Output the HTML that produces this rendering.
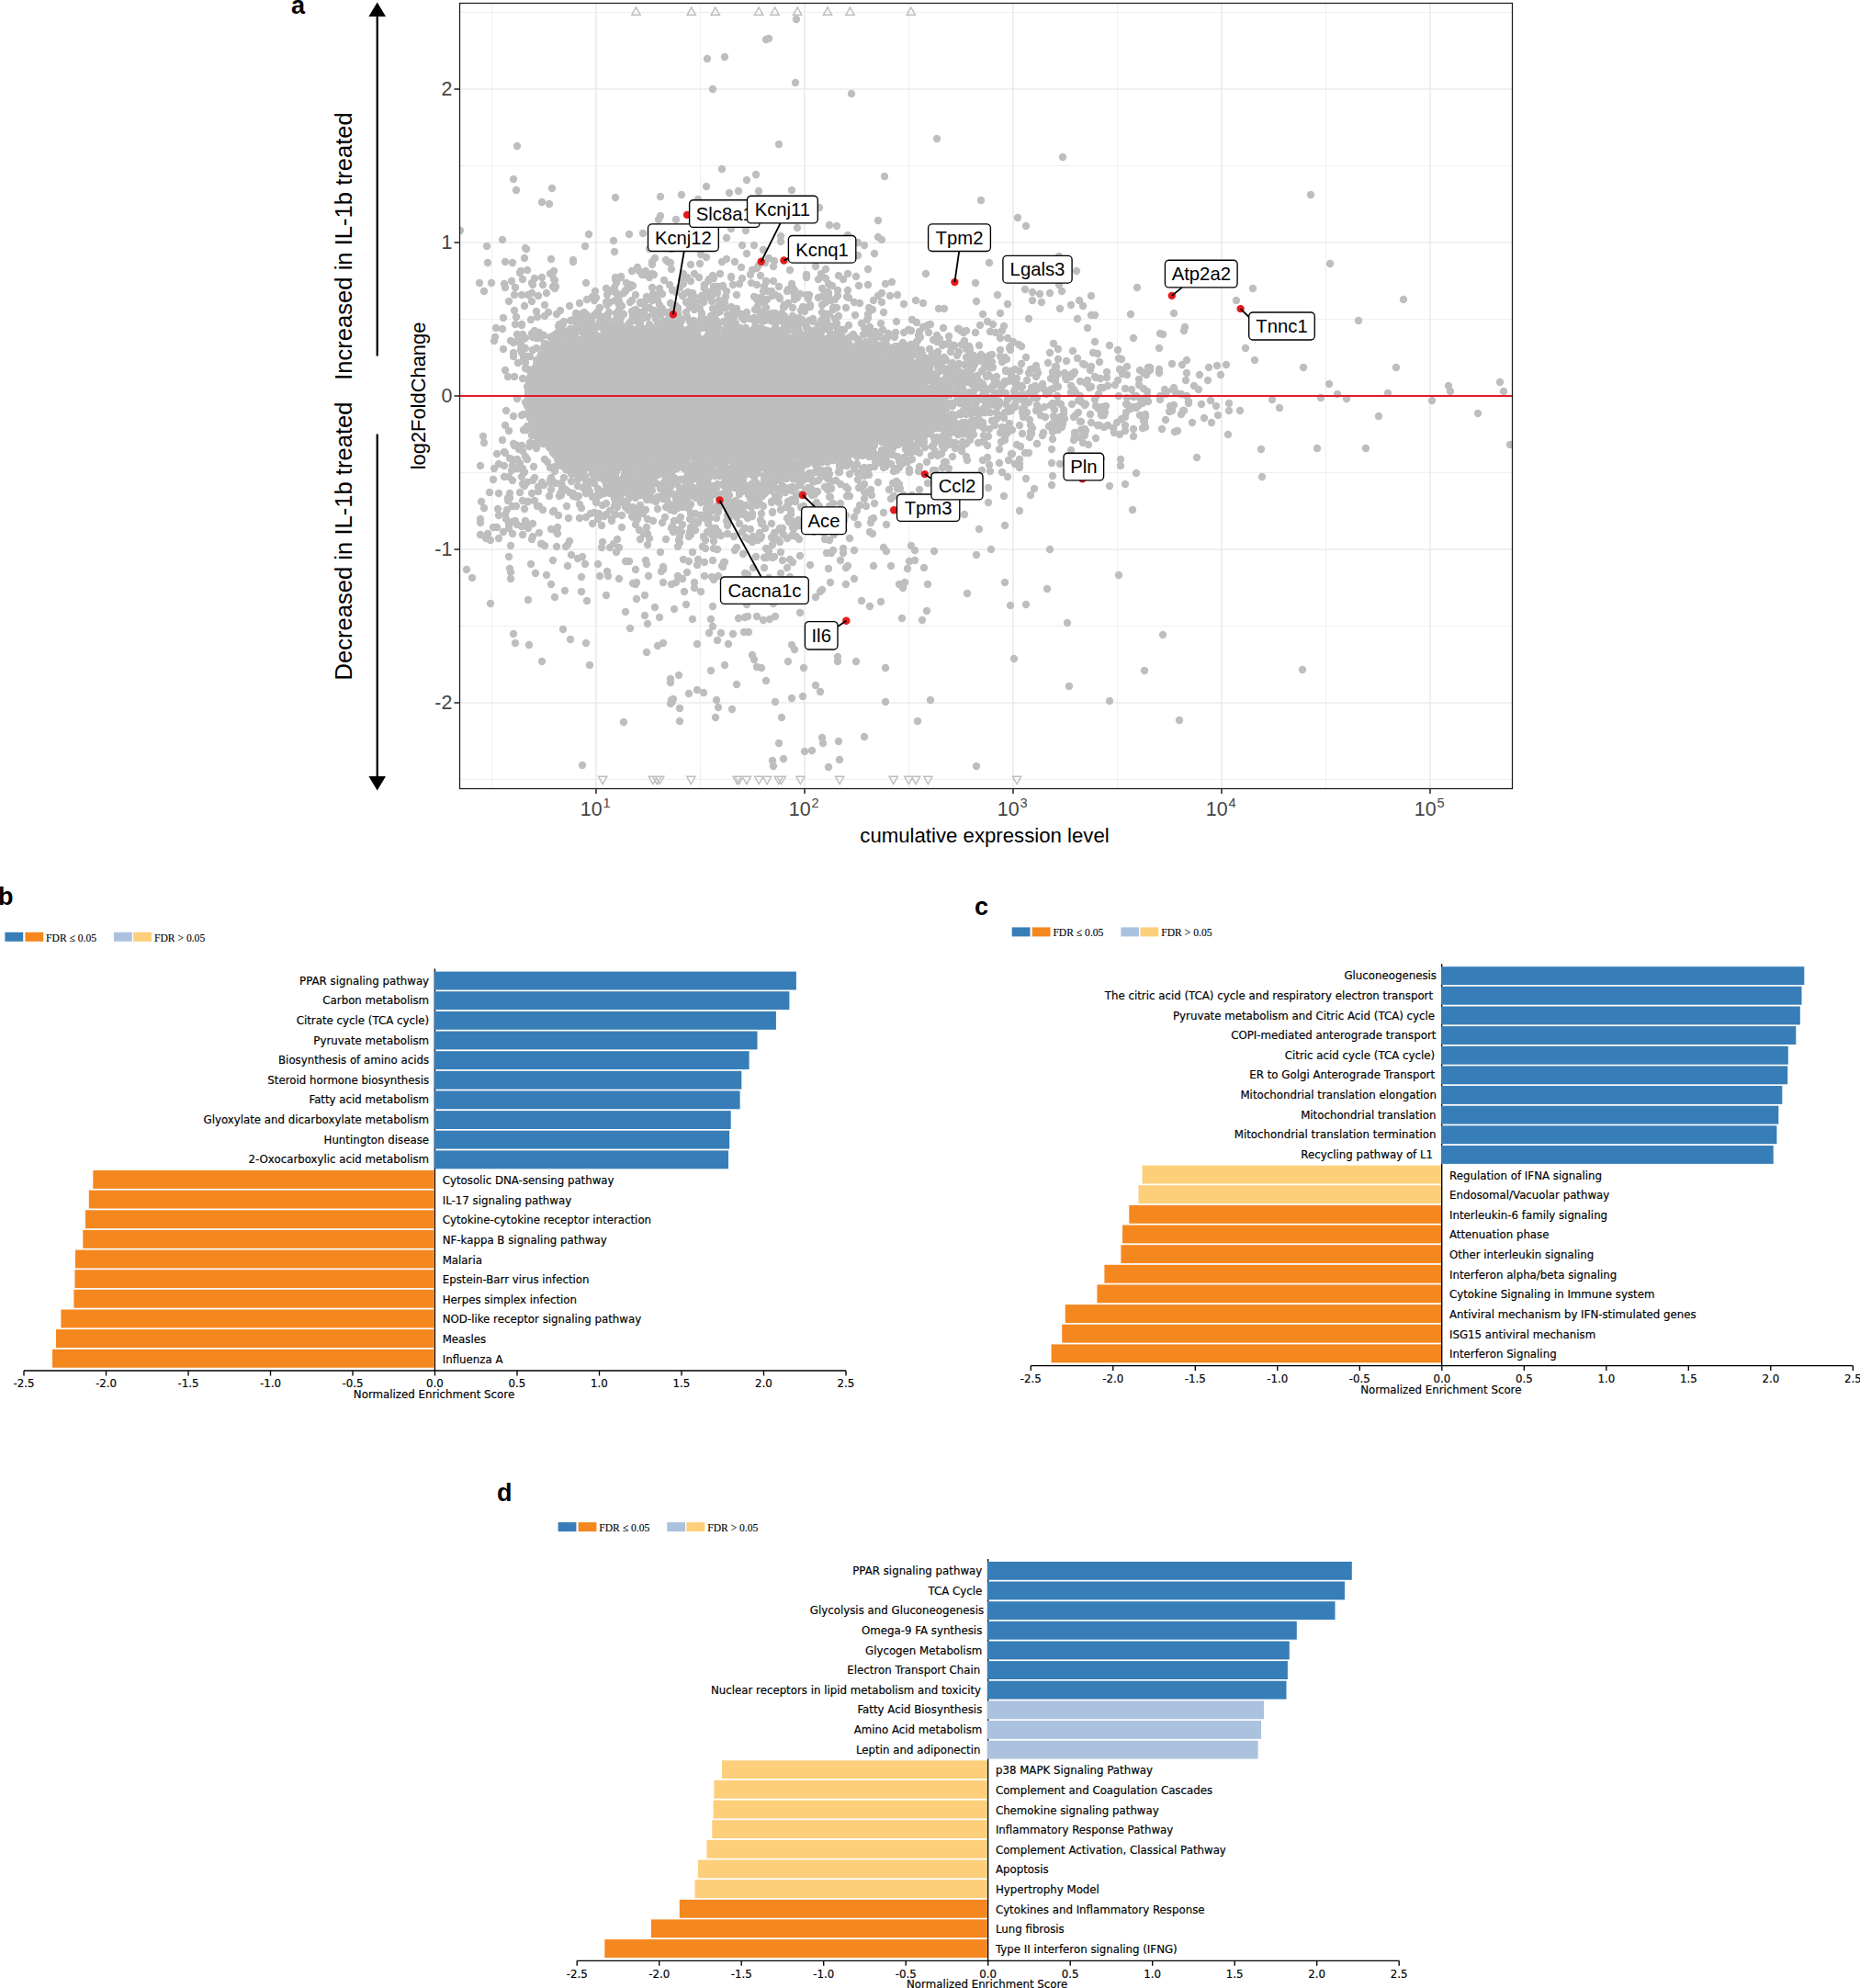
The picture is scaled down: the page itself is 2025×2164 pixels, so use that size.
<!DOCTYPE html><html><head><meta charset="utf-8"><title>Figure</title><style>
html,body{margin:0;padding:0;background:#fff;overflow:hidden}svg{display:block}
.h{font-family:"Liberation Sans",sans-serif}.d{font-family:"DejaVu Sans","Liberation Sans",sans-serif;font-size:11.8px;fill:#000;stroke:#000;stroke-width:0.18px}.s{font-family:"Liberation Serif",serif;font-size:11.6px;fill:#000;stroke:#000;stroke-width:0.12px}
.pl{font-family:"Liberation Sans",sans-serif;font-weight:bold;font-size:27px;fill:#000}
.g{font-family:"Liberation Sans",sans-serif;font-size:20.3px;fill:#000}.t{font-family:"Liberation Sans",sans-serif;font-size:21.4px;fill:#444}
</style></head><body>
<svg width="2025" height="2164" viewBox="0 0 2025 2164">
<rect width="2025" height="2164" fill="#fff"/>
<g id="panel-a">
<path d="M535.5 3.0V858.0M762.5 3.0V858.0M989.5 3.0V858.0M1216.5 3.0V858.0M1443.5 3.0V858.0M500.5 13.5H1646.5M500.5 180.5H1646.5M500.5 347.5H1646.5M500.5 514.5H1646.5M500.5 681.5H1646.5M500.5 848.5H1646.5" stroke="#ebebeb" stroke-width="0.8" fill="none"/>
<path d="M649.0 3.0V858.0M876.0 3.0V858.0M1103.0 3.0V858.0M1330.0 3.0V858.0M1557.0 3.0V858.0M500.5 97.0H1646.5M500.5 264.0H1646.5M500.5 431.0H1646.5M500.5 598.0H1646.5M500.5 765.0H1646.5" stroke="#ebebeb" stroke-width="1.6" fill="none"/>
<clipPath id="cp"><rect x="500.5" y="3.0" width="1146.0" height="855.0"/></clipPath>
<g clip-path="url(#cp)"><path d="M622 360h0M776 401h0M818 399h0M630 426h0M990 383h0M597 455h0M622 413h0M1014 424h0M827 459h0M722 385h0M781 423h0M844 399h0M683 545h0M625 421h0M899 293h0M847 514h0M781 439h0M914 434h0M796 547h0M1112 377h0M653 416h0M798 431h0M769 280h0M715 475h0M814 461h0M666 394h0M906 423h0M943 403h0M622 475h0M762 425h0M683 495h0M602 464h0M963 448h0M747 472h0M630 450h0M848 390h0M652 506h0M967 414h0M658 452h0M652 370h0M712 444h0M763 432h0M971 402h0M858 476h0M709 463h0M572 379h0M635 505h0M1242 435h0M759 427h0M855 454h0M590 442h0M580 437h0M930 478h0M812 484h0M696 369h0M700 443h0M605 432h0M640 396h0M926 463h0M762 349h0M621 461h0M876 416h0M650 431h0M817 417h0M963 440h0M577 426h0M908 450h0M647 486h0M606 402h0M690 389h0M871 434h0M773 391h0M934 436h0M658 355h0M699 428h0M675 473h0M1004 393h0M749 447h0M699 359h0M880 447h0M583 459h0M736 352h0M670 421h0M930 599h0M878 460h0M795 465h0M843 374h0M856 514h0M896 465h0M990 410h0M630 481h0M828 495h0M628 428h0M752 474h0M898 454h0M962 434h0M886 411h0M581 414h0M718 476h0M636 398h0M1278 422h0M628 446h0M670 491h0M717 407h0M593 402h0M945 428h0M833 422h0M635 456h0M775 410h0M600 398h0M822 350h0M664 486h0M582 465h0M616 470h0M799 363h0M833 491h0M703 413h0M836 458h0M715 365h0M622 492h0M699 479h0M732 376h0M976 394h0M616 479h0M604 492h0M802 453h0M1044 451h0M972 403h0M859 378h0M595 438h0M909 431h0M852 390h0M628 490h0M761 532h0M587 429h0M906 472h0M867 453h0M908 405h0M886 464h0M679 383h0M900 349h0M672 420h0M625 482h0M730 443h0M775 412h0M820 465h0M819 388h0M668 453h0M827 398h0M717 422h0M874 399h0M905 459h0M741 377h0M798 370h0M848 461h0M784 448h0M675 378h0M1104 426h0M608 447h0M703 426h0M796 406h0M633 420h0M905 327h0M897 479h0M833 429h0M967 479h0M884 448h0M692 368h0M836 402h0M710 288h0M881 417h0M728 437h0M632 441h0M949 466h0M855 396h0M879 389h0M801 420h0M897 449h0M754 435h0M803 440h0M593 425h0M799 347h0M913 408h0M862 454h0M907 402h0M774 422h0M952 485h0M613 393h0M949 433h0M722 429h0M606 389h0M826 382h0M757 511h0M746 431h0M934 413h0M625 439h0M825 431h0M740 382h0M788 350h0M776 467h0M624 426h0M781 435h0M940 478h0M639 416h0M596 394h0M759 406h0M1080 458h0M585 419h0M1182 469h0M791 444h0M618 439h0M742 423h0M654 468h0M865 417h0M793 423h0M688 468h0M674 438h0M943 454h0M889 445h0M749 460h0M737 429h0M876 436h0M1066 376h0M601 412h0M634 424h0M719 508h0M779 394h0M597 425h0M589 388h0M659 418h0M729 435h0M876 470h0M822 446h0M578 439h0M585 410h0M756 421h0M948 485h0M978 411h0M720 358h0M957 439h0M991 442h0M737 409h0M880 503h0M720 438h0M632 415h0M807 488h0M604 434h0M844 413h0M910 460h0M978 434h0M754 506h0M617 373h0M968 462h0M945 454h0M1056 477h0M815 431h0M848 410h0M723 443h0M644 436h0M689 481h0M868 454h0M703 467h0M856 416h0M777 374h0M755 513h0M1056 463h0M637 418h0M771 514h0M635 415h0M1000 427h0M771 414h0M706 409h0M638 428h0M815 422h0M734 469h0M621 412h0M731 455h0M811 372h0M784 393h0M966 405h0M975 428h0M999 403h0M905 400h0M767 540h0M786 405h0M733 378h0M734 394h0M584 427h0M905 416h0M670 450h0M578 421h0M762 411h0M867 376h0M749 416h0M720 459h0M842 461h0M636 442h0M814 428h0M789 436h0M942 480h0M741 479h0M898 466h0M577 388h0M817 299h0M662 495h0M621 482h0M724 373h0M708 422h0M802 403h0M957 418h0M720 541h0M645 434h0M808 454h0M728 446h0M700 403h0M729 433h0M588 428h0M799 424h0M828 411h0M881 412h0M1030 417h0M716 453h0M841 607h0M752 405h0M658 473h0M958 400h0M879 414h0M1007 413h0M916 466h0M980 532h0M621 349h0M651 390h0M739 588h0M854 332h0M750 441h0M782 404h0M886 435h0M597 470h0M850 392h0M587 463h0M672 383h0M869 437h0M852 533h0M737 412h0M691 390h0M920 457h0M682 468h0M579 431h0M671 416h0M911 461h0M619 465h0M1078 361h0M657 491h0M695 433h0M811 425h0M696 451h0M726 362h0M611 435h0M730 504h0M576 434h0M661 375h0M973 434h0M685 542h0M681 611h0M954 498h0M691 412h0M725 512h0M866 380h0M901 477h0M823 525h0M643 440h0M885 477h0M862 309h0M963 370h0M895 460h0M743 466h0M623 441h0M959 367h0M857 473h0M808 424h0M852 454h0M728 380h0M807 400h0M769 368h0M863 452h0M999 397h0M931 390h0M729 476h0M723 471h0M989 457h0M732 392h0M905 450h0M606 485h0M756 469h0M783 364h0M910 449h0M950 361h0M825 504h0M830 506h0M631 386h0M923 414h0M798 419h0M1040 488h0M646 395h0M786 429h0M703 295h0M835 421h0M821 397h0M781 504h0M703 465h0M778 518h0M723 467h0M959 504h0M760 407h0M766 495h0M676 395h0M1023 458h0M699 433h0M944 440h0M815 407h0M1110 505h0M636 443h0M1005 435h0M892 460h0M804 429h0M863 419h0M869 435h0M755 400h0M832 359h0M663 371h0M849 419h0M765 349h0M970 434h0M678 454h0M915 548h0M1146 518h0M964 500h0M1047 472h0M634 371h0M637 502h0M663 473h0M718 473h0M616 432h0M631 437h0M995 428h0M718 502h0M828 451h0M757 361h0M878 457h0M908 462h0M727 370h0M791 481h0M608 465h0M687 471h0M661 349h0M696 468h0M703 487h0M807 398h0M706 427h0M704 464h0M922 412h0M591 472h0M942 416h0M832 409h0M871 464h0M1031 424h0M659 443h0M982 439h0M669 390h0M784 449h0M851 460h0M904 455h0M671 514h0M766 394h0M688 454h0M1113 429h0M970 417h0M810 445h0M899 381h0M968 533h0M706 453h0M1110 463h0M755 571h0M634 433h0M788 430h0M815 463h0M856 521h0M847 369h0M584 428h0M834 404h0M984 498h0M847 374h0M1084 362h0M781 504h0M910 463h0M626 469h0M963 424h0M750 553h0M949 363h0M702 531h0M828 497h0M931 434h0M864 401h0M826 462h0M1066 417h0M604 433h0M610 456h0M797 486h0M1025 415h0M853 486h0M697 433h0M613 460h0M754 418h0M768 407h0M763 517h0M826 465h0M682 422h0M952 422h0M688 490h0M612 446h0M713 517h0M998 351h0M634 441h0M684 451h0M989 461h0M713 426h0M928 456h0M586 535h0M957 422h0M667 422h0M643 461h0M878 413h0M1170 405h0M1034 400h0M882 362h0M977 465h0M1152 391h0M798 478h0M628 464h0M932 301h0M733 478h0M698 390h0M776 513h0M678 387h0M816 470h0M881 425h0M1030 466h0M915 420h0M1005 455h0M833 426h0M874 430h0M812 452h0M601 459h0M593 475h0M886 469h0M652 467h0M900 440h0M761 302h0M802 395h0M752 326h0M598 478h0M677 393h0M696 503h0M712 419h0M862 429h0M638 524h0M752 436h0M820 373h0M1011 453h0M616 379h0M601 394h0M648 506h0M660 329h0M636 427h0M599 459h0M655 389h0M661 375h0M767 456h0M837 403h0M719 458h0M638 459h0M607 412h0M678 434h0M639 420h0M768 471h0M946 476h0M866 389h0M653 445h0M581 441h0M596 467h0M749 481h0M719 390h0M852 445h0M603 445h0M674 441h0M853 465h0M804 505h0M783 422h0M967 436h0M615 437h0M649 407h0M803 490h0M803 470h0M1108 422h0M1093 418h0M812 450h0M885 347h0M858 465h0M623 384h0M818 480h0M695 424h0M717 447h0M633 378h0M935 477h0M867 407h0M882 450h0M688 403h0M742 438h0M641 418h0M818 450h0M926 451h0M895 503h0M996 447h0M676 302h0M860 442h0M621 485h0M791 522h0M614 449h0M793 491h0M793 415h0M712 400h0M713 480h0M864 462h0M768 383h0M738 372h0M615 433h0M686 450h0M931 385h0M1071 434h0M723 443h0M945 419h0M947 471h0M682 387h0M858 381h0M695 455h0M1026 424h0M720 499h0M872 499h0M862 417h0M657 490h0M942 481h0M705 398h0M614 434h0M588 430h0M756 540h0M831 347h0M681 437h0M928 458h0M679 445h0M931 399h0M580 367h0M677 545h0M634 456h0M754 454h0M714 546h0M732 444h0M933 457h0M809 426h0M820 487h0M730 364h0M909 429h0M777 506h0M880 445h0M977 419h0M823 606h0M749 434h0M678 381h0M976 423h0M888 514h0M905 452h0M660 432h0M750 456h0M954 425h0M670 412h0M912 411h0M792 481h0M659 460h0M724 414h0M599 453h0M848 402h0M871 528h0M578 434h0M693 494h0M890 423h0M651 480h0M791 388h0M908 463h0M805 413h0M619 431h0M973 419h0M880 492h0M803 464h0M810 481h0M731 374h0M617 391h0M619 500h0M586 448h0M639 463h0M832 451h0M809 427h0M814 374h0M917 457h0M607 468h0M730 473h0M601 439h0M742 305h0M600 448h0M611 498h0M730 429h0M887 457h0M685 464h0M878 393h0M665 422h0M688 385h0M764 462h0M755 404h0M811 420h0M918 304h0M590 403h0M905 419h0M805 570h0M809 432h0M588 445h0M951 470h0M683 461h0M795 439h0M792 430h0M974 427h0M818 489h0M1186 422h0M665 426h0M843 474h0M808 535h0M782 438h0M829 327h0M708 466h0M835 385h0M602 610h0M767 409h0M756 400h0M657 372h0M804 495h0M847 441h0M620 445h0M692 418h0M816 447h0M602 426h0M664 535h0M754 400h0M756 416h0M580 446h0M1013 353h0M664 466h0M822 415h0M661 392h0M816 453h0M715 426h0M701 480h0M765 411h0M812 427h0M817 432h0M854 482h0M680 529h0M606 468h0M673 427h0M704 428h0M821 368h0M740 466h0M698 439h0M609 353h0M816 470h0M614 417h0M783 447h0M854 422h0M827 487h0M635 426h0M716 427h0M1004 385h0M605 422h0M850 438h0M750 552h0M823 369h0M732 443h0M619 364h0M802 507h0M941 394h0M905 531h0M724 527h0M791 317h0M787 540h0M1105 402h0M692 460h0M737 378h0M899 422h0M872 465h0M744 377h0M837 454h0M737 418h0M617 466h0M830 498h0M753 497h0M696 410h0M680 434h0M785 398h0M671 442h0M732 426h0M1006 416h0M767 443h0M674 403h0M785 492h0M980 423h0M942 411h0M850 442h0M965 387h0M884 469h0M851 515h0M746 471h0M630 444h0M873 451h0M832 417h0M1057 401h0M702 399h0M949 406h0M659 415h0M1011 414h0M1234 368h0M586 405h0M703 526h0M1269 457h0M1058 444h0M847 455h0M624 461h0M1009 424h0M908 474h0M746 440h0M887 468h0M968 398h0M693 405h0M948 377h0M680 443h0M705 421h0M585 424h0M635 399h0M797 436h0M795 407h0M639 492h0M881 433h0M621 433h0M654 423h0M680 367h0M810 362h0M910 452h0M883 439h0M877 497h0M851 505h0M794 407h0M711 506h0M643 366h0M941 397h0M738 394h0M838 449h0M596 425h0M718 393h0M610 420h0M874 494h0M710 460h0M852 418h0M619 406h0M728 424h0M739 441h0M780 475h0M663 522h0M859 428h0M953 411h0M912 466h0M579 441h0M771 493h0M711 451h0M806 467h0M602 448h0M872 519h0M741 420h0M1008 440h0M742 370h0M770 462h0M922 446h0M884 427h0M644 358h0M696 425h0M875 422h0M743 571h0M678 387h0M993 500h0M928 440h0M716 499h0M797 442h0M991 423h0M658 391h0M973 485h0M955 414h0M871 425h0M853 431h0M853 367h0M794 489h0M810 442h0M650 441h0M802 429h0M848 417h0M770 494h0M850 450h0M907 437h0M868 439h0M605 397h0M890 437h0M687 371h0M601 459h0M618 593h0M703 472h0M786 437h0M705 449h0M653 369h0M890 282h0M724 536h0M947 467h0M670 468h0M855 503h0M717 403h0M932 434h0M837 470h0M850 624h0M606 386h0M882 450h0M715 422h0M877 521h0M930 390h0M885 386h0M1059 401h0M966 458h0M749 388h0M923 440h0M591 421h0M810 417h0M787 499h0M918 414h0M665 433h0M760 443h0M1170 471h0M694 361h0M736 405h0M821 437h0M1225 454h0M644 524h0M855 398h0M740 478h0M735 486h0M675 462h0M762 469h0M807 451h0M731 575h0M778 341h0M832 492h0M934 515h0M801 375h0M727 444h0M1039 470h0M640 368h0M586 420h0M973 400h0M679 452h0M631 470h0M728 437h0M711 373h0M716 375h0M933 461h0M689 533h0M623 491h0M658 457h0M1016 512h0M746 440h0M718 496h0M894 438h0M998 422h0M780 551h0M913 370h0M678 421h0M714 446h0M808 374h0M666 373h0M683 487h0M646 499h0M677 433h0M926 412h0M903 477h0M615 493h0M713 389h0M869 566h0M938 419h0M801 389h0M871 498h0M667 317h0M896 439h0M916 446h0M737 456h0M666 410h0M580 443h0M830 477h0M831 488h0M784 441h0M1001 397h0M578 420h0M625 435h0M591 406h0M750 481h0M728 398h0M945 342h0M595 415h0M652 466h0M1001 472h0M676 455h0M732 435h0M559 388h0M688 417h0M819 398h0M824 456h0M821 454h0M839 443h0M824 413h0M840 525h0M811 468h0M659 413h0M743 322h0M667 441h0M944 516h0M684 416h0M636 393h0M904 388h0M887 447h0M934 457h0M850 419h0M741 391h0M766 513h0M799 401h0M816 458h0M1010 445h0M678 457h0M890 425h0M647 429h0M1009 471h0M673 546h0M781 431h0M979 475h0M840 403h0M771 521h0M860 294h0M1098 415h0M1005 390h0M644 400h0M626 449h0M688 562h0M628 435h0M888 435h0M923 478h0M627 492h0M598 433h0M703 394h0M854 515h0M891 440h0M760 501h0M834 426h0M980 447h0M952 440h0M617 431h0M865 476h0M894 417h0M972 488h0M742 495h0M633 417h0M765 441h0M722 510h0M732 410h0M907 501h0M839 420h0M851 455h0M839 424h0M627 441h0M591 408h0M732 573h0M932 450h0M838 455h0M901 413h0M827 451h0M898 484h0M1239 442h0M865 454h0M940 420h0M1074 410h0M877 504h0M912 450h0M600 435h0M581 449h0M986 425h0M667 395h0M695 423h0M624 465h0M832 523h0M578 348h0M905 355h0M692 337h0M879 465h0M974 459h0M855 494h0M745 408h0M828 429h0M936 452h0M864 443h0M673 443h0M951 464h0M827 476h0M594 456h0M797 416h0M813 448h0M690 412h0M956 422h0M668 392h0M628 411h0M697 430h0M709 415h0M954 425h0M841 465h0M619 399h0M732 448h0M611 458h0M862 492h0M935 438h0M607 437h0M776 404h0M670 503h0M687 385h0M880 461h0M1092 393h0M684 494h0M794 478h0M697 371h0M593 425h0M819 470h0M633 427h0M854 438h0M880 429h0M627 461h0M816 433h0M655 378h0M887 449h0M687 471h0M855 408h0M837 423h0M807 512h0M659 379h0M923 463h0M716 423h0M891 373h0M766 496h0M754 532h0M864 408h0M710 483h0M888 481h0M753 364h0M877 447h0M858 447h0M1010 472h0M738 341h0M713 483h0M1222 403h0M783 435h0M742 480h0M860 436h0M672 504h0M1031 414h0M883 425h0M838 456h0M689 490h0M910 406h0M982 386h0M901 438h0M976 451h0M606 342h0M877 336h0M943 382h0M766 397h0M601 381h0M794 429h0M669 274h0M998 425h0M922 452h0M832 633h0M881 428h0M847 452h0M761 434h0M618 396h0M688 380h0M779 419h0M810 380h0M693 381h0M621 473h0M710 298h0M645 424h0M993 539h0M660 455h0M732 434h0M793 433h0M673 452h0M774 464h0M798 504h0M587 472h0M1013 433h0M792 561h0M629 497h0M1121 406h0M638 432h0M871 454h0M769 498h0M675 509h0M726 457h0M768 474h0M722 543h0M671 483h0M741 399h0M749 498h0M854 477h0M650 412h0M586 407h0M923 447h0M596 436h0M831 465h0M796 397h0M1083 415h0M647 406h0M622 364h0M639 448h0M840 482h0M637 462h0M812 461h0M849 470h0M620 510h0M900 530h0M744 428h0M1055 377h0M600 455h0M826 289h0M675 410h0M736 475h0M973 471h0M711 450h0M588 424h0M628 415h0M799 379h0M893 459h0M885 466h0M764 382h0M668 395h0M621 359h0M661 433h0M651 485h0M972 421h0M738 449h0M616 424h0M833 461h0M758 425h0M578 436h0M1106 415h0M1011 460h0M677 436h0M923 403h0M757 394h0M848 480h0M840 414h0M873 444h0M751 481h0M629 450h0M907 453h0M751 432h0M752 421h0M886 579h0M853 449h0M1166 410h0M729 382h0M832 484h0M602 458h0M615 361h0M674 547h0M685 416h0M754 481h0M663 340h0M999 431h0M746 411h0M727 496h0M967 427h0M903 410h0M891 482h0M977 418h0M875 482h0M695 433h0M1039 409h0M577 433h0M964 446h0M742 579h0M709 446h0M765 491h0M734 434h0M939 438h0M908 461h0M880 444h0M665 508h0M751 379h0M599 480h0M878 436h0M584 466h0M733 408h0M631 385h0M934 446h0M981 443h0M689 416h0M946 470h0M642 455h0M864 488h0M672 456h0M753 442h0M822 394h0M714 457h0M650 367h0M812 419h0M902 449h0M1234 443h0M702 486h0M675 459h0M599 473h0M653 408h0M672 548h0M871 351h0M616 428h0M837 408h0M691 471h0M663 480h0M769 559h0M749 359h0M754 402h0M803 415h0M968 441h0M601 440h0M812 364h0M701 445h0M673 392h0M1158 450h0M696 456h0M983 448h0M825 432h0M679 384h0M599 438h0M792 469h0M973 383h0M589 430h0M577 426h0M578 423h0M682 404h0M637 463h0M1058 386h0M893 389h0M1002 367h0M809 523h0M916 439h0M863 434h0M690 427h0M839 412h0M688 434h0M761 453h0M917 414h0M660 397h0M641 396h0M933 477h0M761 408h0M640 360h0M700 439h0M685 457h0M963 471h0M765 416h0M983 466h0M764 344h0M1002 410h0M979 483h0M804 455h0M899 404h0M688 339h0M616 505h0M819 434h0M590 447h0M762 399h0M826 378h0M890 409h0M963 403h0M653 457h0M942 433h0M774 440h0M827 395h0M760 506h0M931 404h0M693 420h0M921 268h0M843 424h0M866 423h0M620 477h0M828 324h0M880 397h0M843 427h0M816 433h0M840 382h0M630 394h0M755 417h0M705 473h0M875 471h0M783 413h0M868 390h0M857 406h0M970 389h0M936 481h0M588 458h0M846 391h0M723 400h0M610 471h0M767 404h0M929 459h0M903 377h0M612 532h0M652 439h0M857 424h0M1058 458h0M600 461h0M605 449h0M857 447h0M824 469h0M911 442h0M651 471h0M774 481h0M906 405h0M727 400h0M734 481h0M580 411h0M904 424h0M754 453h0M725 465h0M841 419h0M934 394h0M943 490h0M711 478h0M821 422h0M729 402h0M926 478h0M902 434h0M843 495h0M918 471h0M780 458h0M805 518h0M636 374h0M863 389h0M688 450h0M802 596h0M733 538h0M824 292h0M830 428h0M802 426h0M673 419h0M840 383h0M843 458h0M813 398h0M725 459h0M631 488h0M800 530h0M979 452h0M715 459h0M686 416h0M755 419h0M611 463h0M954 448h0M1105 505h0M917 404h0M807 481h0M1004 436h0M706 408h0M761 422h0M639 424h0M745 490h0M990 467h0M844 382h0M795 398h0M791 467h0M832 467h0M822 402h0M756 450h0M780 472h0M610 464h0M752 448h0M849 439h0M661 415h0M683 421h0M908 378h0M625 501h0M649 420h0M915 446h0M618 417h0M693 481h0M974 439h0M740 425h0M914 474h0M888 466h0M659 381h0M975 437h0M702 488h0M736 500h0M997 475h0M614 378h0M1070 430h0M837 345h0M829 324h0M830 469h0M917 472h0M732 386h0M598 399h0M623 438h0M600 479h0M741 417h0M914 446h0M737 448h0M735 438h0M734 365h0M787 481h0M791 390h0M653 413h0M902 407h0M783 420h0M715 430h0M1046 360h0M862 456h0M636 463h0M1061 458h0M808 418h0M710 357h0M667 538h0M596 380h0M670 478h0M688 327h0M711 320h0M1158 446h0M814 481h0M648 435h0M722 479h0M748 474h0M602 401h0M763 429h0M779 456h0M974 421h0M748 465h0M854 408h0M851 405h0M641 447h0M804 513h0M755 466h0M636 462h0M575 435h0M1234 475h0M956 418h0M721 359h0M602 416h0M1048 437h0M843 468h0M736 464h0M926 464h0M863 496h0M741 436h0M867 359h0M876 405h0M640 498h0M866 451h0M979 446h0M854 437h0M905 444h0M1174 449h0M903 414h0M763 527h0M802 429h0M889 416h0M831 452h0M915 451h0M660 422h0M701 423h0M917 367h0M622 459h0M684 409h0M675 444h0M586 416h0M878 426h0M701 362h0M738 470h0M707 409h0M595 425h0M929 448h0M624 478h0M687 521h0M868 440h0M713 393h0M779 504h0M705 470h0M801 421h0M700 464h0M758 412h0M914 425h0M1274 442h0M907 405h0M786 515h0M847 479h0M872 402h0M1190 384h0M711 471h0M754 383h0M895 454h0M658 537h0M608 457h0M965 445h0M961 450h0M978 439h0M637 409h0M884 434h0M681 488h0M1129 403h0M956 470h0M888 360h0M749 318h0M1143 384h0M805 410h0M1107 484h0M868 395h0M904 468h0M926 417h0M952 441h0M827 403h0M582 420h0M943 438h0M744 425h0M650 398h0M655 488h0M652 416h0M913 427h0M981 559h0M869 458h0M664 537h0M782 400h0M642 412h0M966 408h0M633 421h0M762 518h0M821 446h0M757 559h0M658 452h0M689 559h0M997 469h0M620 377h0M973 471h0M956 322h0M853 426h0M764 402h0M1020 447h0M740 372h0M749 438h0M788 433h0M796 458h0M957 431h0M596 461h0M935 427h0M785 445h0M873 467h0M740 430h0M691 434h0M708 489h0M682 441h0M757 457h0M817 508h0M922 437h0M641 365h0M755 423h0M789 437h0M915 465h0M864 410h0M827 385h0M848 408h0M754 432h0M909 432h0M925 485h0M803 403h0M617 479h0M745 443h0M678 412h0M648 401h0M691 467h0M915 417h0M713 372h0M747 432h0M727 377h0M645 411h0M806 388h0M741 405h0M999 434h0M825 446h0M1096 391h0M938 427h0M772 450h0M657 436h0M618 422h0M876 500h0M836 433h0M702 410h0M768 421h0M884 413h0M692 442h0M640 418h0M688 455h0M1008 397h0M798 414h0M688 526h0M629 432h0M707 430h0M823 435h0M758 434h0M912 432h0M1221 391h0M805 424h0M712 481h0M903 499h0M605 445h0M886 460h0M953 444h0M894 501h0M609 415h0M810 511h0M906 440h0M739 444h0M929 455h0M637 500h0M788 420h0M800 355h0M899 410h0M739 462h0M676 443h0M864 462h0M615 405h0M721 507h0M763 466h0M899 444h0M745 437h0M802 437h0M850 418h0M849 469h0M1044 428h0M761 465h0M806 382h0M648 496h0M672 407h0M656 483h0M784 431h0M651 406h0M805 533h0M919 391h0M598 429h0M669 444h0M775 489h0M628 449h0M807 445h0M734 427h0M969 437h0M805 456h0M885 442h0M712 358h0M725 440h0M935 438h0M824 406h0M978 461h0M673 388h0M616 381h0M850 381h0M620 441h0M599 422h0M730 499h0M853 425h0M718 314h0M883 483h0M757 577h0M687 429h0M790 470h0M819 486h0M630 425h0M814 625h0M638 499h0M1058 449h0M789 457h0M654 437h0M657 459h0M700 434h0M807 388h0M844 401h0M864 475h0M752 464h0M830 423h0M798 410h0M691 434h0M659 446h0M734 467h0M855 450h0M624 285h0M832 432h0M645 417h0M847 421h0M909 397h0M889 362h0M852 462h0M674 431h0M1157 462h0M818 527h0M974 415h0M667 473h0M1063 420h0M601 387h0M833 401h0M675 421h0M607 430h0M805 416h0M657 357h0M899 400h0M760 522h0M680 432h0M856 501h0M833 464h0M908 472h0M727 469h0M978 477h0M981 415h0M888 469h0M610 537h0M1152 468h0M605 437h0M882 420h0M670 390h0M855 499h0M925 473h0M617 385h0M703 407h0M962 418h0M767 369h0M632 438h0M604 373h0M619 394h0M612 439h0M717 381h0M894 470h0M756 455h0M609 443h0M715 514h0M769 355h0M754 379h0M835 458h0M851 454h0M880 388h0M791 446h0M891 369h0M897 323h0M872 514h0M750 382h0M956 441h0M608 475h0M877 533h0M816 419h0M859 453h0M595 480h0M1058 450h0M642 363h0M783 327h0M806 408h0M642 423h0M688 453h0M978 392h0M702 430h0M753 452h0M614 459h0M805 538h0M860 368h0M877 441h0M665 451h0M840 462h0M1074 445h0M891 324h0M659 474h0M595 430h0M705 431h0M788 403h0M681 413h0M900 465h0M675 430h0M620 394h0M819 431h0M886 408h0M653 423h0M707 397h0M676 485h0M852 462h0M588 390h0M822 408h0M829 426h0M789 383h0M584 466h0M582 401h0M782 502h0M772 530h0M568 573h0M892 372h0M703 441h0M867 374h0M651 420h0M679 498h0M965 475h0M650 453h0M738 335h0M775 628h0M864 350h0M701 342h0M838 420h0M661 453h0M851 514h0M646 390h0M593 390h0M610 398h0M881 321h0M761 415h0M897 431h0M1083 441h0M646 447h0M890 392h0M1071 431h0M697 408h0M600 466h0M760 416h0M794 463h0M854 433h0M805 489h0M694 437h0M636 438h0M709 463h0M763 441h0M645 422h0M692 480h0M954 455h0M744 478h0M620 410h0M845 429h0M716 466h0M782 432h0M731 448h0M616 393h0M875 371h0M805 405h0M1166 427h0M808 303h0M745 419h0M749 466h0M869 423h0M669 453h0M734 411h0M624 485h0M750 476h0M584 403h0M664 385h0M732 464h0M789 386h0M826 408h0M914 425h0M707 390h0M629 501h0M887 505h0M789 359h0M625 360h0M638 409h0M923 391h0M851 437h0M857 473h0M626 456h0M1178 438h0M674 337h0M715 485h0M665 434h0M1006 472h0M831 442h0M798 457h0M740 347h0M867 398h0M763 430h0M760 536h0M631 343h0M918 457h0M595 426h0M972 398h0M979 441h0M786 374h0M636 439h0M659 443h0M626 435h0M860 441h0M719 373h0M1121 457h0M710 543h0M705 440h0M849 410h0M950 416h0M787 444h0M619 475h0M639 405h0M866 432h0M889 414h0M1173 476h0M806 357h0M896 431h0M849 416h0M797 377h0M909 468h0M653 399h0M632 469h0M697 329h0M728 448h0M1016 391h0M918 428h0M879 490h0M960 428h0M728 424h0M1136 423h0M972 464h0M645 511h0M725 498h0M696 405h0M648 317h0M1000 480h0M731 396h0M944 431h0M816 485h0M592 448h0M748 302h0M895 487h0M701 396h0M690 444h0M607 404h0M765 386h0M1006 427h0M956 445h0M817 445h0M685 531h0M965 436h0M990 423h0M1075 485h0M760 424h0M740 470h0M844 488h0M958 399h0M714 374h0M706 435h0M738 446h0M574 388h0M927 404h0M758 351h0M762 388h0M831 468h0M910 433h0M862 534h0M707 398h0M691 453h0M789 407h0M911 411h0M820 359h0M929 409h0M802 425h0M727 451h0M765 515h0M782 374h0M829 570h0M599 457h0M902 409h0M797 485h0M683 386h0M979 509h0M734 355h0M893 424h0M692 491h0M796 301h0M647 386h0M705 423h0M628 433h0M886 474h0M755 404h0M712 338h0M811 504h0M664 423h0M750 444h0M804 514h0M824 409h0M744 478h0M878 422h0M943 448h0M1044 383h0M801 361h0M1049 440h0M1001 493h0M840 499h0M624 283h0M835 408h0M789 460h0M860 423h0M681 420h0M1202 465h0M712 409h0M1292 392h0M683 458h0M767 519h0M851 409h0M676 489h0M737 510h0M843 488h0M883 463h0M980 445h0M798 431h0M1042 387h0M685 412h0M821 419h0M885 406h0M602 406h0M899 419h0M915 407h0M802 474h0M986 469h0M859 438h0M721 505h0M909 426h0M784 414h0M852 419h0M1160 411h0M858 427h0M894 298h0M914 506h0M651 428h0M582 424h0M599 464h0M761 427h0M1051 466h0M754 409h0M986 459h0M690 500h0M627 376h0M737 423h0M929 426h0M1056 414h0M792 532h0M726 478h0M899 454h0M745 424h0M694 410h0M884 416h0M602 426h0M894 405h0M1024 390h0M611 477h0M896 461h0M620 437h0M690 504h0M1287 397h0M589 440h0M758 459h0M752 436h0M642 454h0M1096 471h0M666 386h0M967 398h0M794 437h0M865 424h0M878 412h0M849 429h0M910 451h0M952 458h0M627 410h0M605 429h0M757 421h0M613 447h0M814 469h0M1005 432h0M782 356h0M638 403h0M617 399h0M789 387h0M878 394h0M908 447h0M884 464h0M761 388h0M948 420h0M793 380h0M852 457h0M772 465h0M604 436h0M657 441h0M693 386h0M807 410h0M599 367h0M864 486h0M732 408h0M659 491h0M1026 427h0M843 419h0M708 430h0M619 398h0M772 558h0M891 477h0M781 430h0M697 445h0M615 430h0M661 386h0M900 392h0M634 399h0M1113 445h0M872 431h0M736 427h0M647 450h0M762 438h0M1021 441h0M617 499h0M669 468h0M600 450h0M870 401h0M1018 455h0M800 471h0M692 379h0M1045 469h0M812 425h0M1036 408h0M723 476h0M629 529h0M597 420h0M748 414h0M888 455h0M763 547h0M680 478h0M966 490h0M819 387h0M916 411h0M847 438h0M669 409h0M1021 438h0M635 451h0M635 421h0M838 389h0M810 509h0M663 483h0M860 415h0M609 428h0M766 433h0M1012 423h0M963 432h0M819 456h0M902 452h0M844 411h0M665 431h0M938 455h0M822 452h0M816 415h0M1022 336h0M801 414h0M704 454h0M744 423h0M799 469h0M946 404h0M928 416h0M733 493h0M771 369h0M588 459h0M834 400h0M907 335h0M650 459h0M832 434h0M626 364h0M926 473h0M873 376h0M997 420h0M686 504h0M639 409h0M805 468h0M591 461h0M916 484h0M653 395h0M630 453h0M861 456h0M587 414h0M743 451h0M644 394h0M896 448h0M650 505h0M892 450h0M783 418h0M616 463h0M1174 436h0M722 382h0M743 412h0M878 376h0M773 467h0M921 415h0M791 435h0M670 461h0M791 393h0M926 436h0M685 494h0M809 443h0M856 425h0M718 319h0M662 438h0M844 464h0M931 402h0M764 388h0M625 427h0M907 482h0M788 488h0M852 453h0M610 428h0M898 587h0M723 414h0M958 409h0M671 469h0M701 416h0M870 445h0M868 423h0M931 415h0M656 422h0M815 477h0M598 384h0M662 437h0M586 424h0M830 477h0M962 404h0M818 446h0M819 467h0M969 448h0M705 473h0M800 555h0M910 434h0M649 459h0M861 381h0M600 533h0M722 350h0M645 513h0M748 451h0M653 498h0M753 378h0M730 555h0M874 455h0M832 398h0M585 444h0M770 470h0M975 444h0M771 430h0M766 430h0M597 443h0M899 439h0M679 413h0M764 428h0M869 376h0M901 473h0M729 422h0M592 401h0M1144 412h0M674 328h0M584 436h0M826 421h0M947 415h0M604 399h0M850 400h0M806 442h0M676 362h0M678 418h0M889 547h0M668 396h0M719 422h0M893 443h0M699 417h0M590 397h0M878 357h0M854 425h0M621 417h0M871 425h0M827 475h0M721 438h0M808 505h0M777 458h0M902 470h0M1019 395h0M710 389h0M605 427h0M720 387h0M817 404h0M675 438h0M632 430h0M656 412h0M932 456h0M865 382h0M620 466h0M693 490h0M681 416h0M615 505h0M926 478h0M803 483h0M727 285h0M597 390h0M581 430h0M857 457h0M829 382h0M773 466h0M642 480h0M710 403h0M779 497h0M658 523h0M808 554h0M926 442h0M642 426h0M993 447h0M779 412h0M1095 404h0M1057 467h0M594 423h0M852 365h0M669 412h0M826 348h0M958 430h0M759 470h0M840 436h0M846 443h0M646 443h0M745 541h0M689 421h0M769 465h0M887 395h0M628 408h0M798 416h0M778 497h0M728 442h0M928 463h0M714 366h0M905 393h0M597 340h0M751 528h0M613 396h0M931 343h0M844 370h0M656 389h0M723 305h0M621 448h0M955 427h0M961 425h0M960 492h0M820 500h0M678 440h0M758 401h0M844 341h0M745 407h0M591 403h0M786 400h0M604 438h0M666 385h0M914 503h0M823 452h0M904 473h0M850 413h0M842 476h0M671 414h0M863 344h0M621 397h0M709 426h0M633 496h0M857 414h0M687 489h0M580 449h0M893 417h0M997 376h0M864 449h0M1026 438h0M897 381h0M991 442h0M848 418h0M898 391h0M903 310h0M616 452h0M701 495h0M824 514h0M702 387h0M947 458h0M621 372h0M704 415h0M711 506h0M923 450h0M920 462h0M1073 429h0M587 456h0M1020 442h0M843 401h0M623 368h0M922 428h0M618 464h0M728 410h0M667 483h0M728 458h0M629 436h0M726 408h0M805 400h0M761 395h0M785 495h0M961 405h0M933 493h0M615 405h0M875 365h0M903 416h0M973 452h0M731 440h0M985 408h0M800 341h0M763 413h0M779 366h0M740 460h0M855 434h0M789 499h0M950 401h0M763 507h0M589 434h0M633 423h0M740 400h0M764 493h0M912 378h0M814 479h0M639 418h0M694 369h0M791 282h0M902 410h0M863 413h0M834 492h0M674 473h0M805 375h0M670 366h0M885 455h0M838 423h0M1161 393h0M880 395h0M673 407h0M747 425h0M709 427h0M782 333h0M587 435h0M596 395h0M717 452h0M813 462h0M641 371h0M643 439h0M665 423h0M878 390h0M888 448h0M771 405h0M590 457h0M1004 453h0M944 415h0M693 365h0M773 421h0M638 563h0M726 493h0M734 439h0M698 432h0M977 435h0M730 286h0M615 465h0M807 395h0M957 501h0M664 596h0M779 456h0M725 283h0M849 441h0M698 421h0M674 394h0M1037 395h0M917 499h0M861 425h0M841 466h0M996 409h0M591 439h0M751 459h0M827 427h0M622 491h0M1230 445h0M853 439h0M886 476h0M1052 360h0M808 579h0M976 405h0M723 448h0M984 397h0M779 464h0M893 456h0M681 397h0M766 469h0M799 474h0M782 408h0M986 376h0M758 480h0M949 433h0M614 396h0M656 454h0M641 450h0M644 468h0M812 473h0M610 396h0M848 374h0M946 423h0M985 498h0M590 433h0M671 368h0M751 350h0M848 405h0M757 421h0M746 495h0M633 357h0M596 411h0M954 472h0M817 428h0M712 411h0M952 484h0M617 509h0M734 430h0M598 429h0M902 319h0M953 502h0M687 540h0M915 456h0M1020 476h0M664 556h0M1051 434h0M708 455h0M863 489h0M791 395h0M713 452h0M818 308h0M777 428h0M776 445h0M832 435h0M888 290h0M952 424h0M906 398h0M946 465h0M724 452h0M612 398h0M839 376h0M585 448h0M1025 444h0M769 478h0M579 408h0M928 477h0M923 421h0M624 383h0M892 450h0M604 466h0M857 398h0M790 323h0M835 470h0M625 481h0M902 423h0M899 496h0M928 442h0M736 424h0M676 508h0M859 477h0M886 420h0M755 468h0M821 417h0M837 415h0M814 454h0M867 442h0M697 447h0M666 390h0M688 446h0M901 391h0M1059 467h0M700 470h0M840 367h0M810 348h0M952 404h0M827 476h0M945 486h0M1048 460h0M741 453h0M768 434h0M927 454h0M997 385h0M666 378h0M957 421h0M618 390h0M599 298h0M608 355h0M666 403h0M688 499h0M1062 443h0M906 445h0M611 463h0M648 421h0M856 408h0M818 458h0M753 427h0M745 402h0M879 409h0M772 455h0M868 422h0M645 392h0M814 438h0M810 413h0M944 449h0M956 420h0M909 414h0M706 527h0M592 381h0M955 454h0M993 348h0M642 393h0M718 342h0M862 544h0M758 542h0M843 480h0M912 489h0M642 406h0M697 443h0M1067 416h0M793 354h0M773 419h0M797 446h0M796 396h0M870 444h0M945 488h0M828 498h0M831 386h0M809 497h0M668 461h0M888 470h0M651 479h0M675 386h0M709 429h0M786 458h0M915 505h0M716 404h0M819 414h0M749 439h0M754 438h0M1053 441h0M837 398h0M941 465h0M776 349h0M1045 472h0M620 381h0M1035 383h0M841 439h0M826 464h0M775 445h0M1055 427h0M925 435h0M786 472h0M724 384h0M730 344h0M767 492h0M643 427h0M665 475h0M843 431h0M891 475h0M971 436h0M634 438h0M697 516h0M645 449h0M828 433h0M694 436h0M701 525h0M595 412h0M892 457h0M994 453h0M625 458h0M772 551h0M898 429h0M944 433h0M714 445h0M592 405h0M889 365h0M863 358h0M733 316h0M1124 466h0M866 396h0M805 430h0M813 359h0M601 444h0M1035 439h0M1173 390h0M637 451h0M890 388h0M809 490h0M732 482h0M814 418h0M618 491h0M714 424h0M707 449h0M851 444h0M788 429h0M688 400h0M728 439h0M719 381h0M899 436h0M920 453h0M1020 407h0M1004 390h0M771 469h0M800 391h0M819 405h0M779 407h0M582 436h0M614 417h0M903 432h0M883 556h0M697 389h0M650 475h0M804 435h0M931 377h0M590 394h0M839 463h0M662 403h0M675 351h0M752 472h0M636 460h0M879 437h0M608 355h0M774 439h0M846 421h0M921 416h0M798 413h0M622 442h0M910 426h0M1002 420h0M578 456h0M978 484h0M826 465h0M816 397h0M730 446h0M636 472h0M818 462h0M955 470h0M575 429h0M799 519h0M833 507h0M982 449h0M722 620h0M621 450h0M697 416h0M972 526h0M643 469h0M717 365h0M917 421h0M881 515h0M980 442h0M620 419h0M660 443h0M774 556h0M851 433h0M617 433h0M829 450h0M1042 422h0M799 445h0M626 430h0M923 397h0M773 409h0M891 450h0M794 455h0M955 436h0M685 459h0M1063 433h0M725 491h0M634 392h0M1155 440h0M688 295h0M730 426h0M599 482h0M981 400h0M891 386h0M792 452h0M737 454h0M649 450h0M637 447h0M737 495h0M823 395h0M669 354h0M940 364h0M843 446h0M634 447h0M579 418h0M1046 407h0M670 436h0M595 450h0M842 443h0M683 376h0M1008 402h0M844 376h0M956 416h0M839 497h0M873 431h0M760 425h0M745 485h0M896 457h0M644 412h0M595 398h0M975 435h0M728 465h0M801 399h0M732 387h0M879 429h0M894 349h0M644 486h0M892 468h0M700 461h0M805 396h0M769 426h0M930 468h0M742 505h0M919 431h0M1004 450h0M807 388h0M913 300h0M956 478h0M663 396h0M756 330h0M967 396h0M886 445h0M931 413h0M818 410h0M726 497h0M899 451h0M712 420h0M810 435h0M656 447h0M735 505h0M755 428h0M615 428h0M610 399h0M955 414h0M1144 441h0M635 465h0M720 387h0M848 449h0M628 446h0M595 409h0M971 462h0M685 444h0M1027 463h0M785 421h0M812 500h0M793 455h0M779 415h0M680 548h0M829 431h0M751 528h0M932 437h0M688 462h0M648 429h0M939 439h0M791 435h0M663 534h0M894 471h0M687 440h0M868 470h0M841 440h0M690 338h0M835 447h0M771 453h0M1097 435h0M677 393h0M728 548h0M952 435h0M855 509h0M639 383h0M835 410h0M881 407h0M819 541h0M844 521h0M804 387h0M715 403h0M841 495h0M759 402h0M881 407h0M581 455h0M678 521h0M633 416h0M781 407h0M826 423h0M660 449h0M1011 362h0M722 420h0M570 390h0M871 421h0M688 438h0M763 408h0M668 432h0M706 358h0M623 418h0M717 372h0M903 491h0M697 461h0M810 477h0M656 383h0M620 420h0M700 472h0M580 425h0M765 439h0M861 409h0M743 416h0M662 457h0M703 399h0M915 441h0M668 434h0M706 397h0M854 415h0M672 392h0M992 460h0M640 531h0M746 489h0M793 424h0M805 408h0M703 426h0M896 444h0M930 429h0M771 385h0M916 449h0M908 411h0M642 383h0M626 381h0M623 382h0M603 409h0M894 439h0M727 439h0M627 460h0M796 382h0M691 484h0M587 390h0M741 457h0M919 398h0M861 386h0M1142 464h0M765 470h0M1044 396h0M727 439h0M772 470h0M880 438h0M759 418h0M638 423h0M864 477h0M979 419h0M716 472h0M741 468h0M697 420h0M854 405h0M773 497h0M664 438h0M965 412h0M924 454h0M941 470h0M607 507h0M837 446h0M811 399h0M640 449h0M748 530h0M608 466h0M740 488h0M786 482h0M962 464h0M724 437h0M634 396h0M1019 386h0M833 575h0M624 451h0M592 422h0M727 491h0M669 380h0M721 454h0M681 461h0M976 409h0M911 457h0M847 377h0M605 443h0M901 391h0M733 491h0M944 462h0M629 399h0M622 451h0M913 437h0M1023 424h0M880 442h0M696 422h0M588 368h0M1046 429h0M639 448h0M911 422h0M764 437h0M709 544h0M739 475h0M600 467h0M616 408h0M943 478h0M756 423h0M847 345h0M706 379h0M769 426h0M903 446h0M837 484h0M734 402h0M760 409h0M1147 463h0M622 425h0M611 471h0M889 417h0M758 473h0M796 511h0M694 415h0M732 466h0M756 445h0M920 398h0M606 388h0M643 449h0M639 530h0M762 473h0M767 310h0M851 430h0M1161 413h0M980 465h0M668 444h0M738 504h0M789 373h0M901 484h0M781 408h0M634 423h0M588 441h0M709 409h0M820 446h0M643 385h0M757 520h0M728 421h0M1036 451h0M859 470h0M1085 410h0M784 505h0M772 471h0M1093 355h0M738 418h0M798 422h0M575 413h0M638 451h0M687 402h0M670 447h0M748 426h0M958 435h0M655 462h0M587 458h0M802 531h0M719 415h0M586 397h0M886 445h0M1001 469h0M879 482h0M905 445h0M885 350h0M1100 377h0M626 404h0M950 413h0M860 352h0M1016 410h0M931 412h0M798 467h0M842 402h0M670 451h0M707 396h0M630 387h0M736 421h0M919 428h0M710 390h0M953 463h0M650 419h0M837 397h0M665 412h0M833 349h0M899 406h0M950 442h0M887 479h0M627 394h0M853 507h0M690 448h0M779 488h0M627 426h0M752 386h0M842 493h0M615 424h0M813 472h0M955 392h0M787 528h0M704 544h0M654 356h0M761 461h0M732 383h0M857 586h0M858 464h0M885 472h0M900 342h0M870 459h0M672 433h0M808 364h0M731 462h0M600 390h0M830 490h0M627 417h0M853 416h0M792 411h0M597 440h0M743 374h0M795 419h0M672 420h0M993 449h0M1018 452h0M867 444h0M746 374h0M923 402h0M1000 513h0M776 556h0M832 393h0M721 445h0M845 452h0M1181 474h0M706 397h0M1068 386h0M577 482h0M854 344h0M809 361h0M736 544h0M992 415h0M667 402h0M921 409h0M677 387h0M639 372h0M743 432h0M875 434h0M1021 426h0M670 503h0M878 458h0M974 444h0M823 324h0M815 509h0M799 450h0M829 408h0M684 429h0M962 340h0M660 426h0M1010 526h0M1020 458h0M922 416h0M729 397h0M1013 410h0M657 479h0M772 435h0M778 445h0M626 379h0M1146 461h0M643 444h0M767 396h0M603 395h0M685 417h0M921 449h0M850 601h0M720 433h0M838 456h0M639 421h0M842 511h0M958 425h0M693 439h0M675 413h0M604 380h0M978 417h0M855 491h0M824 397h0M823 407h0M848 461h0M687 451h0M652 440h0M600 452h0M633 402h0M651 424h0M904 410h0M702 445h0M729 486h0M877 372h0M1059 401h0M611 432h0M812 550h0M742 386h0M644 408h0M709 476h0M897 453h0M680 379h0M801 405h0M758 433h0M938 418h0M940 447h0M924 324h0M749 435h0M747 520h0M848 425h0M1147 453h0M776 422h0M692 445h0M766 525h0M806 481h0M830 569h0M1003 381h0M809 487h0M917 392h0M764 543h0M756 447h0M686 501h0M694 403h0M795 416h0M614 475h0M637 391h0M783 447h0M834 407h0M1105 440h0M584 487h0M854 421h0M963 456h0M606 436h0M692 387h0M851 396h0M835 392h0M945 373h0M844 321h0M1014 457h0M690 457h0M879 464h0M813 412h0M732 431h0M868 409h0M930 462h0M809 345h0M866 349h0M739 499h0M939 440h0M728 377h0M827 408h0M816 401h0M782 493h0M981 464h0M861 450h0M813 430h0M865 392h0M863 404h0M706 473h0M700 450h0M822 446h0M626 434h0M911 499h0M890 446h0M835 478h0M707 335h0M1100 381h0M878 390h0M939 496h0M868 495h0M800 369h0M686 397h0M643 423h0M914 464h0M826 413h0M667 442h0M655 497h0M770 366h0M832 437h0M887 451h0M768 497h0M672 411h0M850 433h0M622 508h0M640 444h0M723 419h0M802 434h0M624 482h0M863 451h0M739 566h0M754 441h0M764 499h0M641 398h0M1048 406h0M985 472h0M832 445h0M606 389h0M854 631h0M910 412h0M707 377h0M871 467h0M832 456h0M731 496h0M691 483h0M991 382h0M604 405h0M697 400h0M767 518h0M813 511h0M675 432h0M815 414h0M615 435h0M789 450h0M730 513h0M865 377h0M651 472h0M631 460h0M1050 472h0M746 430h0M745 320h0M681 435h0M914 487h0M951 467h0M887 462h0M848 312h0M805 414h0M839 488h0M729 458h0M685 447h0M803 424h0M669 376h0M1154 454h0M817 510h0M881 333h0M613 428h0M581 430h0M640 387h0M645 492h0M797 495h0M841 411h0M963 410h0M607 445h0M775 436h0M842 469h0M741 423h0M608 408h0M702 497h0M635 420h0M1016 459h0M830 461h0M609 388h0M845 421h0M778 424h0M921 472h0M646 505h0M712 415h0M771 460h0M781 492h0M628 415h0M921 418h0M634 457h0M761 533h0M805 499h0M750 494h0M710 534h0M869 411h0M786 285h0M852 423h0M887 415h0M986 416h0M773 564h0M742 409h0M982 422h0M1050 431h0M947 444h0M653 478h0M973 429h0M837 469h0M785 491h0M623 397h0M636 413h0M942 413h0M688 387h0M765 469h0M746 490h0M728 376h0M745 450h0M685 469h0M966 423h0M782 421h0M690 387h0M656 400h0M906 462h0M900 453h0M916 487h0M816 420h0M705 452h0M656 407h0M723 408h0M683 397h0M713 497h0M616 400h0M631 409h0M618 445h0M730 420h0M989 458h0M1033 366h0M611 471h0M816 418h0M845 396h0M828 488h0M781 356h0M684 448h0M582 413h0M840 391h0M895 404h0M603 441h0M1282 469h0M642 368h0M979 423h0M1101 447h0M744 543h0M927 404h0M802 431h0M681 512h0M854 466h0M717 413h0M632 444h0M891 458h0M647 359h0M997 412h0M702 455h0M906 402h0M924 483h0M735 506h0M821 546h0M1008 432h0M689 344h0M680 472h0M611 418h0M854 423h0M855 434h0M619 409h0M868 490h0M688 433h0M781 312h0M802 403h0M811 502h0M798 440h0M734 371h0M859 407h0M656 376h0M945 433h0M729 418h0M892 414h0M821 464h0M766 501h0M786 331h0M742 504h0M802 475h0M766 420h0M929 460h0M677 437h0M883 419h0M739 412h0M933 495h0M920 475h0M599 390h0M989 359h0M912 484h0M841 488h0M648 454h0M922 485h0M814 388h0M665 429h0M834 416h0M618 442h0M859 466h0M648 456h0M695 459h0M723 526h0M820 434h0M841 420h0M741 383h0M685 479h0M607 445h0M716 415h0M896 398h0M995 459h0M983 417h0M603 447h0M621 448h0M721 454h0M800 531h0M588 466h0M605 466h0M918 440h0M1244 439h0M750 402h0M902 453h0M860 359h0M890 432h0M743 537h0M991 397h0M619 368h0M679 505h0M832 432h0M672 372h0M926 443h0M916 367h0M900 408h0M950 490h0M832 481h0M644 438h0M705 399h0M733 467h0M832 312h0M858 465h0M865 462h0M676 403h0M986 422h0M794 442h0M654 407h0M999 432h0M848 385h0M852 469h0M821 449h0M797 469h0M845 452h0M658 397h0M765 416h0M870 434h0M967 467h0M664 466h0M806 409h0M726 526h0M715 452h0M945 450h0M694 463h0M631 463h0M611 427h0M798 391h0M735 497h0M828 490h0M735 456h0M787 408h0M737 396h0M688 406h0M686 427h0M878 421h0M712 426h0M892 431h0M861 478h0M919 485h0M669 416h0M726 462h0M678 417h0M749 401h0M982 434h0M858 459h0M611 384h0M1246 459h0M851 442h0M912 424h0M927 429h0M982 472h0M894 472h0M680 485h0M880 363h0M846 438h0M742 364h0M945 454h0M778 404h0M955 423h0M789 360h0M727 402h0M613 406h0M647 452h0M678 428h0M1203 449h0M796 433h0M696 423h0M956 479h0M822 437h0M691 416h0M840 418h0M576 446h0M785 392h0M787 467h0M596 417h0M843 455h0M649 441h0M877 442h0M735 485h0M868 400h0M792 376h0M761 470h0M814 506h0M574 464h0M1001 405h0M855 400h0M645 446h0M856 428h0M988 386h0M925 540h0M835 396h0M786 383h0M827 485h0M644 461h0M754 488h0M949 539h0M719 421h0M679 470h0M785 401h0M912 491h0M953 430h0M1276 447h0M1047 413h0M613 433h0M758 418h0M798 418h0M850 437h0M614 441h0M720 466h0M725 437h0M821 443h0M722 438h0M699 385h0M646 448h0M844 421h0M697 430h0M653 627h0M975 377h0M728 419h0M687 518h0M605 423h0M784 421h0M710 397h0M811 517h0M697 395h0M763 564h0M593 387h0M995 485h0M874 417h0M743 552h0M651 407h0M844 353h0M819 445h0M826 449h0M1095 440h0M715 446h0M990 479h0M748 513h0M1083 419h0M1072 437h0M741 483h0M775 412h0M962 406h0M960 406h0M778 445h0M609 390h0M930 384h0M680 403h0M705 470h0M701 434h0M867 441h0M703 391h0M751 370h0M947 490h0M751 491h0M980 383h0M980 384h0M757 425h0M665 446h0M1001 431h0M800 448h0M716 437h0M592 471h0M761 397h0M829 439h0M732 429h0M689 455h0M659 447h0M885 501h0M965 406h0M788 386h0M581 508h0M1125 433h0M698 429h0M790 446h0M968 438h0M835 360h0M713 478h0M860 628h0M897 426h0M836 387h0M729 433h0M884 465h0M723 425h0M719 488h0M685 408h0M618 467h0M589 400h0M690 427h0M619 360h0M720 339h0M1001 452h0M1014 464h0M663 439h0M691 478h0M735 377h0M1017 441h0M678 461h0M887 436h0M834 419h0M951 424h0M683 394h0M990 414h0M1244 466h0M733 491h0M998 414h0M873 441h0M662 437h0M752 306h0M672 482h0M968 473h0M664 409h0M950 445h0M683 403h0M960 430h0M902 520h0M874 432h0M680 452h0M866 385h0M829 381h0M713 416h0M1146 439h0M1028 488h0M840 426h0M972 398h0M707 516h0M639 424h0M707 470h0M804 435h0M967 483h0M926 434h0M668 486h0M915 384h0M955 462h0M811 394h0M774 443h0M763 348h0M779 479h0M781 381h0M789 422h0M754 449h0M932 442h0M638 423h0M642 452h0M994 474h0M812 419h0M825 391h0M764 441h0M746 401h0M714 424h0M790 535h0M919 370h0M585 467h0M1006 476h0M647 421h0M772 361h0M920 390h0M623 492h0M839 349h0M820 389h0M798 467h0M921 498h0M622 399h0M660 467h0M975 419h0M1016 453h0M620 378h0M847 475h0M608 404h0M997 380h0M1008 423h0M855 462h0M768 418h0M839 385h0M801 484h0M918 463h0M923 432h0M939 409h0M926 420h0M660 389h0M654 398h0M858 404h0M797 369h0M1058 474h0M590 453h0M736 389h0M943 438h0M755 415h0M624 348h0M704 398h0M1041 461h0M891 416h0M926 430h0M676 398h0M906 441h0M659 464h0M828 476h0M842 391h0M758 368h0M1033 510h0M722 400h0M681 431h0M653 394h0M880 431h0M918 435h0M827 444h0M581 438h0M740 365h0M638 403h0M686 552h0M857 384h0M672 504h0M802 435h0M1040 482h0M687 444h0M675 413h0M595 419h0M804 396h0M798 422h0M817 442h0M1042 425h0M808 441h0M822 392h0M959 452h0M948 461h0M786 379h0M820 433h0M721 431h0M775 416h0M769 408h0M789 425h0M666 423h0M818 433h0M686 401h0M697 515h0M696 512h0M898 434h0M1225 463h0M637 430h0M825 360h0M665 401h0M853 372h0M936 411h0M749 407h0M763 438h0M1129 441h0M813 486h0M720 471h0M664 472h0M932 469h0M859 394h0M698 482h0M779 537h0M625 447h0M894 409h0M966 452h0M871 441h0M864 387h0M622 462h0M975 426h0M816 452h0M963 391h0M880 421h0M957 363h0M909 386h0M873 368h0M817 421h0M684 408h0M673 373h0M978 381h0M904 447h0M673 411h0M949 452h0M828 427h0M862 429h0M745 403h0M977 468h0M837 421h0M1197 463h0M855 362h0M800 440h0M601 422h0M952 474h0M617 507h0M683 442h0M838 526h0M852 425h0M988 404h0M1011 452h0M984 331h0M900 432h0M727 518h0M870 467h0M633 454h0M703 510h0M1241 452h0M834 453h0M991 418h0M637 457h0M817 398h0M645 508h0M862 387h0M989 407h0M750 431h0M706 535h0M604 463h0M758 424h0M906 379h0M1116 439h0M684 473h0M630 429h0M586 457h0M696 446h0M675 459h0M654 444h0M955 423h0M687 413h0M634 456h0M631 459h0M870 407h0M747 527h0M729 479h0M861 475h0M831 429h0M760 443h0M826 471h0M696 399h0M748 413h0M849 429h0M738 446h0M727 386h0M702 443h0M776 352h0M855 395h0M876 491h0M891 429h0M826 384h0M671 362h0M846 474h0M617 377h0M809 428h0M926 395h0M638 408h0M749 532h0M618 428h0M642 448h0M764 345h0M785 508h0M941 479h0M654 421h0M953 449h0M667 364h0M732 316h0M782 496h0M674 450h0M756 419h0M917 465h0M945 425h0M615 449h0M782 461h0M724 369h0M602 400h0M751 419h0M691 483h0M876 432h0M756 416h0M711 340h0M743 457h0M748 537h0M1100 446h0M853 430h0M728 478h0M708 453h0M750 387h0M996 450h0M816 481h0M1023 428h0M654 415h0M785 414h0M868 473h0M918 442h0M611 416h0M737 493h0M946 466h0M823 371h0M627 514h0M743 377h0M777 416h0M743 466h0M1042 423h0M783 367h0M599 384h0M582 453h0M759 454h0M830 433h0M659 471h0M806 448h0M607 389h0M682 497h0M785 374h0M696 479h0M753 467h0M865 506h0M841 416h0M1039 416h0M918 421h0M724 350h0M834 396h0M615 468h0M869 457h0M880 325h0M660 314h0M726 414h0M820 420h0M842 461h0M826 427h0M881 412h0M933 430h0M763 375h0M571 514h0M908 447h0M613 482h0M788 503h0M865 505h0M909 347h0M789 474h0M831 409h0M1047 425h0M891 427h0M686 384h0M997 422h0M850 456h0M694 399h0M683 469h0M752 477h0M780 375h0M930 493h0M758 408h0M864 450h0M707 415h0M763 502h0M703 444h0M731 429h0M859 428h0M664 414h0M772 364h0M878 321h0M738 438h0M892 438h0M841 322h0M913 514h0M675 455h0M824 412h0M696 385h0M603 442h0M898 464h0M692 448h0M874 448h0M891 304h0M908 437h0M689 434h0M906 438h0M670 465h0M844 424h0M898 423h0M593 483h0M867 492h0M831 339h0M593 462h0M810 372h0M862 452h0M909 466h0M1115 434h0M668 496h0M745 425h0M721 392h0M843 427h0M647 503h0M667 453h0M655 516h0M883 366h0M895 358h0M844 428h0M933 442h0M766 512h0M664 395h0M918 388h0M651 419h0M688 472h0M841 437h0M601 401h0M597 456h0M760 415h0M932 461h0M762 423h0M617 428h0M1202 452h0M612 408h0M697 389h0M803 477h0M680 494h0M859 444h0M742 401h0M903 432h0M602 442h0M917 418h0M968 458h0M674 480h0M667 520h0M953 500h0M740 472h0M734 444h0M811 420h0M796 413h0M912 412h0M847 398h0M862 452h0M747 417h0M782 429h0M936 433h0M943 409h0M822 402h0M814 435h0M694 423h0M768 425h0M650 454h0M770 579h0M687 418h0M765 505h0M852 509h0M608 384h0M834 307h0M893 425h0M637 411h0M626 414h0M610 427h0M831 377h0M733 343h0M582 432h0M616 435h0M719 382h0M589 437h0M902 512h0M649 392h0M911 435h0M581 415h0M709 493h0M992 460h0M631 446h0M581 440h0M925 426h0M904 497h0M774 344h0M620 435h0M690 372h0M753 458h0M1043 433h0M657 434h0M843 429h0M862 470h0M945 481h0M848 428h0M724 384h0M752 386h0M766 443h0M813 406h0M789 461h0M892 472h0M720 492h0M828 481h0M697 414h0M754 443h0M1234 432h0M834 446h0M647 427h0M1025 465h0M916 440h0M922 460h0M925 397h0M711 369h0M779 402h0M985 459h0M764 370h0M1003 401h0M912 431h0M771 452h0M787 333h0M784 499h0M680 477h0M714 457h0M746 480h0M790 423h0M949 449h0M770 408h0M800 494h0M862 383h0M905 486h0M1074 392h0M876 380h0M817 406h0M867 463h0M619 463h0M876 386h0M659 435h0M952 433h0M946 441h0M829 361h0M1001 533h0M588 443h0M599 446h0M774 407h0M651 443h0M575 427h0M1035 399h0M742 459h0M927 405h0M687 462h0M831 406h0M596 402h0M826 434h0M862 442h0M825 503h0M768 464h0M876 398h0M662 450h0M849 375h0M687 497h0M594 456h0M724 380h0M883 417h0M637 446h0M893 453h0M717 448h0M773 466h0M638 429h0M845 504h0M977 497h0M854 476h0M951 494h0M930 329h0M1019 466h0M613 371h0M846 463h0M689 389h0M776 443h0M1030 478h0M712 412h0M677 444h0M1182 417h0M847 443h0M633 414h0M602 411h0M956 439h0M860 473h0M748 531h0M755 520h0M941 415h0M1076 424h0M577 436h0M823 421h0M590 403h0M740 346h0M833 508h0M783 470h0M645 391h0M687 408h0M792 500h0M632 381h0M992 448h0M674 456h0M929 454h0M650 423h0M776 391h0M915 504h0M844 447h0M624 496h0M676 465h0M727 427h0M778 534h0M1051 411h0M713 456h0M718 450h0M792 414h0M663 470h0M921 412h0M882 399h0M977 413h0M706 394h0M888 433h0M871 398h0M895 440h0M845 400h0M795 428h0M686 447h0M745 320h0M616 420h0M832 421h0M782 367h0M595 448h0M614 350h0M704 479h0M650 496h0M650 416h0M893 383h0M705 375h0M594 474h0M982 424h0M1023 433h0M919 449h0M756 494h0M1047 469h0M972 433h0M837 426h0M858 430h0M869 471h0M796 471h0M952 441h0M941 414h0M882 472h0M862 583h0M762 494h0M708 439h0M1053 415h0M809 434h0M1003 417h0M661 447h0M637 424h0M876 470h0M845 473h0M741 447h0M783 441h0M991 442h0M851 375h0M797 481h0M685 514h0M639 475h0M726 463h0M695 478h0M862 405h0M1197 394h0M939 467h0M685 397h0M693 383h0M817 403h0M932 455h0M695 527h0M685 451h0M767 455h0M891 443h0M757 434h0M854 416h0M957 437h0M856 410h0M580 449h0M681 478h0M786 433h0M774 429h0M687 447h0M737 467h0M777 460h0M1128 447h0M867 397h0M788 421h0M579 458h0M893 358h0M803 373h0M849 374h0M621 476h0M1087 442h0M782 409h0M807 474h0M852 476h0M831 372h0M899 303h0M655 499h0M593 406h0M744 462h0M895 314h0M883 435h0M730 511h0M880 389h0M893 373h0M903 404h0M1038 456h0M872 489h0M978 466h0M689 311h0M1135 474h0M709 357h0M845 370h0M647 457h0M606 460h0M833 449h0M769 433h0M879 517h0M648 441h0M1042 437h0M653 446h0M812 388h0M761 459h0M971 478h0M830 438h0M769 445h0M674 372h0M925 586h0M699 397h0M911 479h0M859 485h0M798 394h0M1240 413h0M836 363h0M817 425h0M862 512h0M638 438h0M751 429h0M625 375h0M581 483h0M807 503h0M704 461h0M640 490h0M734 445h0M1017 434h0M590 472h0M614 436h0M949 376h0M659 418h0M845 504h0M604 416h0M582 406h0M825 491h0M878 440h0M652 415h0M761 470h0M635 485h0M920 390h0M624 421h0M802 401h0M1010 391h0M656 412h0M872 476h0M773 440h0M939 487h0M941 509h0M764 472h0M890 475h0M865 366h0M705 403h0M1008 440h0M777 458h0M671 601h0M733 579h0M735 500h0M776 465h0M712 502h0M759 386h0M1076 408h0M1201 422h0M675 369h0M697 441h0M725 414h0M664 408h0M660 481h0M770 495h0M741 400h0M600 381h0M785 413h0M765 427h0M1020 440h0M934 439h0M835 386h0M786 491h0M615 445h0M836 423h0M995 469h0M1052 380h0M991 391h0M876 448h0M711 453h0M644 427h0M661 483h0M732 372h0M616 458h0M695 441h0M1072 400h0M880 466h0M861 416h0M634 465h0M779 363h0M772 433h0M988 474h0M847 423h0M694 391h0M676 425h0M612 427h0M775 421h0M829 448h0M734 556h0M1002 405h0M882 403h0M797 351h0M733 399h0M841 431h0M855 407h0M875 454h0M699 472h0M736 445h0M666 429h0M625 431h0M697 370h0M676 443h0M686 420h0M767 546h0M728 489h0M873 454h0M675 426h0M866 396h0M958 446h0M776 424h0M908 390h0M604 422h0M773 487h0M726 416h0M769 433h0M664 466h0M886 463h0M1001 361h0M648 506h0M876 435h0M714 500h0M877 428h0M818 401h0M884 403h0M1176 459h0M685 369h0M951 483h0M654 346h0M903 443h0M634 469h0M652 445h0M747 369h0M654 394h0M909 420h0M582 449h0M712 408h0M806 452h0M906 406h0M1085 428h0M791 514h0M648 365h0M663 436h0M822 403h0M629 522h0M931 425h0M928 487h0M870 366h0M1068 393h0M755 472h0M1035 425h0M651 467h0M675 424h0M789 398h0M957 430h0M936 443h0M723 462h0M941 493h0M937 389h0M956 525h0M802 426h0M618 397h0M693 495h0M715 396h0M838 410h0M709 365h0M772 426h0M718 484h0M826 464h0M632 371h0M730 493h0M951 432h0M687 486h0M771 438h0M894 413h0M857 460h0M762 409h0M598 423h0M943 471h0M982 379h0M901 450h0M889 438h0M955 445h0M947 424h0M765 380h0M731 415h0M757 458h0M624 378h0M648 386h0M854 354h0M876 450h0M809 428h0M633 493h0M725 534h0M1018 463h0M1021 397h0M691 386h0M724 466h0M645 421h0M717 424h0M754 391h0M686 516h0M971 383h0M600 404h0M750 492h0M597 415h0M717 453h0M888 399h0M610 408h0M809 534h0M806 454h0M804 451h0M777 485h0M825 416h0M678 409h0M678 385h0M894 482h0M641 483h0M918 445h0M964 454h0M805 471h0M685 359h0M750 366h0M781 470h0M858 393h0M1003 401h0M746 434h0M654 443h0M697 407h0M1015 438h0M656 499h0M673 510h0M823 471h0M764 480h0M918 379h0M835 432h0M840 436h0M853 445h0M758 477h0M691 346h0M733 440h0M657 377h0M725 403h0M785 449h0M726 396h0M658 361h0M883 444h0M700 443h0M715 420h0M661 452h0M597 441h0M884 436h0M757 427h0M798 419h0M946 454h0M953 410h0M809 529h0M1011 444h0M794 472h0M952 373h0M764 428h0M679 459h0M775 413h0M635 400h0M726 404h0M664 423h0M756 494h0M749 498h0M805 409h0M1171 452h0M1250 400h0M842 430h0M757 390h0M881 437h0M985 425h0M855 459h0M648 438h0M821 267h0M775 370h0M979 433h0M845 455h0M1064 421h0M586 472h0M858 412h0M659 472h0M763 475h0M929 364h0M1226 440h0M661 423h0M939 378h0M623 378h0M695 400h0M659 441h0M1098 464h0M612 467h0M906 487h0M786 398h0M868 324h0M604 438h0M760 410h0M799 550h0M689 460h0M838 429h0M602 456h0M601 523h0M839 432h0M678 458h0M938 458h0M803 414h0M952 468h0M933 450h0M862 478h0M1113 449h0M671 394h0M802 446h0M622 432h0M864 446h0M916 439h0M963 430h0M788 437h0M988 439h0M727 459h0M715 476h0M874 476h0M982 459h0M601 431h0M780 441h0M754 453h0M580 405h0M614 441h0M916 423h0M1012 380h0M805 381h0M668 404h0M1105 443h0M744 432h0M623 444h0M899 417h0M859 408h0M855 414h0M728 356h0M685 473h0M663 371h0M819 517h0M699 400h0M871 384h0M977 461h0M930 462h0M837 482h0M588 408h0M692 395h0M692 496h0M799 386h0M585 410h0M664 410h0M997 424h0M578 425h0M711 510h0M772 474h0M613 480h0M689 487h0M828 433h0M706 413h0M800 452h0M1008 414h0M608 445h0M847 391h0M730 419h0M867 402h0M1028 444h0M761 417h0M830 426h0M771 359h0M617 421h0M605 408h0M799 511h0M948 432h0M675 357h0M880 419h0M829 454h0M708 431h0M841 371h0M674 526h0M727 477h0M835 607h0M581 455h0M584 467h0M989 407h0M788 412h0M963 397h0M1247 451h0M637 518h0M725 444h0M1149 399h0M1120 438h0M1294 439h0M884 437h0M730 485h0M850 454h0M574 442h0M715 380h0M581 443h0M746 492h0M852 433h0M963 441h0M605 407h0M667 452h0M730 454h0M614 426h0M880 486h0M851 449h0M813 423h0M747 378h0M816 409h0M724 438h0M845 480h0M962 375h0M892 381h0M721 454h0M955 436h0M698 371h0M851 445h0M877 405h0M739 434h0M939 452h0M1077 387h0M586 476h0M690 404h0M1152 407h0M680 435h0M633 413h0M812 428h0M1026 509h0M947 579h0M948 533h0M650 463h0M680 404h0M604 495h0M859 434h0M716 474h0M844 445h0M580 408h0M878 396h0M621 358h0M1156 465h0M771 428h0M916 434h0M831 503h0M601 441h0M988 474h0M875 431h0M883 468h0M781 456h0M637 447h0M841 451h0M697 376h0M923 316h0M705 565h0M847 444h0M793 463h0M632 498h0M852 575h0M1062 463h0M812 533h0M837 413h0M926 387h0M700 500h0M921 408h0M877 400h0M647 526h0M880 370h0M755 387h0M653 412h0M669 507h0M707 271h0M876 427h0M632 439h0M835 391h0M914 444h0M783 456h0M972 456h0M868 438h0M1053 395h0M797 514h0M630 394h0M657 461h0M918 420h0M936 420h0M732 422h0M718 332h0M654 471h0M931 431h0M1149 412h0M1003 483h0M752 400h0M960 412h0M652 420h0M597 426h0M801 501h0M711 429h0M768 321h0M598 407h0M641 432h0M771 450h0M779 418h0M866 399h0M876 428h0M728 503h0M756 450h0M685 503h0M633 421h0M735 461h0M810 471h0M1262 402h0M877 501h0M911 499h0M919 567h0M995 472h0M981 435h0M642 449h0M700 418h0M679 342h0M907 428h0M771 508h0M1010 467h0M806 361h0M669 410h0M736 403h0M624 412h0M802 420h0M669 422h0M618 437h0M862 392h0M777 402h0M1033 373h0M623 434h0M647 453h0M592 449h0M651 459h0M691 453h0M747 448h0M672 398h0M639 368h0M726 544h0M588 431h0M918 407h0M805 309h0M780 469h0M762 418h0M799 436h0M1206 463h0M727 423h0M804 420h0M655 412h0M732 499h0M607 427h0M942 444h0M851 421h0M890 381h0M887 446h0M624 450h0M832 431h0M629 419h0M825 390h0M624 427h0M634 431h0M791 492h0M617 484h0M720 391h0M745 391h0M1154 505h0M896 451h0M811 434h0M874 428h0M721 433h0M687 310h0M843 415h0M1009 425h0M703 487h0M947 459h0M932 430h0M762 528h0M618 465h0M729 518h0M876 439h0M766 456h0M1000 432h0M971 406h0M703 404h0M1167 407h0M788 612h0M598 470h0M581 453h0M721 393h0M741 432h0M643 446h0M966 465h0M697 428h0M892 401h0M659 373h0M749 421h0M727 491h0M889 561h0M720 419h0M661 455h0M925 424h0M838 456h0M639 439h0M667 443h0M609 382h0M923 461h0M742 416h0M921 444h0M811 422h0M902 321h0M884 488h0M762 537h0M730 408h0M789 329h0M1249 431h0M687 459h0M875 484h0M675 432h0M831 411h0M875 387h0M872 418h0M944 451h0M970 424h0M948 454h0M727 495h0M629 359h0M710 420h0M952 456h0M849 475h0M778 458h0M597 388h0M799 584h0M946 427h0M822 475h0M718 507h0M656 389h0M824 483h0M690 454h0M791 511h0M793 418h0M759 413h0M916 457h0M899 419h0M616 436h0M828 566h0M938 429h0M781 598h0M883 435h0M619 512h0M592 415h0M666 370h0M889 428h0M688 470h0M929 396h0M595 411h0M769 457h0M750 523h0M911 495h0M847 420h0M878 399h0M821 413h0M634 414h0M886 390h0M868 393h0M873 508h0M759 474h0M744 309h0M629 435h0M913 464h0M749 459h0M1024 458h0M681 552h0M769 455h0M714 481h0M821 483h0M1055 400h0M661 475h0M728 483h0M691 430h0M607 486h0M1198 412h0M705 422h0M862 376h0M897 375h0M835 469h0M678 365h0M847 438h0M983 478h0M758 442h0M960 329h0M939 453h0M891 455h0M858 470h0M1033 460h0M776 367h0M982 424h0M604 442h0M863 475h0M617 414h0M722 502h0M811 460h0M856 422h0M852 370h0M643 375h0M605 418h0M627 381h0M825 504h0M643 422h0M979 410h0M851 508h0M694 463h0M830 449h0M598 385h0M819 427h0M633 361h0M831 408h0M684 437h0M798 426h0M860 422h0M660 446h0M591 407h0M627 348h0M925 432h0M1020 372h0M808 478h0M603 438h0M817 403h0M709 407h0M640 393h0M880 423h0M942 537h0M790 405h0M807 466h0M1012 466h0M936 453h0M991 430h0M932 401h0M797 417h0M959 448h0M775 445h0M721 458h0M775 447h0M585 441h0M784 460h0M813 276h0M596 414h0M888 442h0M631 448h0M657 429h0M766 392h0M893 391h0M771 435h0M966 435h0M885 390h0M802 321h0M944 426h0M712 481h0M809 422h0M836 446h0M606 441h0M678 412h0M1118 414h0M695 425h0M973 468h0M588 406h0M672 418h0M665 395h0M870 519h0M665 476h0M811 488h0M608 484h0M807 452h0M774 430h0M764 420h0M900 409h0M714 378h0M866 496h0M909 427h0M669 500h0M692 457h0M823 405h0M644 450h0M821 489h0M861 452h0M612 479h0M805 399h0M765 492h0M780 461h0M999 434h0M585 437h0M645 467h0M602 448h0M826 451h0M940 446h0M792 375h0M777 449h0M614 470h0M604 458h0M694 439h0M933 401h0M857 427h0M1136 471h0M769 452h0M646 455h0M719 376h0M603 365h0M735 422h0M819 455h0M841 466h0M1064 450h0M725 419h0M941 357h0M641 437h0M703 555h0M628 439h0M864 473h0M953 469h0M656 499h0M809 405h0M853 408h0M628 506h0M698 439h0M798 510h0M760 437h0M893 496h0M580 432h0M656 457h0M651 422h0M729 371h0M932 391h0M1046 416h0M1042 436h0M646 392h0M688 430h0M813 389h0M924 464h0M780 461h0M851 341h0M826 451h0M725 458h0M791 427h0M668 392h0M693 463h0M812 432h0M722 419h0M710 327h0M628 413h0M949 394h0M783 481h0M941 476h0M814 475h0M598 405h0M581 424h0M641 389h0M722 441h0M714 470h0M979 502h0M599 431h0M865 316h0M873 415h0M675 412h0M599 424h0M709 543h0M857 395h0M683 377h0M779 450h0M749 389h0M961 503h0M824 382h0M712 438h0M732 442h0M620 433h0M903 326h0M647 457h0M615 474h0M703 506h0M844 439h0M787 509h0M810 442h0M877 459h0M873 404h0M653 442h0M599 464h0M723 422h0M656 376h0M1029 403h0M852 394h0M696 531h0M918 426h0M818 372h0M584 339h0M675 443h0M979 444h0M834 464h0M647 503h0M931 402h0M730 443h0M1186 421h0M798 409h0M736 335h0M847 411h0M749 460h0M842 385h0M607 422h0M607 487h0M833 530h0M660 503h0M914 451h0M901 417h0M622 409h0M591 473h0M846 471h0M859 434h0M957 460h0M714 411h0M884 539h0M817 470h0M1024 422h0M694 421h0M955 431h0M715 404h0M598 439h0M578 446h0M834 478h0M718 446h0M878 417h0M821 395h0M664 329h0M821 407h0M732 474h0M847 443h0M670 302h0M694 513h0M638 474h0M624 459h0M736 496h0M823 480h0M812 454h0M647 417h0M729 479h0M750 443h0M659 447h0M826 394h0M710 425h0M609 445h0M852 610h0M640 390h0M715 340h0M891 423h0M621 425h0M797 458h0M814 406h0M680 421h0M615 449h0M736 454h0M665 490h0M728 492h0M626 470h0M734 476h0M983 438h0M806 406h0M741 439h0M930 510h0M890 431h0M756 509h0M675 454h0M1007 406h0M916 391h0M953 361h0M603 435h0M732 494h0M763 472h0M691 392h0M661 481h0M703 427h0M639 357h0M1028 336h0M967 478h0M826 442h0M806 365h0M1177 459h0M775 582h0M887 468h0M580 412h0M745 468h0M648 425h0M603 431h0M928 441h0M873 375h0M716 451h0M619 388h0M904 541h0M715 498h0M896 471h0M820 472h0M868 386h0M817 425h0M1038 439h0M668 438h0M946 472h0M828 462h0M857 398h0M1131 446h0M580 414h0M680 403h0M870 454h0M900 408h0M672 468h0M764 379h0M938 444h0M1078 395h0M1070 501h0M655 428h0M726 414h0M747 503h0M770 465h0M938 431h0M769 441h0M690 388h0M900 458h0M820 372h0M990 511h0M1112 420h0M880 472h0M957 377h0M604 436h0M810 460h0M681 425h0M835 430h0M854 437h0M920 446h0M926 460h0M681 452h0M752 508h0M891 353h0M655 480h0M952 494h0M579 448h0M725 493h0M584 472h0M685 443h0M928 477h0M1129 483h0M745 396h0M667 474h0M703 336h0M926 455h0M649 431h0M890 446h0M697 398h0M672 504h0M963 480h0M660 484h0M1005 453h0M752 399h0M1241 403h0M873 493h0M924 410h0M794 455h0M1065 482h0M866 531h0M750 449h0M647 385h0M942 436h0M1006 402h0M739 409h0M754 432h0M635 359h0M940 489h0M921 470h0M955 436h0M692 445h0M956 401h0M1081 420h0M903 414h0M712 418h0M724 459h0M776 399h0M978 469h0M776 388h0M745 476h0M593 332h0M703 395h0M656 429h0M765 386h0M766 431h0M649 543h0M603 410h0M832 438h0M669 449h0M844 441h0M804 427h0M945 293h0M677 498h0M1070 449h0M930 448h0M774 441h0M713 442h0M655 429h0M804 436h0M645 323h0M716 469h0M594 425h0M846 410h0M818 422h0M851 517h0M929 430h0M723 435h0M673 371h0M785 438h0M750 358h0M750 455h0M680 503h0M650 485h0M903 355h0M1083 428h0M846 382h0M819 445h0M639 326h0M753 410h0M1004 448h0M1039 377h0M598 437h0M928 469h0M658 379h0M1010 438h0M662 406h0M892 551h0M1030 445h0M586 406h0M790 503h0M747 340h0M1005 422h0M690 443h0M945 428h0M818 400h0M782 462h0M830 398h0M969 391h0M677 393h0M673 394h0M1167 440h0M784 455h0M886 415h0M803 476h0M724 471h0M815 382h0M942 438h0M843 442h0M833 413h0M879 411h0M743 539h0M911 405h0M870 432h0M607 471h0M870 453h0M961 471h0M1008 452h0M752 288h0M619 425h0M804 429h0M609 408h0M806 450h0M880 470h0M815 422h0M857 354h0M881 278h0M767 447h0M675 410h0M899 465h0M780 369h0M859 412h0M730 464h0M969 322h0M732 426h0M818 496h0M832 399h0M788 479h0M903 551h0M680 382h0M593 446h0M633 467h0M746 451h0M860 485h0M632 378h0M743 369h0M830 436h0M654 413h0M836 403h0M839 397h0M664 443h0M960 459h0M1017 483h0M992 471h0M663 401h0M703 445h0M794 456h0M913 424h0M673 504h0M839 417h0M662 466h0M660 445h0M1247 454h0M821 415h0M855 424h0M692 463h0M619 442h0M671 426h0M624 476h0M615 430h0M890 450h0M683 483h0M962 417h0M568 485h0M701 413h0M694 453h0M736 413h0M809 455h0M778 462h0M713 459h0M709 373h0M863 467h0M700 361h0M857 428h0M777 533h0M667 354h0M883 419h0M792 377h0M833 496h0M599 389h0M759 458h0M781 409h0M739 506h0M723 424h0M623 471h0M775 473h0M894 482h0M811 495h0M697 429h0M648 415h0M723 517h0M699 513h0M647 519h0M739 406h0M717 416h0M789 363h0M921 475h0M717 436h0M848 461h0M639 523h0M667 404h0M939 427h0M879 447h0M865 391h0M916 392h0M961 448h0M1000 437h0M871 441h0M991 461h0M680 462h0M767 470h0M647 440h0M612 430h0M733 466h0M709 529h0M831 317h0M737 437h0M633 480h0M774 439h0M705 451h0M889 417h0M854 464h0M1027 435h0M1050 371h0M807 342h0M677 437h0M802 465h0M692 442h0M784 504h0M886 389h0M870 464h0M759 395h0M695 426h0M938 471h0M922 442h0M820 419h0M910 523h0M649 324h0M842 427h0M690 447h0M916 422h0M735 479h0M768 396h0M720 383h0M746 470h0M946 454h0M1075 392h0M680 367h0M906 452h0M1030 445h0M784 489h0M817 449h0M917 418h0M843 522h0M791 368h0M963 409h0M801 426h0M899 329h0M979 424h0M700 405h0M923 430h0M646 523h0M793 533h0M840 455h0M937 471h0M699 340h0M1062 362h0M882 427h0M985 428h0M674 432h0M796 342h0M756 410h0M1039 542h0M912 422h0M637 380h0M975 398h0M719 428h0M590 410h0M780 430h0M970 405h0M761 451h0M929 419h0M764 381h0M610 338h0M858 506h0M645 435h0M822 426h0M742 458h0M671 442h0M749 411h0M692 442h0M764 374h0M811 395h0M778 427h0M590 464h0M805 480h0M1010 354h0M934 462h0M744 415h0M892 474h0M639 406h0M864 461h0M642 482h0M601 461h0M844 482h0M716 431h0M783 517h0M588 465h0M663 463h0M990 416h0M616 450h0M983 414h0M596 419h0M652 460h0M864 472h0M831 401h0M588 426h0M706 386h0M622 400h0M708 515h0M717 383h0M792 477h0M881 359h0M579 431h0M849 459h0M992 375h0M707 423h0M843 389h0M754 434h0M691 464h0M789 420h0M592 397h0M850 345h0M792 410h0M678 382h0M579 453h0M993 461h0M840 409h0M900 494h0M613 474h0M758 397h0M618 499h0M982 401h0M835 326h0M853 440h0M712 342h0M704 534h0M594 381h0M952 457h0M623 474h0M822 454h0M655 480h0M607 433h0M586 456h0M704 424h0M616 441h0M927 471h0M822 337h0M577 415h0M763 370h0M929 484h0M671 465h0M809 498h0M669 487h0M1063 447h0M671 431h0M654 518h0M823 445h0M688 377h0M940 442h0M888 378h0M856 458h0M1024 443h0M747 393h0M584 475h0M699 440h0M673 462h0M642 423h0M734 520h0M593 455h0M787 403h0M630 469h0M918 405h0M614 468h0M607 461h0M812 422h0M908 443h0M896 448h0M940 447h0M760 420h0M672 447h0M1007 440h0M813 510h0M1005 413h0M926 428h0M843 378h0M888 428h0M639 446h0M967 461h0M935 370h0M766 381h0M750 478h0M773 441h0M805 428h0M637 472h0M1016 420h0M715 394h0M582 417h0M817 509h0M628 451h0M1292 431h0M991 450h0M884 442h0M595 399h0M929 425h0M644 405h0M831 400h0M640 477h0M866 379h0M862 458h0M713 408h0M668 411h0M929 447h0M1008 471h0M638 470h0M1231 445h0M804 382h0M703 334h0M770 439h0M594 425h0M780 381h0M818 479h0M783 399h0M579 440h0M877 385h0M772 459h0M638 449h0M924 373h0M826 503h0M749 521h0M888 481h0M838 390h0M727 460h0M904 414h0M764 441h0M635 440h0M625 429h0M964 309h0M677 439h0M813 430h0M671 413h0M701 436h0M703 415h0M604 380h0M871 417h0M683 426h0M752 374h0M826 453h0M780 424h0M961 460h0M896 436h0M952 276h0M695 469h0M1146 466h0M1020 447h0M842 468h0M907 450h0M644 465h0M1074 443h0M648 416h0M903 384h0M890 433h0M806 399h0M736 317h0M680 420h0M765 433h0M689 416h0M719 406h0M1193 442h0M721 513h0M946 418h0M754 395h0M942 412h0M863 465h0M938 434h0M869 427h0M826 370h0M957 461h0M845 387h0M922 445h0M849 575h0M759 452h0M687 370h0M703 423h0M924 473h0M676 382h0M689 471h0M1090 481h0M849 443h0M708 493h0M857 449h0M753 522h0M594 401h0M970 445h0M589 462h0M1008 298h0M741 426h0M794 426h0M771 373h0M760 401h0M929 456h0M708 432h0M809 483h0M921 443h0M638 426h0M646 427h0M698 403h0M946 413h0M738 423h0M905 418h0M851 394h0M643 380h0M775 395h0M622 452h0M778 435h0M637 432h0M847 456h0M758 406h0M814 427h0M755 463h0M805 474h0M743 532h0M692 435h0M1023 369h0M788 459h0M630 431h0M714 454h0M893 405h0M795 479h0M768 422h0M807 414h0M869 385h0M1102 494h0M627 346h0M999 371h0M760 375h0M826 528h0M745 451h0M759 422h0M732 416h0M888 438h0M770 459h0M891 490h0M611 401h0M668 486h0M665 408h0M674 438h0M752 532h0M845 440h0M969 438h0M1181 467h0M836 457h0M965 375h0M783 409h0M880 428h0M957 463h0M856 384h0M737 428h0M914 487h0M892 414h0M1091 394h0M915 430h0M811 495h0M664 431h0M567 295h0M664 441h0M862 356h0M630 355h0M862 480h0M678 441h0M637 477h0M940 475h0M621 468h0M934 467h0M820 486h0M679 489h0M666 390h0M813 461h0M676 437h0M818 416h0M824 433h0M678 448h0M873 504h0M626 441h0M881 413h0M895 451h0M915 431h0M955 455h0M719 476h0M1013 426h0M585 448h0M592 432h0M814 499h0M594 448h0M785 398h0M697 413h0M853 377h0M748 431h0M705 374h0M842 491h0M1060 426h0M666 369h0M596 409h0M635 439h0M977 420h0M873 426h0M656 432h0M890 468h0M771 467h0M647 415h0M686 445h0M754 479h0M768 411h0M940 424h0M769 416h0M1019 443h0M784 339h0M761 404h0M689 449h0M729 423h0M1076 475h0M792 410h0M645 371h0M623 438h0M833 489h0M795 410h0M778 432h0M824 451h0M598 449h0M594 481h0M685 469h0M865 457h0M945 401h0M806 362h0M900 464h0M903 388h0M734 490h0M804 424h0M907 440h0M1018 512h0M909 492h0M741 386h0M607 410h0M671 459h0M788 385h0M655 433h0M875 501h0M678 413h0M735 419h0M1127 420h0M742 416h0M849 456h0M1028 457h0M878 456h0M867 452h0M921 383h0M736 478h0M667 411h0M663 469h0M599 472h0M942 388h0M985 429h0M918 467h0M661 429h0M876 398h0M796 385h0M811 415h0M735 449h0M816 445h0M878 382h0M769 434h0M748 377h0M750 381h0M582 419h0M722 477h0M729 471h0M673 425h0M857 399h0M906 409h0M732 407h0M874 428h0M781 392h0M696 387h0M697 388h0M954 384h0M925 423h0M1008 408h0M899 444h0M834 597h0M590 592h0M598 464h0M926 458h0M625 484h0M621 395h0M977 454h0M741 447h0M605 420h0M662 519h0M667 386h0M773 546h0M600 429h0M781 417h0M701 449h0M602 486h0M751 435h0M813 513h0M696 440h0M706 475h0M708 467h0M1026 486h0M943 402h0M703 394h0M876 494h0M931 398h0M848 405h0M601 442h0M909 473h0M591 454h0M1145 489h0M653 386h0M661 514h0M762 422h0M728 417h0M619 434h0M637 487h0M1056 380h0M580 449h0M700 403h0M765 396h0M597 383h0M852 486h0M765 452h0M920 448h0M670 440h0M587 424h0M798 431h0M1262 406h0M582 450h0M879 521h0M752 559h0M863 431h0M716 436h0M923 398h0M800 431h0M702 399h0M707 392h0M839 470h0M686 444h0M699 382h0M1001 441h0M660 445h0M854 442h0M634 467h0M650 390h0M856 552h0M757 425h0M664 412h0M979 478h0M867 447h0M671 449h0M717 436h0M680 503h0M900 463h0M826 455h0M702 433h0M792 463h0M892 397h0M670 477h0M732 357h0M737 401h0M800 367h0M706 375h0M655 374h0M625 414h0M712 420h0M664 407h0M842 384h0M611 408h0M921 451h0M944 400h0M1017 413h0M614 487h0M597 395h0M1026 400h0M606 409h0M620 472h0M651 438h0M822 411h0M903 516h0M595 421h0M726 400h0M1009 431h0M824 528h0M760 471h0M725 514h0M716 415h0M674 426h0M863 480h0M634 462h0M795 428h0M894 415h0M780 564h0M751 403h0M831 441h0M594 421h0M602 493h0M607 400h0M689 448h0M737 352h0M699 421h0M712 377h0M856 433h0M904 404h0M872 429h0M861 418h0M707 470h0M735 485h0M827 458h0M748 454h0M815 451h0M900 496h0M807 405h0M665 405h0M973 443h0M934 440h0M879 505h0M596 437h0M818 447h0M815 587h0M997 415h0M868 388h0M773 459h0M1020 437h0M624 454h0M842 433h0M718 458h0M740 379h0M977 385h0M921 412h0M714 382h0M848 397h0M681 514h0M798 495h0M645 507h0M897 351h0M626 390h0M596 413h0M573 468h0M919 433h0M854 515h0M843 500h0M976 413h0M861 410h0M583 410h0M597 481h0M589 417h0M612 447h0M614 388h0M675 390h0M700 424h0M799 432h0M761 504h0M875 408h0M740 425h0M1192 410h0M868 510h0M742 405h0M692 542h0M894 418h0M947 397h0M825 449h0M948 443h0M706 418h0M983 447h0M593 463h0M868 419h0M614 440h0M969 454h0M696 345h0M824 446h0M694 465h0M836 379h0M758 400h0M674 414h0M981 419h0M764 449h0M715 456h0M890 388h0M861 490h0M917 418h0M888 431h0M955 416h0M899 484h0M833 490h0M895 441h0M975 409h0M640 383h0M732 389h0M762 421h0M852 494h0M660 447h0M799 451h0M728 430h0M636 428h0M660 469h0M1030 392h0M662 483h0M660 374h0M721 381h0M603 458h0M692 429h0M970 455h0M731 555h0M800 428h0M779 418h0M923 398h0M865 476h0M851 437h0M715 366h0M777 402h0M587 416h0M623 385h0M790 410h0M918 490h0M735 453h0M597 468h0M869 389h0M713 447h0M707 302h0M972 495h0M787 440h0M1009 447h0M1181 397h0M578 420h0M878 299h0M790 423h0M586 429h0M849 475h0M734 567h0M831 419h0M614 436h0M622 460h0M854 425h0M800 454h0M627 516h0M825 413h0M845 387h0M794 359h0M859 436h0M619 400h0M1015 486h0M629 387h0M603 304h0M809 409h0M917 507h0M931 396h0M752 467h0M726 422h0M857 475h0M613 410h0M844 464h0M810 409h0M803 451h0M728 477h0M672 409h0M923 469h0M831 534h0M680 382h0M628 469h0M856 408h0M1021 496h0M895 340h0M659 376h0M822 414h0M604 418h0M900 353h0M604 482h0M696 433h0M609 448h0M666 425h0M684 393h0M866 375h0M775 322h0M956 460h0M730 409h0M776 404h0M840 570h0M771 489h0M725 484h0M879 454h0M907 485h0M943 450h0M654 500h0M755 384h0M752 582h0M915 435h0M666 458h0M675 473h0M865 437h0M930 381h0M914 428h0M719 382h0M892 400h0M750 365h0M657 345h0M1003 444h0M949 480h0M800 519h0M838 455h0M800 383h0M717 455h0M694 493h0M779 440h0M693 454h0M801 423h0M768 546h0M751 442h0M590 402h0M889 429h0M871 538h0M919 397h0M645 406h0M761 411h0M827 421h0M867 518h0M765 471h0M755 403h0M1089 388h0M750 434h0M1076 442h0M763 402h0M675 537h0M719 450h0M876 432h0M774 468h0M891 467h0M878 489h0M785 400h0M885 450h0M678 482h0M652 471h0M896 442h0M597 470h0M595 417h0M609 458h0M726 393h0M608 426h0M644 409h0M860 409h0M624 462h0M759 508h0M810 455h0M1004 437h0M705 408h0M611 428h0M908 456h0M645 386h0M891 443h0M939 451h0M841 485h0M608 424h0M675 450h0M901 439h0M611 478h0M952 424h0M614 415h0M794 396h0M645 464h0M796 458h0M642 439h0M616 417h0M719 426h0M864 454h0M787 402h0M798 420h0M781 453h0M805 405h0M628 513h0M755 380h0M604 458h0M610 365h0M664 425h0M735 368h0M1088 504h0M952 437h0M871 449h0M676 362h0M829 429h0M643 456h0M1179 396h0M865 423h0M737 484h0M758 475h0M730 330h0M938 450h0M828 378h0M612 431h0M607 409h0M902 438h0M689 405h0M747 503h0M821 400h0M690 385h0M882 450h0M861 419h0M599 466h0M812 439h0M992 471h0M843 364h0M660 455h0M681 460h0M937 489h0M895 483h0M677 366h0M777 412h0M709 369h0M914 436h0M595 435h0M1262 402h0M663 400h0M665 457h0M927 443h0M960 499h0M815 529h0M644 413h0M669 367h0M644 419h0M576 436h0M753 426h0M809 447h0M624 477h0M646 419h0M611 441h0M602 428h0M675 492h0M677 438h0M614 466h0M616 393h0M580 420h0M766 329h0M596 409h0M835 498h0M969 404h0M654 499h0M659 489h0M875 351h0M795 366h0M589 408h0M998 472h0M581 413h0M799 525h0M652 462h0M885 447h0M789 466h0M766 433h0M741 417h0M762 382h0M753 437h0M761 358h0M627 408h0M623 499h0M805 383h0M762 485h0M810 458h0M818 400h0M682 413h0M1123 422h0M677 411h0M672 439h0M684 423h0M581 432h0M1185 484h0M932 457h0M1071 466h0M758 429h0M921 530h0M903 414h0M657 483h0M792 446h0M592 417h0M908 372h0M714 373h0M921 388h0M825 460h0M803 446h0M682 504h0M898 471h0M657 415h0M623 423h0M700 471h0M848 409h0M869 365h0M602 457h0M983 421h0M652 429h0M953 430h0M798 466h0M1122 402h0M604 425h0M812 475h0M768 464h0M647 442h0M881 470h0M764 510h0M941 415h0M925 418h0M665 426h0M705 463h0M675 365h0M879 475h0M923 451h0M904 570h0M820 489h0M580 439h0M1170 475h0M961 446h0M719 414h0M713 445h0M614 443h0M797 459h0M838 508h0M872 461h0M796 413h0M860 484h0M915 527h0M770 523h0M693 429h0M795 495h0M792 462h0M732 425h0M1034 419h0M830 477h0M700 427h0M1005 427h0M711 441h0M897 434h0M880 430h0M625 409h0M713 489h0M666 525h0M1023 466h0M748 395h0M953 402h0M823 414h0M889 458h0M664 461h0M726 473h0M917 413h0M862 447h0M987 488h0M894 383h0M847 402h0M848 323h0M682 446h0M627 423h0M814 393h0M814 418h0M943 419h0M673 465h0M671 423h0M987 440h0M768 477h0M770 477h0M838 425h0M645 451h0M976 429h0M621 405h0M989 385h0M985 431h0M593 440h0M784 476h0M693 428h0M846 442h0M696 451h0M626 411h0M997 327h0M892 454h0M721 569h0M933 435h0M786 401h0M611 365h0M725 419h0M877 505h0M699 401h0M837 439h0M641 419h0M896 347h0M653 418h0M707 441h0M892 465h0M650 429h0M757 426h0M911 476h0M834 430h0M601 466h0M610 433h0M892 431h0M589 438h0M633 453h0M593 344h0M648 374h0M826 384h0M694 460h0M576 435h0M839 435h0M811 402h0M795 415h0M818 455h0M832 503h0M649 418h0M732 453h0M741 428h0M919 378h0M613 495h0M852 411h0M821 394h0M931 480h0M787 510h0M853 492h0M888 465h0M823 409h0M654 434h0M994 409h0M766 584h0M659 423h0M931 469h0M829 505h0M724 415h0M877 410h0M763 401h0M841 401h0M948 437h0M882 420h0M982 444h0M919 422h0M1269 429h0M745 446h0M668 530h0M717 385h0M838 451h0M623 428h0M940 427h0M1208 376h0M745 397h0M881 501h0M686 475h0M1195 385h0M983 470h0M845 434h0M792 534h0M1080 386h0M986 461h0M768 493h0M1195 444h0M731 439h0M710 425h0M833 487h0M875 447h0M810 359h0M578 408h0M640 389h0M737 455h0M704 505h0M838 445h0M1039 376h0M828 433h0M809 603h0M593 437h0M692 471h0M908 468h0M917 425h0M636 401h0M858 457h0M935 379h0M990 403h0M761 421h0M597 458h0M687 435h0M605 380h0M659 503h0M953 441h0M640 477h0M590 443h0M970 434h0M821 489h0M819 468h0M839 480h0M590 421h0M597 408h0M701 401h0M750 459h0M777 454h0M872 552h0M813 340h0M770 443h0M899 443h0M797 417h0M591 449h0M777 312h0M720 488h0M719 532h0M653 539h0M659 419h0M621 489h0M841 454h0M906 401h0M974 510h0M662 393h0M791 396h0M1116 434h0M666 449h0M714 495h0M964 501h0M842 427h0M820 505h0M873 433h0M758 533h0M658 483h0M819 456h0M837 469h0M784 409h0M883 450h0M632 422h0M762 426h0M667 435h0M609 484h0M692 503h0M969 423h0M973 437h0M688 398h0M798 441h0M682 415h0M669 427h0M768 400h0M997 398h0M972 410h0M960 450h0M992 464h0M934 522h0M632 495h0M702 463h0M592 415h0M665 515h0M648 451h0M778 474h0M994 435h0M852 432h0M761 405h0M935 435h0M846 359h0M1069 387h0M590 388h0M712 324h0M837 485h0M708 410h0M726 444h0M723 516h0M915 442h0M660 435h0M874 396h0M653 443h0M829 412h0M807 464h0M647 367h0M633 402h0M803 551h0M855 410h0M678 412h0M667 417h0M675 361h0M583 413h0M801 403h0M823 410h0M981 455h0M608 467h0M703 327h0M1085 416h0M795 415h0M767 381h0M747 409h0M793 510h0M891 403h0M590 446h0M764 470h0M598 432h0M610 380h0M728 423h0M635 414h0M653 375h0M754 458h0M944 454h0M1016 370h0M772 417h0M668 426h0M796 398h0M710 414h0M923 394h0M1025 494h0M582 410h0M863 415h0M679 500h0M829 412h0M878 489h0M776 473h0M1101 494h0M1004 470h0M618 400h0M653 433h0M826 401h0M628 482h0M819 562h0M891 437h0M789 436h0M752 483h0M1138 454h0M944 463h0M876 451h0M838 490h0M637 463h0M653 431h0M836 384h0M876 444h0M704 416h0M794 424h0M696 410h0M947 435h0M765 433h0M686 442h0M918 384h0M738 448h0M881 349h0M669 313h0M813 374h0M725 481h0M648 364h0M846 382h0M882 431h0M818 432h0M761 490h0M877 407h0M614 406h0M658 436h0M875 480h0M794 447h0M696 397h0M714 463h0M712 499h0M895 436h0M1092 471h0M1169 454h0M685 357h0M817 439h0M661 420h0M645 385h0M662 386h0M874 476h0M888 497h0M751 447h0M697 485h0M694 489h0M707 429h0M912 322h0M734 436h0M663 416h0M928 404h0M634 500h0M1002 440h0M735 385h0M901 483h0M781 497h0M858 433h0M842 399h0M811 388h0M995 441h0M800 426h0M796 388h0M893 477h0M760 519h0M722 403h0M837 507h0M751 450h0M645 368h0M810 479h0M713 324h0M781 422h0M925 381h0M1061 412h0M1225 469h0M604 508h0M973 428h0M1060 444h0M743 447h0M726 409h0M760 440h0M610 357h0M852 437h0M669 498h0M654 444h0M760 390h0M922 507h0M597 466h0M798 418h0M988 442h0M944 452h0M629 429h0M682 455h0M581 454h0M896 476h0M594 431h0M821 405h0M925 389h0M852 450h0M929 419h0M821 428h0M586 437h0M957 454h0M714 448h0M741 351h0M873 407h0M1237 444h0M893 420h0M624 449h0M594 431h0M769 439h0M627 510h0M732 500h0M825 458h0M775 443h0M714 470h0M738 479h0M1294 437h0M619 429h0M766 428h0M868 393h0M1061 417h0M695 389h0M911 381h0M881 444h0M615 390h0M582 435h0M609 413h0M857 395h0M582 458h0M888 549h0M810 441h0M988 415h0M691 430h0M953 464h0M996 433h0M773 537h0M730 350h0M790 335h0M914 485h0M948 449h0M832 441h0M652 388h0M573 439h0M918 480h0M900 446h0M708 468h0M687 441h0M935 446h0M723 379h0M632 465h0M839 413h0M1184 414h0M825 461h0M596 426h0M653 485h0M702 428h0M1129 433h0M653 520h0M693 410h0M586 428h0M696 486h0M934 493h0M693 421h0M878 378h0M1205 411h0M622 423h0M676 346h0M724 466h0M982 462h0M1152 460h0M753 443h0M979 454h0M657 462h0M735 435h0M851 461h0M690 436h0M845 481h0M819 559h0M1058 411h0M914 470h0M710 285h0M808 492h0M770 471h0M783 418h0M760 395h0M580 432h0M629 406h0M670 420h0M1023 453h0M989 412h0M846 473h0M969 400h0M898 358h0M827 402h0M680 410h0M646 401h0M999 463h0M704 410h0M1114 454h0M578 443h0M787 454h0M1014 468h0M887 446h0M687 408h0M1088 437h0M905 426h0M684 488h0M985 445h0M941 535h0M928 460h0M847 482h0M787 478h0M697 479h0M637 413h0M746 496h0M628 411h0M790 434h0M814 434h0M876 422h0M727 354h0M748 382h0M875 389h0M722 516h0M609 399h0M955 423h0M632 442h0M591 410h0M668 462h0M931 465h0M884 462h0M615 412h0M836 476h0M945 386h0M999 443h0M792 474h0M944 455h0M717 375h0M633 511h0M679 493h0M584 379h0M1052 413h0M961 401h0M788 538h0M748 483h0M704 451h0M804 481h0M622 456h0M891 444h0M711 527h0M906 311h0M610 506h0M683 498h0M920 473h0M899 449h0M841 435h0M807 459h0M1138 425h0M843 413h0M700 450h0M650 493h0M747 491h0M992 410h0M639 393h0M945 428h0M885 392h0M639 466h0M595 430h0M784 446h0M673 330h0M866 416h0M798 480h0M727 514h0M800 412h0M869 480h0M864 532h0M625 452h0M674 349h0M651 452h0M820 513h0M1020 443h0M763 445h0M730 401h0M689 440h0M756 410h0M1071 421h0M1052 451h0M799 369h0M872 398h0M809 441h0M825 530h0M927 398h0M748 432h0M743 478h0M934 419h0M625 451h0M1029 503h0M860 464h0M944 473h0M950 449h0M733 423h0M988 467h0M868 422h0M828 586h0M622 397h0M776 556h0M802 341h0M630 448h0M707 398h0M767 314h0M660 449h0M671 411h0M734 456h0M623 457h0M697 330h0M734 387h0M674 452h0M660 528h0M743 405h0M845 442h0M591 483h0M705 484h0M686 489h0M812 494h0M618 417h0M1005 470h0M796 461h0M816 495h0M635 499h0M585 449h0M719 412h0M669 438h0M1036 399h0M584 397h0M560 410h0M602 450h0M771 415h0M735 390h0M695 432h0M1042 400h0M880 520h0M647 355h0M607 449h0M955 428h0M933 451h0M599 523h0M927 428h0M821 427h0M895 448h0M870 397h0M701 401h0M937 446h0M998 439h0M844 493h0M763 491h0M833 419h0M992 426h0M871 451h0M775 328h0M854 436h0M721 438h0M627 406h0M625 514h0M680 408h0M967 382h0M749 407h0M855 505h0M709 535h0M920 398h0M831 468h0M672 375h0M589 424h0M893 471h0M642 405h0M887 454h0M627 397h0M910 453h0M858 430h0M643 458h0M755 421h0M841 435h0M644 366h0M651 379h0M643 425h0M595 375h0M1025 449h0M659 423h0M796 557h0M643 480h0M681 408h0M957 419h0M647 417h0M927 449h0M780 349h0M754 319h0M1001 389h0M718 439h0M895 475h0M735 500h0M747 430h0M875 435h0M733 412h0M577 421h0M678 387h0M944 453h0M703 454h0M820 482h0M820 367h0M904 363h0M726 404h0M846 401h0M721 426h0M675 430h0M913 429h0M600 464h0M727 430h0M835 472h0M681 442h0M776 408h0M921 454h0M878 436h0M712 468h0M969 408h0M941 484h0M913 452h0M660 469h0M734 432h0M1248 408h0M814 369h0M670 484h0M754 453h0M720 365h0M804 483h0M699 439h0M1013 472h0M775 436h0M772 380h0M579 428h0M664 474h0M653 415h0M742 455h0M595 444h0M694 291h0M926 461h0M776 530h0M966 379h0M737 428h0M811 398h0M940 377h0M721 464h0M763 434h0M741 474h0M788 379h0M683 432h0M869 421h0M659 425h0M595 418h0M621 425h0M633 409h0M774 469h0M892 454h0M744 433h0M637 468h0M612 463h0M889 437h0M732 427h0M855 367h0M915 610h0M1024 417h0M943 419h0M579 319h0M852 469h0M807 493h0M727 384h0M615 496h0M628 415h0M895 443h0M702 534h0M832 414h0M809 525h0M869 505h0M863 442h0M726 478h0M630 449h0M676 416h0M879 386h0M802 439h0M811 475h0M875 475h0M866 354h0M766 380h0M915 405h0M890 396h0M900 453h0M607 478h0M898 472h0M800 415h0M763 428h0M891 441h0M951 467h0M916 392h0M588 436h0M952 415h0M640 494h0M797 431h0M982 422h0M657 400h0M850 456h0M707 522h0M636 420h0M938 352h0M902 448h0M977 394h0M594 435h0M652 471h0M600 398h0M773 318h0M917 460h0M915 413h0M702 440h0M702 383h0M1036 457h0M685 418h0M890 418h0M653 433h0M840 382h0M805 464h0M803 403h0M636 453h0M925 483h0M927 417h0M670 432h0M807 380h0M705 492h0M1008 457h0M800 425h0M607 427h0M750 459h0M675 414h0M1091 514h0M687 523h0M767 348h0M705 470h0M613 391h0M957 503h0M861 425h0M982 450h0M938 451h0M819 429h0M809 465h0M859 434h0M730 398h0M870 346h0M624 426h0M812 514h0M860 512h0M625 467h0M585 455h0M740 446h0M891 402h0M698 422h0M637 410h0M860 411h0M871 428h0M686 387h0M636 440h0M750 406h0M643 510h0M919 428h0M787 423h0M644 424h0M691 429h0M701 438h0M748 401h0M994 439h0M908 379h0M613 455h0M863 475h0M756 298h0M674 423h0M595 465h0M828 429h0M1057 394h0M976 427h0M935 439h0M704 420h0M866 396h0M862 452h0M857 317h0M828 437h0M911 437h0M941 388h0M668 382h0M780 364h0M973 378h0M609 419h0M797 413h0M904 437h0M966 368h0M842 419h0M786 397h0M774 403h0M678 481h0M710 436h0M855 434h0M954 462h0M1016 439h0M989 470h0M680 472h0M670 304h0M602 486h0M964 387h0M801 472h0M706 447h0M838 385h0M919 406h0M870 416h0M801 418h0M684 423h0M804 461h0M835 438h0M656 469h0M851 434h0M714 465h0M592 395h0M1150 404h0M802 467h0M820 417h0M636 511h0M885 450h0M597 433h0M636 435h0M923 416h0M889 437h0M753 432h0M634 380h0M769 474h0M681 419h0M722 381h0M641 473h0M976 390h0M918 421h0M1139 429h0M713 423h0M748 426h0M853 468h0M981 475h0M621 358h0M625 349h0M595 414h0M587 403h0M659 471h0M693 493h0M754 429h0M854 418h0M882 409h0M965 446h0M903 451h0M697 494h0M1169 424h0M711 425h0M626 480h0M960 468h0M977 429h0M746 386h0M647 394h0M700 458h0M1003 441h0M609 437h0M869 417h0M838 523h0M910 479h0M818 362h0M597 440h0M772 556h0M887 438h0M621 411h0M728 414h0M1029 402h0M1095 428h0M647 473h0M647 401h0M935 373h0M1064 409h0M876 444h0M638 402h0M1057 403h0M800 446h0M904 474h0M912 316h0M806 421h0M665 418h0M698 508h0M940 469h0M1057 471h0M654 390h0M852 416h0M894 383h0M644 435h0M808 464h0M847 379h0M730 432h0M726 539h0M703 480h0M876 441h0M962 442h0M817 431h0M606 440h0M875 503h0M725 477h0M984 448h0M758 386h0M820 427h0M817 458h0M962 417h0M851 453h0M797 365h0M813 456h0M821 517h0M865 457h0M987 418h0M740 421h0M773 399h0M879 444h0M946 517h0M914 514h0M863 451h0M812 420h0M624 448h0M592 394h0M618 415h0M887 453h0M590 421h0M661 332h0M835 375h0M734 445h0M576 486h0M1017 477h0M942 415h0M810 467h0M986 489h0M615 397h0M768 425h0M724 479h0M1245 423h0M597 397h0M751 386h0M764 452h0M817 543h0M685 442h0M875 431h0M749 404h0M1105 424h0M600 484h0M833 442h0M653 497h0M828 423h0M793 384h0M673 429h0M730 530h0M785 488h0M829 435h0M967 449h0M808 408h0M956 443h0M812 381h0M803 428h0M627 382h0M852 529h0M1226 449h0M658 414h0M911 431h0M821 488h0M600 396h0M666 565h0M771 398h0M618 429h0M603 368h0M725 364h0M1049 461h0M676 301h0M1077 389h0M643 490h0M734 418h0M946 412h0M736 435h0M947 488h0M804 527h0M811 426h0M912 501h0M894 471h0M622 436h0M796 552h0M998 441h0M692 500h0M631 428h0M988 418h0M841 348h0M897 424h0M833 404h0M614 385h0M971 431h0M660 428h0M928 435h0M775 473h0M721 410h0M662 350h0M970 437h0M925 394h0M629 425h0M1082 435h0M649 355h0M1053 501h0M826 382h0M782 435h0M876 391h0M927 414h0M740 386h0M937 404h0M952 548h0M744 430h0M876 438h0M830 449h0M809 463h0M811 385h0M935 437h0M842 436h0M609 450h0M790 458h0M660 437h0M758 490h0M889 471h0M585 462h0M878 457h0M737 470h0M608 376h0M611 507h0M1070 464h0M742 385h0M681 451h0M888 446h0M1028 435h0M797 500h0M597 416h0M805 376h0M933 465h0M791 441h0M583 456h0M721 466h0M631 503h0M861 560h0M860 348h0M609 399h0M736 522h0M866 453h0M649 412h0M793 481h0M625 417h0M600 439h0M870 436h0M701 339h0M829 385h0M930 393h0M612 370h0M769 430h0M590 396h0M902 342h0M763 518h0M856 383h0M952 368h0M843 380h0M636 452h0M705 451h0M908 419h0M710 520h0M822 510h0M762 418h0M848 455h0M901 451h0M840 415h0M940 417h0M648 431h0M911 442h0M650 429h0M823 439h0M933 403h0M854 425h0M587 407h0M923 454h0M706 490h0M621 460h0M1056 479h0M625 447h0M930 410h0M838 413h0M612 425h0M984 404h0M1032 418h0M975 415h0M916 359h0M590 398h0M981 465h0M699 500h0M728 372h0M684 353h0M578 441h0M1014 411h0M1206 420h0M669 466h0M603 422h0M1016 414h0M871 437h0M892 405h0M867 492h0M647 366h0M916 395h0M689 416h0M948 483h0M591 430h0M592 448h0M609 461h0M647 379h0M983 373h0M682 510h0M801 485h0M785 380h0M663 417h0M867 421h0M742 375h0M717 471h0M727 380h0M681 408h0M637 354h0M764 485h0M955 476h0M649 484h0M963 415h0M602 370h0M825 366h0M616 427h0M830 490h0M689 437h0M859 399h0M925 401h0M683 383h0M918 466h0M666 438h0M757 378h0M601 449h0M749 469h0M1006 458h0M636 432h0M770 506h0M593 424h0M871 484h0M665 404h0M886 482h0M831 416h0M1043 358h0M656 536h0M863 475h0M823 537h0M600 408h0M785 443h0M1045 414h0M925 407h0M710 444h0M824 390h0M707 438h0M895 454h0M872 451h0M640 366h0M896 422h0M1021 447h0M831 435h0M915 460h0M719 501h0M609 443h0M867 415h0M881 441h0M828 429h0M955 465h0M634 606h0M789 550h0M612 413h0M910 464h0M660 501h0M616 444h0M911 484h0M779 423h0M845 346h0M913 449h0M887 524h0M1099 379h0M918 452h0M964 452h0M635 383h0M597 456h0M951 481h0M746 511h0M928 427h0M943 380h0M865 322h0M749 399h0M850 466h0M796 390h0M863 388h0M598 487h0M698 358h0M790 475h0M825 515h0M700 458h0M702 431h0M960 427h0M976 524h0M674 405h0M683 442h0M855 430h0M835 510h0M727 392h0M902 415h0M911 489h0M590 525h0M845 465h0M702 464h0M952 372h0M642 437h0M701 470h0M935 457h0M953 441h0M832 454h0M1122 463h0M859 391h0M657 412h0M717 424h0M938 403h0M700 404h0M697 391h0M866 400h0M929 459h0M989 465h0M847 441h0M616 393h0M648 410h0M913 442h0M702 469h0M886 443h0M607 449h0M733 505h0M880 440h0M851 404h0M894 512h0M883 469h0M833 510h0M1066 463h0M831 485h0M689 475h0M845 505h0M741 458h0M713 389h0M875 451h0M850 425h0M591 379h0M997 432h0M603 443h0M869 412h0M680 414h0M815 455h0M812 414h0M738 390h0M872 428h0M965 481h0M796 490h0M624 391h0M801 475h0M1002 425h0M730 383h0M745 428h0M677 574h0M798 361h0M632 460h0M1060 419h0M936 465h0M585 454h0M1006 426h0M597 451h0M919 450h0M849 393h0M754 482h0M677 418h0M717 428h0M641 428h0M624 467h0M733 407h0M757 358h0M638 502h0M626 415h0M870 441h0M980 406h0M1122 470h0M647 451h0M761 458h0M1035 409h0M629 389h0M966 435h0M598 443h0M708 417h0M878 356h0M1091 426h0M775 539h0M973 540h0M964 434h0M895 388h0M718 500h0M581 418h0M886 461h0M634 392h0M768 373h0M840 547h0M586 427h0M810 423h0M995 469h0M839 434h0M1015 467h0M900 516h0M709 436h0M752 404h0M820 474h0M749 510h0M966 468h0M989 431h0M670 406h0M585 406h0M851 416h0M853 438h0M929 490h0M728 416h0M945 512h0M721 401h0M892 361h0M875 386h0M893 435h0M818 487h0M809 389h0M930 456h0M752 451h0M731 502h0M639 431h0M887 405h0M844 466h0M637 388h0M692 470h0M837 463h0M707 476h0M755 419h0M758 392h0M745 537h0M655 423h0M713 435h0M891 382h0M886 398h0M971 307h0M861 408h0M967 363h0M978 441h0M777 484h0M919 426h0M842 399h0M740 419h0M700 330h0M757 440h0M850 465h0M890 535h0M648 475h0M737 505h0M725 458h0M726 386h0M949 444h0M942 413h0M582 460h0M716 458h0M682 452h0M985 448h0M1237 431h0M805 479h0M618 389h0M593 385h0M770 460h0M816 502h0M603 480h0M842 461h0M904 425h0M586 394h0M878 302h0M888 371h0M663 385h0M658 420h0M779 361h0M747 453h0M871 482h0M946 433h0M738 553h0M623 349h0M658 417h0M667 460h0M1080 421h0M1144 424h0M773 477h0M961 412h0M1005 459h0M650 460h0M913 427h0M675 472h0M694 514h0M752 420h0M706 492h0M678 427h0M585 345h0M823 494h0M828 436h0M753 471h0M764 422h0M718 393h0M967 484h0M639 400h0M623 438h0M1011 414h0M682 457h0M702 390h0M729 431h0M875 477h0M876 470h0M958 411h0M911 422h0M1017 434h0M908 485h0M955 409h0M724 403h0M676 380h0M686 447h0M687 437h0M880 414h0M768 494h0M958 408h0M699 447h0M584 392h0M924 465h0M809 507h0M946 412h0M649 436h0M719 402h0M880 492h0M780 444h0M854 497h0M923 420h0M650 481h0M609 438h0M930 433h0M748 377h0M889 458h0M1190 514h0M616 426h0M681 434h0M1166 420h0M716 517h0M968 439h0M825 333h0M827 427h0M592 416h0M597 420h0M871 605h0M876 398h0M693 384h0M857 466h0M958 376h0M617 426h0M759 421h0M952 425h0M612 439h0M701 391h0M871 409h0M961 410h0M897 516h0M741 452h0M637 473h0M731 400h0M704 507h0M883 567h0M789 500h0M688 446h0M789 485h0M710 461h0M698 389h0M869 407h0M631 424h0M570 451h0M705 537h0M766 447h0M1034 430h0M634 348h0M855 408h0M849 458h0M1199 499h0M819 294h0M855 400h0M833 386h0M686 441h0M751 463h0M785 538h0M795 372h0M847 459h0M753 422h0M685 404h0M858 474h0M590 434h0M595 444h0M768 457h0M726 433h0M692 503h0M917 476h0M827 494h0M670 497h0M749 471h0M668 429h0M742 401h0M770 466h0M615 379h0M721 471h0M779 467h0M758 330h0M828 467h0M717 460h0M716 507h0M754 446h0M916 370h0M989 431h0M797 468h0M886 439h0M768 393h0M863 489h0M759 399h0M778 443h0M864 431h0M965 390h0M700 409h0M1071 448h0M815 465h0M749 425h0M1071 474h0M663 482h0M866 401h0M918 449h0M830 459h0M799 441h0M997 491h0M598 461h0M711 426h0M1288 447h0M1033 424h0M581 418h0M758 449h0M777 401h0M613 437h0M617 442h0M604 432h0M633 476h0M675 445h0M917 448h0M633 628h0M856 446h0M901 390h0M1025 395h0M655 440h0M826 460h0M597 452h0M904 436h0M935 469h0M1054 411h0M1050 397h0M702 455h0M787 446h0M1184 357h0M861 417h0M662 399h0M651 375h0M769 556h0M729 310h0M941 471h0M817 467h0M795 495h0M679 420h0M809 436h0M783 458h0M754 444h0M722 478h0M802 465h0M768 410h0M638 459h0M595 393h0M752 495h0M1025 466h0M992 423h0M737 506h0M1066 463h0M662 389h0M728 423h0M965 388h0M779 453h0M673 386h0M825 425h0M643 472h0M805 441h0M717 343h0M676 390h0M631 385h0M797 451h0M875 384h0M884 558h0M656 390h0M704 497h0M664 455h0M860 452h0M1195 463h0M843 410h0M865 355h0M647 414h0M747 393h0M734 487h0M882 485h0M808 388h0M773 434h0M860 413h0M868 413h0M743 545h0M906 460h0M730 454h0M1012 397h0M652 422h0M795 386h0M612 451h0M910 388h0M684 461h0M793 487h0M660 449h0M757 456h0M1033 472h0M619 402h0M754 431h0M659 442h0M947 414h0M604 434h0M961 402h0M585 444h0M665 473h0M721 466h0M717 426h0M627 434h0M653 479h0M724 413h0M582 440h0M988 424h0M905 524h0M583 418h0M698 416h0M677 382h0M850 505h0M882 349h0M593 406h0M843 410h0M609 444h0M769 382h0M619 469h0M931 387h0M873 434h0M889 382h0M606 422h0M786 396h0M936 433h0M805 559h0M758 403h0M697 351h0M825 467h0M603 430h0M888 383h0M994 405h0M895 498h0M911 426h0M986 485h0M1075 498h0M577 417h0M639 379h0M747 329h0M699 461h0M651 429h0M852 458h0M673 441h0M756 323h0M863 420h0M897 406h0M1033 405h0M599 447h0M693 474h0M940 450h0M640 472h0M903 374h0M702 438h0M960 474h0M759 385h0M963 386h0M861 508h0M594 424h0M706 436h0M689 463h0M777 485h0M788 463h0M680 464h0M809 391h0M622 441h0M963 426h0M868 380h0M633 519h0M849 504h0M765 502h0M900 422h0M991 384h0M612 403h0M663 444h0M767 438h0M711 373h0M1187 451h0M736 407h0M980 444h0M855 458h0M717 492h0M664 451h0M892 442h0M953 497h0M706 420h0M705 393h0M644 381h0M709 402h0M769 484h0M763 405h0M632 425h0M816 419h0M630 473h0M952 426h0M927 494h0M792 419h0M645 425h0M845 380h0M783 518h0M748 431h0M869 523h0M681 469h0M814 499h0M948 411h0M679 415h0M570 468h0M815 465h0M671 436h0M599 475h0M704 395h0M752 391h0M692 415h0M761 394h0M970 391h0M720 447h0M669 525h0M609 457h0M579 461h0M936 484h0M876 381h0M724 450h0M1028 454h0M710 379h0M628 355h0M829 463h0M1109 375h0M738 392h0M917 422h0M873 450h0M828 540h0M659 461h0M616 456h0M861 378h0M845 375h0M981 428h0M643 355h0M663 413h0M998 414h0M721 389h0M858 396h0M962 441h0M792 464h0M916 475h0M1035 401h0M856 470h0M690 384h0M751 439h0M711 466h0M646 405h0M787 467h0M936 476h0M805 456h0M906 486h0M770 476h0M606 456h0M624 374h0M598 464h0M880 448h0M738 406h0M705 371h0M987 485h0M800 437h0M775 387h0M911 335h0M616 413h0M841 360h0M707 353h0M736 423h0M875 417h0M910 428h0M608 497h0M845 387h0M796 391h0M797 478h0M677 382h0M873 469h0M974 444h0M799 397h0M1005 356h0M875 457h0M638 528h0M736 440h0M876 444h0M828 500h0M708 465h0M763 416h0M974 424h0M853 456h0M845 467h0M747 432h0M579 437h0M664 475h0M783 582h0M642 432h0M820 427h0M1052 483h0M826 442h0M807 291h0M824 416h0M749 473h0M704 388h0M854 510h0M751 579h0M613 440h0M638 308h0M736 498h0M892 417h0M843 466h0M933 403h0M615 466h0M903 342h0M844 487h0M883 521h0M583 468h0M716 374h0M872 440h0M655 459h0M788 422h0M829 411h0M754 375h0M785 398h0M612 425h0M739 467h0M695 437h0M773 409h0M837 382h0M894 418h0M675 476h0M900 421h0M1056 436h0M627 435h0M910 438h0M650 539h0M760 404h0M1051 468h0M950 382h0M741 401h0M634 392h0M732 338h0M883 439h0M607 473h0M760 442h0M633 462h0M845 486h0M809 432h0M900 413h0M674 362h0M770 449h0M576 419h0M854 410h0M737 527h0M647 343h0M704 443h0M978 465h0M640 458h0M793 346h0M651 532h0M1022 428h0M614 479h0M618 438h0M1055 382h0M916 376h0M614 434h0M678 412h0M922 323h0M749 404h0M882 465h0M904 428h0M869 455h0M691 470h0M945 310h0M594 458h0M874 372h0M832 422h0M765 421h0M758 406h0M840 469h0M917 419h0M844 504h0M1034 465h0M942 363h0M913 429h0M1015 445h0M608 437h0M884 438h0M796 406h0M1013 396h0M689 490h0M857 511h0M815 539h0M721 401h0M896 440h0M921 394h0M876 506h0M845 507h0M605 411h0M763 445h0M856 400h0M884 408h0M970 437h0M731 453h0M938 398h0M767 539h0M839 456h0M633 440h0M753 441h0M745 407h0M726 450h0M745 450h0M817 439h0M877 422h0M948 467h0M778 440h0M1006 481h0M582 455h0M610 369h0M674 466h0M781 319h0M1066 457h0M691 372h0M612 489h0M648 436h0M646 408h0M662 493h0M660 410h0M758 409h0M583 428h0M656 412h0M857 394h0M882 404h0M1200 443h0M926 428h0M920 440h0M675 382h0M936 473h0M696 439h0M849 430h0M747 389h0M794 444h0M927 449h0M972 482h0M818 408h0M616 441h0M771 472h0M1026 451h0M618 402h0M588 454h0M902 455h0M678 461h0M740 432h0M781 412h0M707 380h0M651 428h0M779 466h0M832 521h0M685 449h0M915 436h0M790 457h0M619 428h0M844 388h0M720 470h0M827 443h0M898 488h0M580 439h0M741 489h0M742 473h0M659 438h0M656 507h0M695 470h0M630 448h0M595 412h0M681 463h0M687 425h0M842 401h0M830 452h0M722 421h0M829 445h0M675 469h0M759 398h0M707 403h0M600 467h0M709 469h0M929 433h0M859 459h0M645 431h0M964 409h0M862 476h0M1044 358h0M651 491h0M808 491h0M851 431h0M572 401h0M740 463h0M904 451h0M932 436h0M605 451h0M689 443h0M646 494h0M814 401h0M920 463h0M831 416h0M644 467h0M889 466h0M621 440h0M916 466h0M659 390h0M777 400h0M696 395h0M671 464h0M1047 491h0M865 406h0M923 395h0M888 401h0M603 452h0M802 522h0M704 457h0M722 415h0M618 399h0M877 365h0M694 396h0M646 456h0M575 424h0M878 439h0M947 418h0M613 395h0M676 454h0M786 416h0M863 346h0M775 408h0M878 455h0M906 402h0M748 421h0M861 511h0M885 478h0M617 464h0M787 384h0M694 428h0M672 414h0M968 402h0M977 428h0M623 452h0M925 490h0M882 466h0M728 449h0M723 424h0M718 374h0M957 453h0M744 298h0M830 459h0M626 440h0M874 409h0M732 462h0M903 368h0M927 458h0M604 492h0M674 525h0M710 411h0M963 421h0M678 425h0M754 402h0M830 397h0M1020 439h0M715 384h0M1077 506h0M896 434h0M914 391h0M760 379h0M873 454h0M590 443h0M836 445h0M723 436h0M658 462h0M961 456h0M581 451h0M733 502h0M781 390h0M1085 456h0M834 441h0M630 434h0M809 399h0M901 462h0M859 436h0M797 426h0M686 491h0M736 318h0M951 402h0M589 460h0M787 311h0M676 390h0M652 446h0M651 482h0M948 436h0M1228 441h0M909 401h0M1045 450h0M632 403h0M1055 408h0M665 417h0M659 447h0M704 323h0M746 409h0M945 417h0M921 494h0M624 444h0M903 467h0M832 383h0M1084 433h0M844 540h0M737 428h0M764 357h0M989 438h0M1019 390h0M766 516h0M611 400h0M966 425h0M922 384h0M691 405h0M758 568h0M697 509h0M707 441h0M855 467h0M925 406h0M644 434h0M645 408h0M645 372h0M921 441h0M620 441h0M754 429h0M629 382h0M706 374h0M610 365h0M657 429h0M911 473h0M842 486h0M834 340h0M718 413h0M701 375h0M588 427h0M730 375h0M921 484h0M681 419h0M661 419h0M875 475h0M638 384h0M596 503h0M819 446h0M629 452h0M844 428h0M818 412h0M996 465h0M711 492h0M785 312h0M988 447h0M821 476h0M869 503h0M977 532h0M748 403h0M843 365h0M894 454h0M707 459h0M1146 440h0M760 481h0M899 515h0M760 539h0M787 425h0M802 413h0M724 446h0M738 486h0M883 416h0M938 449h0M1003 433h0M847 408h0M847 385h0M996 425h0M780 538h0M616 464h0M815 427h0M935 451h0M815 448h0M818 419h0M774 444h0M658 451h0M757 413h0M847 472h0M620 414h0M922 452h0M675 449h0M726 386h0M617 459h0M627 410h0M803 458h0M790 542h0M740 466h0M819 430h0M625 433h0M800 405h0M612 427h0M662 370h0M717 456h0M675 363h0M709 471h0M765 541h0M840 408h0M618 418h0M824 465h0M709 435h0M667 453h0M619 444h0M764 519h0M572 395h0M647 454h0M707 482h0M1120 493h0M754 498h0M763 467h0M950 455h0M799 384h0M836 463h0M617 448h0M655 596h0M599 438h0M794 408h0M753 435h0M676 466h0M853 429h0M577 432h0M797 388h0M744 443h0M936 395h0M732 414h0M627 482h0M736 460h0M761 505h0M601 462h0M662 453h0M645 428h0M657 358h0M906 476h0M695 399h0M853 396h0M1252 403h0M939 402h0M748 345h0M598 433h0M764 405h0M847 464h0M692 419h0M695 429h0M823 449h0M604 453h0M781 463h0M902 460h0M837 398h0M895 487h0M885 459h0M945 441h0M739 415h0M848 471h0M1045 437h0M854 503h0M1286 429h0M1017 449h0M716 446h0M624 465h0M685 434h0M616 470h0M609 436h0M747 398h0M1004 433h0M997 426h0M837 446h0M1089 368h0M689 464h0M633 446h0M975 402h0M954 388h0M690 368h0M876 460h0M628 403h0M1001 401h0M686 456h0M648 429h0M1107 412h0M587 466h0M667 362h0M757 427h0M729 477h0M819 590h0M729 417h0M970 398h0M961 359h0M923 441h0M937 529h0M885 460h0M835 467h0M642 494h0M593 374h0M865 508h0M751 365h0M965 411h0M1090 424h0M771 500h0M706 447h0M759 436h0M671 347h0M735 442h0M847 370h0M878 459h0M859 411h0M626 403h0M1037 468h0M756 410h0M914 454h0M692 434h0M1218 390h0M631 388h0M955 463h0M880 449h0M599 425h0M858 402h0M602 388h0M616 411h0M698 363h0M864 437h0M759 401h0M598 429h0M964 377h0M711 452h0M610 430h0M732 466h0M939 434h0M792 498h0M936 406h0M932 434h0M860 466h0M615 441h0M675 475h0M642 402h0M793 412h0M656 442h0M652 458h0M794 437h0M761 403h0M789 453h0M849 456h0M915 452h0M771 458h0M668 501h0M1015 447h0M971 435h0M708 393h0M1148 407h0M962 445h0M911 427h0M608 441h0M675 385h0M832 482h0M688 481h0M675 475h0M612 419h0M990 457h0M683 470h0M650 507h0M765 444h0M841 423h0M859 450h0M895 389h0M727 424h0M1121 476h0M863 335h0M641 357h0M869 420h0M863 485h0M847 438h0M707 325h0M731 472h0M784 549h0M733 524h0M931 444h0M620 470h0M949 466h0M1010 470h0M692 365h0M865 386h0M830 372h0M639 395h0M854 444h0M813 417h0M636 351h0M878 430h0M959 352h0M953 449h0M870 397h0M812 357h0M1217 381h0M646 451h0M819 413h0M753 426h0M644 447h0M626 426h0M824 502h0M923 437h0M684 411h0M897 445h0M836 507h0M708 427h0M668 402h0M958 458h0M629 405h0M843 407h0M627 445h0M835 486h0M783 470h0M759 384h0M1227 408h0M622 410h0M976 453h0M589 437h0M950 463h0M723 386h0M771 306h0M609 424h0M848 388h0M595 476h0M750 467h0M657 432h0M1039 426h0M1010 393h0M802 434h0M747 444h0M1225 423h0M971 438h0M797 419h0M672 421h0M856 389h0M908 426h0M918 461h0M1023 479h0M656 383h0M963 444h0M738 595h0M779 430h0M589 461h0M766 377h0M799 422h0M839 441h0M765 461h0M630 452h0M962 444h0M638 343h0M1069 512h0M692 392h0M891 457h0M679 424h0M887 433h0M745 544h0M614 484h0M795 514h0M601 458h0M889 359h0M647 407h0M958 406h0M674 387h0M609 446h0M850 436h0M683 441h0M811 426h0M982 412h0M749 532h0M1085 449h0M836 458h0M840 441h0M953 394h0M953 468h0M588 459h0M843 410h0M608 485h0M971 422h0M884 442h0M911 419h0M807 342h0M832 400h0M632 387h0M1055 442h0M802 408h0M888 381h0M764 326h0M802 472h0M744 469h0M706 448h0M1187 403h0M837 629h0M1106 434h0M867 323h0M847 407h0M635 447h0M959 425h0M641 390h0M1089 381h0M850 555h0M680 516h0M848 513h0M940 444h0M789 450h0M869 369h0M664 451h0M919 359h0M598 472h0M775 406h0M644 481h0M643 482h0M609 423h0M681 411h0M637 494h0M613 432h0M924 439h0M768 410h0M948 440h0M891 384h0M650 405h0M887 458h0M919 454h0M610 436h0M1026 444h0M609 473h0M886 455h0M906 554h0M822 456h0M833 416h0M844 411h0M948 443h0M762 426h0M687 428h0M707 417h0M609 407h0M597 428h0M671 308h0M773 395h0M1005 330h0M833 447h0M897 431h0M876 471h0M785 401h0M717 457h0M629 496h0M641 397h0M744 443h0M842 372h0M1213 471h0M814 497h0M602 431h0M965 385h0M713 509h0M664 439h0M940 462h0M753 363h0M666 374h0M692 468h0M908 429h0M918 427h0M981 441h0M725 416h0M748 480h0M614 490h0M688 488h0M967 455h0M939 427h0M907 398h0M937 441h0M780 440h0M703 383h0M883 485h0M851 428h0M907 434h0M826 440h0M1003 412h0M961 456h0M658 428h0M1012 403h0M853 477h0M778 349h0M952 378h0M901 434h0M828 412h0M811 424h0M836 444h0M813 457h0M593 414h0M758 434h0M896 493h0M648 445h0M929 407h0M661 428h0M590 461h0M714 494h0M611 465h0M993 456h0M827 411h0M923 426h0M600 437h0M841 557h0M591 389h0M580 412h0M586 456h0M671 384h0M904 445h0M687 373h0M856 394h0M672 552h0M658 453h0M667 396h0M699 441h0M885 403h0M916 469h0M660 413h0M911 419h0M648 407h0M997 403h0M638 451h0M941 449h0M988 477h0M650 340h0M773 413h0M842 290h0M753 481h0M1099 461h0M746 362h0M985 398h0M724 475h0M869 407h0M775 490h0M606 433h0M754 401h0M623 411h0M769 413h0M637 356h0M878 390h0M779 342h0M848 403h0M863 430h0M737 458h0M878 444h0M711 430h0M767 412h0M810 342h0M1072 423h0M899 395h0M935 426h0M780 438h0M812 486h0M704 464h0M747 381h0M885 419h0M767 518h0M930 563h0M811 374h0M895 471h0M826 459h0M830 440h0M754 443h0M888 431h0M649 368h0M942 491h0M646 477h0M745 468h0M806 386h0M673 464h0M995 386h0M690 413h0M813 464h0M741 453h0M784 505h0M1094 479h0M682 454h0M676 492h0M691 441h0M666 399h0M742 362h0M744 298h0M870 384h0M860 417h0M692 384h0M1149 455h0M676 413h0M914 457h0M770 387h0M965 483h0M670 519h0M719 469h0M689 463h0M905 399h0M948 449h0M648 422h0M813 426h0M580 433h0M890 460h0M673 465h0M606 413h0M1193 411h0M867 454h0M664 442h0M916 438h0M583 422h0M720 398h0M641 381h0M794 401h0M804 438h0M888 563h0M988 503h0M713 437h0M588 423h0M744 423h0M852 461h0M763 408h0M678 390h0M828 479h0M797 428h0M811 575h0M1016 447h0M937 486h0M611 433h0M877 438h0M719 528h0M829 390h0M741 424h0M1054 403h0M906 404h0M852 464h0M673 428h0M618 439h0M620 494h0M805 422h0M728 428h0M1113 472h0M740 407h0M652 439h0M1030 421h0M782 452h0M901 467h0M673 384h0M796 516h0M883 404h0M1111 486h0M589 433h0M802 476h0M900 369h0M688 461h0M723 396h0M667 369h0M640 428h0M700 370h0M863 461h0M658 406h0M925 445h0M649 404h0M746 489h0M996 427h0M898 438h0M973 420h0M699 368h0M663 390h0M915 405h0M587 444h0M683 500h0M922 410h0M722 428h0M691 391h0M702 411h0M723 533h0M847 437h0M714 363h0M721 447h0M905 384h0M768 433h0M944 477h0M697 440h0M640 432h0M909 451h0M712 520h0M703 299h0M625 435h0M947 494h0M1005 402h0M798 433h0M584 439h0M629 393h0M1041 411h0M747 473h0M782 366h0M784 438h0M843 435h0M771 515h0M1046 465h0M859 461h0M685 449h0M892 427h0M707 435h0M581 422h0M791 386h0M800 520h0M1193 477h0M574 421h0M710 527h0M877 434h0M670 446h0M634 434h0M718 398h0M1011 439h0M1123 472h0M1237 515h0M797 408h0M894 362h0M776 336h0M805 444h0M1002 407h0M942 483h0M886 365h0M651 489h0M630 387h0M863 414h0M619 423h0M669 452h0M739 443h0M691 471h0M741 429h0M879 422h0M902 466h0M828 439h0M620 444h0M593 443h0M703 474h0M793 495h0M685 380h0M879 467h0M715 497h0M831 431h0M913 344h0M821 346h0M634 484h0M915 413h0M700 385h0M1027 429h0M830 403h0M1052 497h0M875 457h0M756 495h0M679 490h0M882 415h0M732 373h0M702 472h0M831 441h0M777 437h0M821 419h0M907 412h0M713 468h0M860 417h0M713 281h0M817 464h0M721 413h0M783 455h0M696 577h0M874 438h0M666 446h0M872 441h0M794 515h0M917 408h0M670 446h0M654 478h0M629 449h0M947 356h0M1080 435h0M618 427h0M682 442h0M764 341h0M790 442h0M885 448h0M769 393h0M576 417h0M811 456h0M620 473h0M701 412h0M702 380h0M863 377h0M801 426h0M870 463h0M782 340h0M679 443h0M793 423h0M1051 460h0M912 469h0M593 400h0M947 404h0M716 541h0M962 443h0M866 470h0M614 452h0M832 407h0M831 272h0M686 410h0M839 514h0M771 417h0M841 482h0M617 497h0M912 408h0M905 384h0M966 403h0M1098 448h0M689 427h0M598 467h0M608 412h0M603 428h0M679 526h0M744 434h0M714 402h0M986 437h0M895 387h0M613 413h0M794 423h0M901 380h0M613 445h0M891 358h0M718 390h0M877 473h0M670 327h0M881 428h0M613 423h0M1067 449h0M604 419h0M606 413h0M747 468h0M966 421h0M715 366h0M624 445h0M613 477h0M810 459h0M603 467h0M925 387h0M910 477h0M913 477h0M702 364h0M728 501h0M886 407h0M878 369h0M732 513h0M881 456h0M1014 433h0M914 435h0M917 507h0M832 330h0M727 387h0M853 405h0M637 428h0M978 377h0M846 475h0M662 342h0M604 394h0M636 457h0M1018 393h0M903 373h0M960 319h0M719 485h0M679 390h0M651 467h0M569 364h0M808 432h0M736 427h0M914 467h0M739 475h0M779 575h0M870 483h0M706 540h0M757 411h0M915 445h0M886 477h0M901 533h0M808 406h0M622 491h0M604 479h0M941 518h0M1097 448h0M832 429h0M678 375h0M668 455h0M972 443h0M720 433h0M863 370h0M994 416h0M973 513h0M959 423h0M710 456h0M689 444h0M867 424h0M601 486h0M702 382h0M699 453h0M918 405h0M1216 460h0M861 417h0M838 426h0M665 372h0M737 472h0M792 490h0M650 391h0M892 407h0M784 447h0M949 434h0M1065 418h0M646 423h0M820 494h0M864 373h0M649 413h0M753 467h0M854 411h0M608 452h0M759 398h0M749 370h0M910 573h0M618 435h0M774 429h0M901 377h0M775 487h0M844 344h0M682 439h0M778 459h0M729 406h0M981 428h0M818 412h0M789 398h0M1012 430h0M629 427h0M720 495h0M1007 428h0M1053 399h0M711 405h0M919 481h0M1041 407h0M713 466h0M604 407h0M667 381h0M1240 419h0M913 425h0M608 398h0M942 446h0M678 424h0M687 486h0M848 419h0M676 463h0M751 334h0M622 516h0M708 527h0M958 457h0M651 397h0M575 450h0M1017 436h0M663 396h0M727 365h0M730 438h0M828 462h0M978 416h0M788 447h0M932 482h0M683 402h0M797 398h0M807 500h0M653 404h0M1045 418h0M603 409h0M757 414h0M784 515h0M1120 428h0M897 465h0M708 408h0M673 411h0M791 381h0M773 545h0M973 440h0M620 428h0M967 445h0M782 445h0M697 389h0M631 438h0M656 490h0M703 499h0M958 422h0M851 464h0M795 376h0M743 438h0M651 393h0M609 413h0M770 323h0M779 473h0M632 421h0M614 408h0M670 528h0M799 378h0M871 466h0M798 489h0M712 410h0M727 365h0M903 588h0M785 409h0M857 489h0M645 394h0M692 401h0M683 491h0M656 550h0M1129 424h0M704 426h0M929 462h0M611 496h0M603 377h0M948 461h0M973 389h0M872 454h0M830 540h0M645 516h0M829 483h0M660 418h0M813 466h0M885 434h0M629 416h0M831 451h0M874 415h0M704 408h0M696 485h0M799 521h0M850 459h0M1188 421h0M847 541h0M672 528h0M890 400h0M630 401h0M934 571h0M612 461h0M704 448h0M656 417h0M680 409h0M918 466h0M869 428h0M790 440h0M854 399h0M893 420h0M843 430h0M692 437h0M632 377h0M1068 434h0M630 430h0M1137 443h0M698 455h0M575 434h0M720 475h0M645 419h0M868 388h0M938 399h0M782 554h0M699 449h0M900 455h0M684 507h0M741 476h0M968 459h0M956 476h0M1227 433h0M871 320h0M685 446h0M1110 509h0M741 447h0M860 497h0M869 462h0M676 433h0M714 413h0M727 479h0M869 476h0M1043 431h0M767 398h0M784 392h0M584 454h0M841 396h0M965 418h0M806 530h0M808 472h0M925 367h0M808 461h0M642 412h0M989 465h0M656 535h0M885 433h0M619 459h0M809 420h0M645 416h0M876 391h0M648 488h0M908 497h0M707 408h0M921 480h0M890 387h0M590 401h0M1008 445h0M919 460h0M728 428h0M740 495h0M934 426h0M641 424h0M585 414h0M889 443h0M1047 487h0M663 395h0M616 424h0M911 352h0M602 430h0M610 383h0M684 452h0M908 418h0M823 385h0M935 374h0M807 380h0M666 391h0M825 382h0M766 423h0M619 440h0M954 415h0M934 481h0M837 447h0M801 424h0M727 437h0M762 415h0M627 438h0M957 415h0M903 410h0M680 452h0M855 383h0M592 435h0M753 422h0M873 348h0M941 464h0M733 509h0M946 442h0M721 479h0M734 520h0M587 461h0M640 507h0M787 418h0M792 478h0M930 464h0M889 470h0M645 374h0M1128 398h0M594 473h0M758 434h0M797 424h0M792 343h0M616 393h0M649 432h0M594 382h0M598 421h0M825 457h0M713 391h0M677 503h0M1092 452h0M920 403h0M664 468h0M591 469h0M577 411h0M652 440h0M742 480h0M896 322h0M804 411h0M886 399h0M605 427h0M724 399h0M791 476h0M1149 415h0M906 377h0M1022 451h0M841 437h0M797 361h0M862 446h0M849 448h0M633 425h0M750 423h0M632 404h0M790 465h0M1022 414h0M657 429h0M807 405h0M860 477h0M769 438h0M861 432h0M843 433h0M849 403h0M685 447h0M909 476h0M706 467h0M958 446h0M865 433h0M927 451h0M1098 446h0M718 462h0M933 406h0M874 392h0M881 437h0M993 401h0M825 381h0M814 440h0M927 429h0M882 458h0M591 441h0M1205 405h0M1009 441h0M631 378h0M987 475h0M752 465h0M690 369h0M1056 450h0M867 466h0M831 455h0M747 415h0M962 399h0M840 461h0M766 525h0M816 460h0M601 455h0M721 437h0M891 523h0M588 404h0M842 455h0M644 455h0M850 491h0M1062 443h0M742 407h0M948 427h0M982 443h0M632 471h0M636 365h0M595 399h0M950 427h0M787 498h0M681 392h0M1028 375h0M930 450h0M765 395h0M891 416h0M783 480h0M680 519h0M907 449h0M666 444h0M687 504h0M721 336h0M592 408h0M730 450h0M1027 357h0M696 340h0M762 287h0M905 426h0M935 385h0M590 424h0M721 393h0M958 413h0M895 400h0M979 426h0M581 404h0M613 456h0M945 431h0M910 364h0M710 392h0M572 368h0M705 357h0M820 439h0M651 506h0M680 413h0M785 380h0M592 365h0M836 480h0M942 450h0M902 449h0M908 473h0M722 417h0M1014 439h0M1188 460h0M707 426h0M748 487h0M778 532h0M833 491h0M722 537h0M950 460h0M1070 460h0M694 450h0M1102 468h0M1063 438h0M766 422h0M790 393h0M946 497h0M796 445h0M933 497h0M958 419h0M581 438h0M1014 496h0M670 379h0M609 463h0M830 398h0M612 413h0M720 342h0M860 316h0M747 502h0M698 493h0M658 399h0M898 488h0M746 402h0M792 433h0M614 443h0M647 505h0M614 441h0M943 480h0M886 446h0M921 448h0M1188 399h0M877 414h0M913 421h0M931 425h0M896 447h0M1006 420h0M950 386h0M739 426h0M1177 468h0M978 381h0M775 529h0M877 485h0M940 398h0M961 405h0M733 487h0M626 468h0M848 484h0M818 464h0M801 420h0M851 401h0M815 481h0M819 542h0M841 451h0M944 404h0M593 475h0M682 441h0M705 455h0M632 470h0M700 415h0M728 452h0M832 317h0M757 484h0M858 505h0M683 430h0M679 319h0M621 508h0M706 509h0M1116 493h0M699 344h0M870 446h0M762 336h0M892 406h0M683 518h0M743 504h0M828 359h0M621 417h0M761 453h0M614 442h0M871 369h0M895 492h0M958 455h0M908 417h0M889 507h0M687 441h0M677 396h0M649 445h0M710 446h0M603 490h0M844 513h0M844 447h0M888 417h0M728 455h0M725 421h0M926 444h0M993 492h0M617 467h0M884 396h0M930 390h0M788 421h0M881 378h0M891 478h0M1019 432h0M947 431h0M936 470h0M860 453h0M712 451h0M612 386h0M754 522h0M663 349h0M689 485h0M689 563h0M710 433h0M893 408h0M750 416h0M867 405h0M860 421h0M874 472h0M584 403h0M774 429h0M907 337h0M859 441h0M870 376h0M1124 427h0M601 423h0M769 396h0M736 362h0M650 504h0M657 364h0M635 473h0M695 444h0M580 409h0M860 479h0M1003 456h0M762 419h0M655 400h0M730 479h0M709 413h0M685 507h0M958 380h0M968 392h0M1021 383h0M672 536h0M915 421h0M850 512h0M1081 400h0M657 375h0M662 316h0M711 517h0M929 413h0M834 524h0M675 377h0M783 440h0M708 469h0M833 460h0M679 398h0M797 477h0M751 425h0M787 461h0M654 423h0M668 464h0M892 406h0M894 429h0M699 437h0M675 414h0M617 415h0M867 395h0M900 448h0M768 417h0M721 473h0M615 474h0M704 433h0M796 419h0M963 456h0M1049 416h0M794 367h0M776 369h0M761 405h0M586 449h0M718 501h0M763 563h0M651 433h0M730 507h0M702 368h0M1161 393h0M789 497h0M809 451h0M779 384h0M972 483h0M823 429h0M731 271h0M684 514h0M652 397h0M827 450h0M968 450h0M922 475h0M599 381h0M1045 439h0M844 363h0M686 425h0M727 502h0M837 281h0M863 433h0M648 415h0M659 465h0M859 377h0M664 459h0M723 525h0M733 423h0M914 436h0M782 489h0M787 454h0M699 410h0M815 406h0M853 448h0M752 399h0M782 412h0M746 400h0M658 473h0M1054 433h0M878 430h0M925 504h0M815 373h0M688 437h0M1028 389h0M1072 477h0M663 497h0M818 552h0M644 495h0M748 444h0M773 408h0M795 434h0M702 487h0M611 381h0M923 403h0M1061 410h0M855 346h0M774 430h0M667 508h0M885 375h0M784 442h0M822 516h0M767 391h0M861 496h0M864 492h0M623 427h0M662 524h0M787 388h0M874 439h0M813 449h0M1217 414h0M784 434h0M1128 410h0M661 521h0M859 443h0M639 459h0M652 476h0M985 402h0M947 475h0M589 386h0M644 450h0M605 443h0M996 599h0M823 482h0M700 559h0M818 540h0M1065 447h0M886 364h0M892 477h0M587 470h0M832 518h0M720 427h0M613 423h0M869 422h0M681 317h0M688 348h0M734 373h0M623 453h0M993 488h0M576 412h0M859 426h0M862 416h0M857 453h0M846 449h0M778 458h0M706 463h0M951 370h0M781 429h0M659 429h0M760 569h0M760 396h0M618 388h0M998 395h0M864 421h0M851 465h0M616 398h0M871 407h0M933 411h0M840 417h0M781 527h0M846 412h0M660 408h0M624 502h0M611 475h0M598 423h0M936 415h0M941 424h0M751 459h0M712 475h0M697 521h0M644 394h0M836 488h0M717 454h0M597 474h0M697 450h0M877 434h0M682 468h0M887 482h0M687 428h0M791 426h0M768 455h0M703 398h0M937 409h0M950 365h0M804 441h0M625 425h0M746 392h0M796 412h0M712 421h0M988 475h0M707 535h0M579 587h0M895 462h0M968 404h0M783 399h0M854 407h0M992 418h0M817 426h0M666 419h0M824 310h0M950 443h0M598 378h0M799 444h0M859 410h0M601 490h0M808 375h0M617 551h0M599 429h0M929 459h0M923 440h0M587 406h0M764 458h0M757 493h0M659 464h0M710 368h0M754 442h0M934 450h0M728 468h0M937 424h0M721 404h0M695 437h0M826 403h0M623 384h0M607 500h0M829 453h0M825 399h0M651 340h0M726 507h0M742 417h0M665 481h0M745 451h0M892 466h0M664 357h0M809 415h0M1023 430h0M921 335h0M704 492h0M772 409h0M618 425h0M924 408h0M754 398h0M1181 397h0M984 455h0M678 421h0M910 423h0M826 510h0M708 455h0M670 364h0M843 496h0M751 489h0M722 408h0M658 508h0M929 432h0M666 408h0M654 458h0M708 442h0M888 419h0M946 494h0M656 374h0M645 472h0M845 435h0M925 422h0M619 439h0M859 548h0M586 429h0M627 467h0M1068 422h0M595 414h0M741 396h0M699 299h0M815 497h0M792 435h0M831 551h0M808 378h0M662 434h0M745 456h0M628 401h0M617 446h0M602 405h0M1088 489h0M882 334h0M641 414h0M770 375h0M559 373h0M845 448h0M690 509h0M945 435h0M842 432h0M977 431h0M959 398h0M796 372h0M616 595h0M755 439h0M619 453h0M871 424h0M1094 415h0M1142 428h0M933 556h0M844 506h0M948 365h0M914 421h0M915 424h0M866 442h0M806 469h0M734 439h0M647 461h0M830 419h0M761 482h0M1105 417h0M1098 501h0M633 473h0M903 412h0M595 444h0M635 473h0M855 508h0M861 634h0M752 477h0M685 460h0M625 454h0M604 423h0M729 447h0M636 448h0M661 401h0M655 427h0M889 424h0M585 452h0M614 409h0M648 424h0M772 471h0M655 408h0M923 476h0M725 420h0M873 394h0M694 487h0M622 431h0M675 464h0M627 382h0M874 464h0M1148 446h0M601 452h0M704 464h0M684 396h0M616 431h0M669 397h0M939 454h0M956 437h0M763 460h0M783 479h0M1078 513h0M833 455h0M731 380h0M861 498h0M747 469h0M797 399h0M1073 449h0M685 475h0M811 486h0M982 505h0M849 590h0M1070 418h0M741 447h0M632 466h0M662 399h0M843 443h0M765 490h0M1011 471h0M695 477h0M785 444h0M745 416h0M605 444h0M855 399h0M885 430h0M860 482h0M826 400h0M887 503h0M782 374h0M796 398h0M628 472h0M847 471h0M696 489h0M601 436h0M713 512h0M839 424h0M963 434h0M883 391h0M910 460h0M690 345h0M656 448h0M1034 429h0M1110 500h0M716 554h0M712 413h0M850 417h0M937 469h0M799 473h0M937 433h0M754 422h0M949 453h0M793 391h0M742 445h0M822 509h0M937 439h0M783 427h0M737 429h0M649 427h0M856 419h0M736 333h0M663 374h0M661 360h0M713 412h0M876 451h0M905 446h0M636 456h0M898 447h0M849 441h0M696 503h0M695 505h0M1020 441h0M793 451h0M947 462h0M769 413h0M739 418h0M749 439h0M761 368h0M942 417h0M765 378h0M645 419h0M951 564h0M634 419h0M621 380h0M698 467h0M604 493h0M747 427h0M695 467h0M964 508h0M836 419h0M758 426h0M941 448h0M773 389h0M953 410h0M819 412h0M780 405h0M875 551h0M778 422h0M617 473h0M700 368h0M642 462h0M692 397h0M1033 453h0M683 466h0M647 453h0M788 403h0M710 426h0M1064 422h0M897 580h0M969 458h0M677 333h0M663 490h0M727 485h0M854 415h0M871 363h0M780 463h0M787 417h0M890 436h0M681 491h0M885 412h0M608 430h0M994 452h0M954 447h0M912 386h0M678 405h0M788 526h0M1016 515h0M846 489h0M1094 449h0M617 499h0M620 400h0M829 460h0M921 505h0M673 475h0M923 414h0M739 478h0M798 465h0M649 431h0M790 411h0M696 467h0M1152 421h0M908 451h0M1114 432h0M671 500h0M895 471h0M1100 404h0M656 392h0M712 412h0M819 475h0M921 459h0M588 421h0M743 440h0M638 462h0M741 454h0M973 431h0M650 396h0M1037 439h0M880 423h0M1031 420h0M654 515h0M661 426h0M773 423h0M673 477h0M864 395h0M628 438h0M990 413h0M670 362h0M946 429h0M916 434h0M887 384h0M1003 461h0M801 365h0M694 437h0M731 418h0M693 396h0M772 458h0M939 452h0M771 420h0M958 399h0M575 402h0M756 435h0M782 465h0M666 397h0M699 426h0M978 450h0M966 410h0M631 407h0M1044 468h0M806 510h0M805 388h0M605 407h0M615 499h0M606 425h0M692 321h0M744 488h0M755 459h0M1214 419h0M928 434h0M602 486h0M747 429h0M888 359h0M846 432h0M658 402h0M770 465h0M686 361h0M786 401h0M980 450h0M692 413h0M686 409h0M751 495h0M974 463h0M863 442h0M603 450h0M1064 390h0M849 396h0M795 516h0M795 547h0M642 373h0M819 398h0M1029 441h0M607 430h0M762 382h0M660 436h0M892 379h0M907 457h0M801 545h0M670 490h0M969 400h0M930 428h0M601 428h0M824 474h0M921 442h0M841 390h0M675 507h0M755 453h0M882 451h0M601 386h0M672 450h0M964 415h0M668 417h0M802 400h0M652 431h0M658 413h0M637 459h0M809 367h0M976 512h0M1019 423h0M708 484h0M992 448h0M704 390h0M851 465h0M673 411h0M664 524h0M611 450h0M716 426h0M689 436h0M1060 387h0M1004 430h0M716 444h0M741 448h0M914 445h0M656 476h0M679 465h0M638 356h0M1067 422h0M638 434h0M619 457h0M594 420h0M976 350h0M1014 440h0M1118 449h0M783 335h0M974 440h0M631 431h0M771 356h0M596 442h0M649 437h0M589 410h0M673 432h0M637 471h0M1052 416h0M898 498h0M643 431h0M746 373h0M684 421h0M615 396h0M680 413h0M736 384h0M908 443h0M874 371h0M746 363h0M579 537h0M864 407h0M911 420h0M879 384h0M785 367h0M871 422h0M895 332h0M862 422h0M927 464h0M900 471h0M822 356h0M703 514h0M947 432h0M847 427h0M653 495h0M837 452h0M776 477h0M812 376h0M701 427h0M638 384h0M618 467h0M602 428h0M1176 415h0M723 451h0M727 434h0M837 439h0M647 400h0M820 449h0M689 505h0M717 463h0M895 425h0M825 423h0M640 435h0M583 437h0M1067 354h0M688 418h0M925 447h0M583 455h0M847 427h0M832 477h0M738 380h0M963 429h0M780 453h0M961 451h0M683 442h0M636 340h0M1221 456h0M876 460h0M581 362h0M1115 443h0M621 448h0M717 373h0M855 384h0M921 456h0M905 464h0M871 404h0M973 442h0M643 358h0M666 477h0M599 433h0M700 395h0M652 402h0M888 447h0M719 503h0M1045 431h0M885 373h0M646 393h0M906 416h0M579 424h0M983 453h0M870 353h0M775 396h0M598 389h0M769 506h0M688 488h0M782 455h0M821 494h0M841 462h0M826 395h0M817 418h0M921 431h0M935 415h0M691 405h0M1048 428h0M842 528h0M752 381h0M820 490h0M900 394h0M688 401h0M730 474h0M627 489h0M662 524h0M910 421h0M706 491h0M889 419h0M1000 365h0M1280 427h0M1029 472h0M876 456h0M992 375h0M899 500h0M859 453h0M738 465h0M737 474h0M684 405h0M877 392h0M575 434h0M585 421h0M775 419h0M679 532h0M726 340h0M834 414h0M682 442h0M770 448h0M779 411h0M601 462h0M1077 433h0M914 450h0M612 458h0M720 468h0M879 416h0M836 317h0M593 418h0M608 416h0M789 440h0M830 459h0M919 423h0M959 453h0M891 446h0M587 472h0M659 436h0M729 536h0M1009 439h0M894 408h0M783 458h0M642 410h0M810 367h0M703 373h0M719 364h0M1048 423h0M704 414h0M760 423h0M722 475h0M653 351h0M578 450h0M679 404h0M656 414h0M658 395h0M644 345h0M850 457h0M734 483h0M725 384h0M577 412h0M1104 432h0M958 452h0M948 362h0M765 427h0M924 456h0M838 501h0M629 441h0M806 534h0M805 396h0M681 512h0M821 393h0M815 401h0M616 511h0M835 402h0M887 500h0M843 499h0M807 413h0M836 431h0M784 510h0M730 443h0M617 462h0M786 434h0M1222 407h0M867 400h0M623 408h0M834 452h0M648 439h0M825 441h0M1039 408h0M1000 398h0M762 484h0M595 463h0M704 378h0M722 397h0M759 360h0M705 425h0M942 384h0M828 531h0M1091 465h0M767 413h0M681 477h0M865 424h0M789 430h0M903 385h0M634 413h0M769 458h0M1077 409h0M611 431h0M649 434h0M669 372h0M817 399h0M876 339h0M795 401h0M698 414h0M996 439h0M609 410h0M697 354h0M689 524h0M678 462h0M630 468h0M1048 460h0M1036 456h0M821 525h0M962 558h0M688 429h0M948 442h0M879 428h0M902 459h0M859 419h0M568 371h0M875 466h0M731 349h0M825 401h0M668 472h0M962 404h0M998 453h0M870 474h0M981 423h0M830 498h0M738 543h0M971 438h0M949 423h0M644 381h0M803 457h0M619 511h0M936 550h0M644 442h0M976 463h0M607 446h0M771 432h0M743 441h0M785 381h0M613 396h0M766 437h0M617 396h0M724 443h0M864 472h0M629 373h0M838 516h0M937 429h0M597 400h0M642 492h0M611 430h0M785 437h0M1212 466h0M800 359h0M661 401h0M899 449h0M787 394h0M776 300h0M896 439h0M728 450h0M635 391h0M625 414h0M780 484h0M1198 422h0M835 421h0M897 430h0M860 429h0M858 404h0M588 435h0M741 405h0M867 383h0M812 493h0M642 456h0M802 434h0M582 422h0M815 480h0M824 452h0M797 418h0M963 430h0M681 316h0M690 359h0M919 476h0M804 486h0M706 427h0M716 436h0M693 497h0M780 483h0M701 362h0M725 521h0M834 427h0M803 486h0M779 442h0M800 423h0M734 434h0M858 507h0M980 463h0M603 428h0M727 408h0M882 463h0M641 492h0M652 446h0M698 443h0M582 461h0M853 458h0M900 470h0M633 395h0M614 445h0M838 425h0M979 383h0M1059 428h0M804 502h0M797 367h0M1252 400h0M594 470h0M730 371h0M857 406h0M946 459h0M860 513h0M773 415h0M767 449h0M974 367h0M881 404h0M653 335h0M989 433h0M913 464h0M828 442h0M908 414h0M872 435h0M711 415h0M861 475h0M727 455h0M579 433h0M729 413h0M794 360h0M889 466h0M788 428h0M617 411h0M726 530h0M898 474h0M713 402h0M853 419h0M700 404h0M646 437h0M970 505h0M610 475h0M892 430h0M837 405h0M590 403h0M672 504h0M854 386h0M893 432h0M721 472h0M951 469h0M614 399h0M895 414h0M862 459h0M710 313h0M1147 374h0M715 423h0M674 482h0M835 453h0M795 426h0M639 426h0M714 443h0M913 441h0M709 416h0M890 478h0M811 408h0M890 444h0M664 417h0M949 434h0M616 461h0M811 388h0M1049 447h0M624 428h0M614 441h0M652 430h0M579 422h0M852 447h0M786 394h0M678 385h0M864 421h0M780 468h0M688 430h0M655 472h0M695 446h0M934 419h0M1263 435h0M721 374h0M822 499h0M883 389h0M851 432h0M754 402h0M980 442h0M634 457h0M605 440h0M585 482h0M747 386h0M747 401h0M647 380h0M908 405h0M884 453h0M853 373h0M857 476h0M895 482h0M763 396h0M627 341h0M703 476h0M793 393h0M1065 415h0M936 495h0M790 481h0M597 398h0M628 382h0M663 446h0M622 486h0M728 500h0M854 404h0M576 443h0M659 476h0M974 469h0M772 391h0M786 501h0M809 407h0M844 352h0M663 513h0M850 431h0M607 483h0M902 417h0M897 406h0M702 478h0M887 447h0M625 490h0M941 431h0M769 554h0M764 467h0M646 461h0M902 439h0M770 442h0M684 386h0M655 491h0M810 532h0M588 463h0M723 455h0M949 427h0M729 406h0M597 432h0M781 440h0M664 450h0M817 378h0M910 469h0M806 453h0M926 482h0M818 475h0M905 421h0M733 457h0M855 511h0M703 365h0M872 441h0M946 441h0M690 506h0M770 484h0M748 412h0M626 423h0M710 375h0M716 471h0M934 483h0M859 410h0M624 348h0M630 438h0M683 487h0M818 411h0M665 506h0M630 480h0M841 453h0M717 459h0M767 394h0M908 396h0M1005 446h0M857 432h0M863 393h0M822 432h0M793 426h0M616 485h0M794 486h0M655 414h0M650 459h0M696 467h0M777 452h0M964 436h0M626 400h0M727 433h0M648 446h0M905 602h0M667 443h0M761 446h0M731 438h0M816 484h0M609 409h0M837 427h0M862 410h0M681 470h0M1081 353h0M855 468h0M639 426h0M704 438h0M617 468h0M730 400h0M860 439h0M1080 394h0M989 458h0M644 401h0M767 418h0M819 417h0M778 451h0M797 455h0M599 422h0M775 420h0M810 457h0M791 357h0M1090 471h0M806 424h0M790 406h0M825 369h0M596 465h0M811 442h0M813 427h0M899 445h0M737 406h0M881 381h0M739 484h0M619 424h0M716 375h0M1050 375h0M787 436h0M837 401h0M580 431h0M938 405h0M804 392h0M704 362h0M934 481h0M859 503h0M719 462h0M817 347h0M652 409h0M864 453h0M615 462h0M869 358h0M913 481h0M752 389h0M623 438h0M804 381h0M845 438h0M765 462h0M891 472h0M1150 399h0M780 531h0M900 433h0M1104 431h0M1018 424h0M607 465h0M849 325h0M807 517h0M660 448h0M864 457h0M689 440h0M893 405h0M848 401h0M687 358h0M692 474h0M731 461h0M644 406h0M1112 435h0M874 462h0M914 457h0M1001 449h0M750 473h0M729 472h0M839 427h0M628 395h0M948 471h0M750 451h0M873 466h0M1142 464h0M705 345h0M831 405h0M1245 406h0M875 441h0M603 437h0M834 423h0M789 397h0M810 413h0M584 368h0M743 364h0M793 444h0M681 418h0M763 451h0M774 488h0M742 396h0M646 453h0M999 462h0M979 527h0M747 414h0M714 367h0M867 447h0M859 440h0M923 418h0M631 420h0M712 450h0M924 474h0M756 519h0M709 439h0M845 383h0M861 448h0M654 472h0M640 475h0M615 397h0M607 462h0M632 433h0M777 390h0M630 425h0M602 456h0M1004 468h0M690 397h0M701 518h0M587 432h0M764 433h0M820 584h0M878 451h0M940 445h0M906 438h0M622 387h0M741 429h0M846 443h0M1071 481h0M1014 451h0M994 437h0M900 419h0M797 451h0M613 426h0M933 475h0M593 459h0M835 490h0M884 412h0M789 412h0M795 524h0M893 449h0M665 451h0M950 379h0M872 425h0M841 453h0M1023 404h0M873 481h0M918 443h0M712 482h0M656 495h0M586 437h0M935 466h0M950 337h0M775 422h0M985 444h0M702 423h0M1047 464h0M754 360h0M770 269h0M604 478h0M609 417h0M923 439h0M657 420h0M591 478h0M630 414h0M1010 390h0M864 355h0M685 394h0M741 419h0M726 420h0M906 487h0M1017 389h0M640 471h0M616 436h0M685 463h0M961 438h0M680 508h0M719 426h0M850 349h0M965 444h0M650 410h0M853 398h0M990 428h0M824 419h0M718 414h0M928 412h0M897 273h0M648 464h0M747 544h0M609 399h0M795 380h0M783 385h0M817 487h0M1013 405h0M712 468h0M904 439h0M630 392h0M607 444h0M995 426h0M830 472h0M1146 405h0M740 392h0M645 452h0M649 511h0M710 471h0M828 406h0M767 392h0M671 341h0M913 463h0M891 425h0M767 429h0M643 402h0M655 354h0M792 371h0M737 466h0M606 425h0M823 434h0M863 473h0M799 421h0M869 423h0M671 380h0M816 502h0M945 346h0M611 381h0M916 408h0M586 417h0M786 506h0M798 419h0M731 458h0M889 470h0M719 432h0M690 425h0M675 429h0M588 398h0M802 336h0M863 389h0M803 412h0M743 432h0M875 429h0M714 424h0M1103 372h0M735 430h0M629 608h0M965 427h0M876 476h0M807 490h0M625 432h0M933 422h0M705 412h0M678 361h0M884 380h0M984 539h0M967 401h0M695 460h0M1097 471h0M936 376h0M663 452h0M1049 417h0M664 441h0M911 458h0M770 529h0M687 408h0M739 443h0M984 465h0M644 406h0M673 426h0M851 513h0M837 500h0M960 398h0M826 360h0M907 375h0M780 425h0M627 503h0M911 373h0M661 442h0M885 524h0M743 366h0M613 397h0M812 419h0M723 487h0M700 491h0M747 479h0M881 432h0M841 419h0M876 412h0M763 498h0M772 430h0M856 436h0M937 444h0M753 566h0M1045 405h0M624 415h0M854 409h0M864 489h0M711 544h0M793 387h0M724 432h0M902 412h0M829 431h0M813 449h0M633 444h0M849 412h0M647 327h0M845 386h0M789 437h0M597 421h0M1002 446h0M898 378h0M774 529h0M740 393h0M728 450h0M606 482h0M669 447h0M681 482h0M1091 360h0M726 529h0M701 452h0M860 531h0M797 435h0M839 426h0M874 426h0M676 493h0M706 413h0M839 531h0M833 489h0M848 440h0M816 442h0M601 461h0M780 468h0M596 408h0M642 390h0M955 451h0M729 385h0M707 586h0M1100 444h0M844 417h0M674 475h0M715 483h0M841 421h0M624 383h0M1077 467h0M928 381h0M680 500h0M609 415h0M1245 458h0M858 330h0M917 448h0M635 426h0M945 459h0M647 429h0M854 419h0M946 464h0M1021 458h0M736 544h0M688 535h0M895 472h0M812 454h0M767 451h0M992 441h0M883 377h0M777 490h0M730 489h0M810 364h0M665 441h0M738 434h0M811 461h0M994 427h0M799 387h0M686 447h0M1046 451h0M613 361h0M748 372h0M772 467h0M883 452h0M646 466h0M765 407h0M901 484h0M673 471h0M901 521h0M1032 457h0M951 439h0M815 420h0M930 456h0M718 431h0M1010 423h0M1027 474h0M590 463h0M687 520h0M701 379h0M829 447h0M1019 415h0M1135 418h0M879 440h0M641 453h0M861 457h0M857 551h0M654 450h0M776 369h0M866 435h0M910 432h0M999 476h0M747 436h0M1182 440h0M1112 396h0M762 425h0M756 390h0M618 436h0M742 361h0M712 456h0M598 437h0M771 395h0M970 453h0M825 449h0M794 345h0M616 389h0M1001 508h0M610 433h0M997 437h0M902 309h0M857 479h0M687 526h0M1007 408h0M788 365h0M854 533h0M687 450h0M780 439h0M659 423h0M659 420h0M794 478h0M752 491h0M688 438h0M572 438h0M709 428h0M858 399h0M609 449h0M747 464h0M816 413h0M757 541h0M578 445h0M894 434h0M802 449h0M965 376h0M955 421h0M1043 473h0M584 421h0M825 588h0M1058 470h0M694 427h0M990 492h0M689 409h0M762 473h0M855 443h0M920 455h0M882 464h0M585 410h0M835 454h0M899 496h0M684 382h0M679 423h0M1095 472h0M995 463h0M852 452h0M892 467h0M1026 376h0M563 434h0M984 431h0M894 362h0M718 448h0M591 443h0M815 421h0M787 465h0M877 425h0M892 367h0M1034 480h0M669 467h0M623 406h0M626 416h0M860 462h0M993 440h0M828 300h0M781 413h0M839 442h0M698 539h0M743 630h0M909 446h0M660 383h0M668 463h0M580 467h0M772 471h0M686 491h0M906 434h0M1159 406h0M871 397h0M577 436h0M931 479h0M933 433h0M704 447h0M833 433h0M799 460h0M655 413h0M685 400h0M692 387h0M1033 484h0M760 458h0M963 447h0M1204 442h0M630 442h0M798 419h0M894 457h0M822 433h0M657 478h0M880 461h0M869 430h0M740 416h0M604 397h0M600 473h0M633 439h0M662 447h0M916 422h0M904 460h0M663 409h0M915 455h0M820 527h0M858 416h0M798 373h0M842 512h0M742 349h0M752 453h0M978 431h0M934 380h0M764 426h0M1001 453h0M803 389h0M918 452h0M662 398h0M704 459h0M787 502h0M900 417h0M605 471h0M740 313h0M617 458h0M819 471h0M789 366h0M701 393h0M717 399h0M859 416h0M750 431h0M649 466h0M696 415h0M698 395h0M882 447h0M665 399h0M1078 449h0M813 447h0M951 327h0M754 402h0M835 401h0M983 471h0M925 472h0M699 471h0M608 365h0M673 447h0M949 408h0M1168 382h0M949 436h0M1086 417h0M775 499h0M828 434h0M1049 362h0M772 400h0M1101 406h0M734 476h0M745 468h0M596 409h0M704 492h0M615 439h0M982 388h0M660 497h0M795 435h0M739 397h0M850 522h0M823 324h0M705 411h0M583 408h0M622 420h0M587 429h0M624 472h0M661 433h0M673 436h0M905 372h0M872 338h0M701 429h0M806 397h0M867 469h0M945 438h0M645 371h0M834 474h0M712 422h0M864 445h0M630 370h0M920 454h0M864 465h0M1021 456h0M761 416h0M738 454h0M679 463h0M763 446h0M647 419h0M882 398h0M1007 487h0M891 483h0M752 491h0M796 427h0M831 443h0M715 385h0M772 413h0M923 432h0M724 406h0M597 393h0M822 398h0M644 349h0M768 382h0M802 488h0M588 472h0M921 416h0M686 391h0M1070 392h0M661 321h0M793 405h0M808 528h0M804 412h0M865 326h0M808 267h0M696 355h0M698 375h0M598 427h0M916 450h0M682 523h0M899 465h0M742 459h0M772 470h0M778 577h0M670 402h0M764 431h0M692 369h0M1117 389h0M637 396h0M789 417h0M835 404h0M833 461h0M901 318h0M642 430h0M748 374h0M672 433h0M572 497h0M943 372h0M985 394h0M1037 497h0M750 473h0M674 497h0M882 332h0M698 357h0M940 456h0M998 372h0M605 446h0M717 462h0M896 416h0M823 504h0M715 470h0M925 516h0M582 460h0M1095 403h0M830 417h0M619 405h0M827 372h0M606 391h0M904 445h0M836 397h0M892 393h0M839 392h0M1166 490h0M743 388h0M952 453h0M714 347h0M725 371h0M743 495h0M691 387h0M732 350h0M803 408h0M779 435h0M1069 404h0M800 285h0M921 423h0M683 457h0M680 452h0M642 425h0M905 489h0M774 411h0M858 315h0M587 409h0M693 428h0M1047 491h0M917 459h0M704 466h0M929 443h0M890 437h0M984 455h0M768 369h0M821 384h0M659 400h0M878 447h0M877 462h0M603 478h0M577 448h0M789 446h0M759 445h0M846 475h0M586 392h0M670 414h0M646 458h0M767 422h0M855 476h0M954 447h0M614 398h0M992 360h0M871 474h0M587 426h0M880 393h0M882 415h0M827 458h0M755 492h0M814 390h0M776 378h0M1048 408h0M772 435h0M712 434h0M788 429h0M646 437h0M801 372h0M842 427h0M711 567h0M837 431h0M845 586h0M778 486h0M680 390h0M658 345h0M626 411h0M622 460h0M677 461h0M960 490h0M830 350h0M797 451h0M775 453h0M596 461h0M705 464h0M770 478h0M765 406h0M910 487h0M1171 427h0M750 407h0M685 533h0M898 419h0M744 467h0M660 413h0M606 579h0M595 456h0M898 380h0M905 459h0M932 412h0M792 555h0M901 450h0M728 492h0M847 404h0M726 413h0M1012 400h0M629 459h0M625 449h0M939 457h0M899 403h0M729 379h0M829 457h0M668 388h0M623 391h0M739 455h0M865 437h0M912 370h0M635 469h0M1110 404h0M634 440h0M922 482h0M813 449h0M850 482h0M783 443h0M634 406h0M977 468h0M608 429h0M772 420h0M692 360h0M731 448h0M941 527h0M1009 447h0M985 428h0M684 507h0M865 461h0M1053 411h0M746 439h0M830 529h0M738 390h0M777 597h0M713 401h0M1001 483h0M735 431h0M843 457h0M814 388h0M624 396h0M689 518h0M734 433h0M659 453h0M889 408h0M770 348h0M840 398h0M979 432h0M953 463h0M605 472h0M1219 473h0M758 458h0M732 411h0M905 461h0M897 490h0M793 430h0M865 454h0M580 403h0M924 403h0M728 430h0M702 460h0M596 467h0M685 381h0M662 470h0M922 383h0M890 365h0M975 438h0M822 426h0M1169 407h0M899 473h0M637 374h0M662 419h0M916 367h0M589 453h0M834 422h0M744 404h0M908 406h0M931 405h0M630 422h0M1061 397h0M831 434h0M656 447h0M677 462h0M600 421h0M778 487h0M1232 424h0M1048 462h0M901 416h0M983 435h0M682 397h0M850 475h0M744 435h0M1003 443h0M798 410h0M605 429h0M637 452h0M825 457h0M646 390h0M607 462h0M771 484h0M954 414h0M736 365h0M668 408h0M787 424h0M838 389h0M838 436h0M760 535h0M857 458h0M808 414h0M906 438h0M866 509h0M1101 409h0M962 447h0M656 516h0M857 348h0M684 464h0M685 441h0M842 462h0M1000 412h0M975 362h0M686 415h0M856 462h0M883 370h0M902 467h0M793 425h0M925 428h0M683 431h0M921 424h0M995 470h0M712 393h0M593 457h0M862 448h0M603 449h0M777 455h0M965 460h0M884 434h0M1192 435h0M611 441h0M794 399h0M871 453h0M620 433h0M647 418h0M875 440h0M700 418h0M632 444h0M873 413h0M606 410h0M630 384h0M575 427h0M995 430h0M692 410h0M629 424h0M905 463h0M885 390h0M580 458h0M589 412h0M960 436h0M982 417h0M952 415h0M738 404h0M614 449h0M762 401h0M822 430h0M884 471h0M662 441h0M960 445h0M1130 406h0M870 420h0M798 474h0M752 334h0M918 483h0M959 461h0M630 480h0M607 452h0M724 398h0M727 504h0M819 413h0M732 418h0M829 390h0M686 516h0M1003 388h0M808 499h0M822 405h0M923 298h0M853 422h0M716 419h0M657 432h0M592 434h0M701 392h0M599 414h0M802 563h0M613 478h0M963 477h0M984 362h0M679 493h0M877 499h0M701 448h0M853 441h0M812 435h0M852 413h0M833 421h0M871 458h0M961 423h0M898 411h0M661 358h0M826 446h0M738 453h0M594 387h0M678 393h0M603 454h0M861 406h0M641 429h0M824 396h0M654 421h0M750 383h0M966 395h0M1047 375h0M905 414h0M926 477h0M749 428h0M776 471h0M906 365h0M871 393h0M766 435h0M724 479h0M730 394h0M1094 476h0M877 434h0M624 467h0M660 409h0M603 460h0M960 481h0M1126 431h0M800 339h0M675 424h0M683 390h0M755 349h0M727 474h0M937 477h0M678 428h0M611 424h0M639 372h0M586 457h0M672 453h0M752 419h0M872 435h0M745 420h0M607 362h0M916 507h0M950 424h0M841 593h0M852 495h0M739 412h0M927 440h0M743 380h0M713 455h0M626 426h0M689 349h0M800 469h0M864 404h0M891 408h0M608 452h0M672 382h0M939 403h0M975 441h0M938 460h0M719 601h0M734 413h0M706 453h0M717 442h0M731 459h0M596 398h0M724 386h0M774 420h0M910 483h0M867 471h0M702 455h0M803 475h0M832 404h0M1054 448h0M748 472h0M828 455h0M857 446h0M826 417h0M657 438h0M833 469h0M875 425h0M757 396h0M671 377h0M979 435h0M774 395h0M677 482h0M876 467h0M757 518h0M1262 379h0M617 394h0M753 515h0M869 364h0M1220 500h0M803 471h0M789 489h0M859 416h0M590 444h0M708 438h0M706 488h0M619 415h0M925 472h0M944 348h0M735 361h0M722 422h0M772 405h0M907 449h0M708 452h0M805 418h0M901 470h0M866 473h0M601 403h0M782 400h0M962 411h0M942 383h0M592 445h0M804 469h0M913 454h0M731 451h0M836 458h0M836 477h0M588 409h0M887 552h0M802 413h0M747 460h0M659 479h0M810 434h0M963 459h0M834 335h0M767 405h0M649 438h0M673 433h0M583 438h0M846 486h0M889 363h0M913 437h0M704 467h0M793 438h0M817 425h0M678 427h0M853 508h0M794 416h0M946 447h0M976 460h0M590 426h0M825 509h0M936 410h0M607 456h0M680 367h0M790 486h0M608 404h0M798 435h0M644 386h0M716 481h0M785 464h0M777 359h0M763 446h0M667 419h0M912 491h0M767 402h0M703 428h0M725 552h0M1181 441h0M894 394h0M934 426h0M915 359h0M652 446h0M822 369h0M620 447h0M672 428h0M795 445h0M659 407h0M609 407h0M842 306h0M811 427h0M827 371h0M757 451h0M832 457h0M676 457h0M640 418h0M585 420h0M796 443h0M806 448h0M757 421h0M1078 396h0M628 422h0M808 388h0M694 377h0M846 497h0M624 382h0M757 416h0M1010 432h0M762 413h0M847 407h0M952 401h0M710 444h0M954 423h0M887 375h0M858 448h0M657 419h0M791 441h0M894 513h0M607 437h0M684 392h0M859 419h0M862 459h0M696 558h0M653 445h0M840 411h0M613 442h0M950 451h0M895 475h0M908 369h0M913 419h0M849 467h0M704 360h0M593 424h0M839 429h0M970 483h0M594 439h0M1278 441h0M828 406h0M622 440h0M761 515h0M847 478h0M809 420h0M643 430h0M696 363h0M976 414h0M651 458h0M789 483h0M631 432h0M729 425h0M593 461h0M1152 438h0M611 490h0M911 432h0M595 460h0M833 286h0M849 443h0M586 467h0M922 540h0M837 480h0M669 480h0M1025 482h0M766 471h0M778 440h0M612 429h0M800 351h0M805 489h0M870 361h0M792 413h0M880 413h0M735 508h0M698 436h0M761 420h0M711 452h0M875 502h0M930 432h0M784 298h0M761 425h0M913 417h0M622 421h0M767 443h0M887 431h0M736 335h0M845 442h0M748 371h0M1017 419h0M815 470h0M631 414h0M915 376h0M636 410h0M759 363h0M860 446h0M724 448h0M942 474h0M659 410h0M789 418h0M976 440h0M960 429h0M614 442h0M847 502h0M801 352h0M828 452h0M827 434h0M899 431h0M781 551h0M604 484h0M681 526h0M1014 438h0M597 477h0M586 530h0M725 447h0M821 519h0M875 463h0M895 470h0M877 575h0M1058 418h0M936 478h0M727 397h0M631 420h0M707 523h0M597 456h0M835 402h0M869 420h0M858 405h0M823 393h0M719 447h0M896 459h0M912 473h0M742 386h0M757 423h0M807 452h0M1050 446h0M866 545h0M622 424h0M738 413h0M663 409h0M612 442h0M957 451h0M867 472h0M874 334h0M604 414h0M818 441h0M758 508h0M729 485h0M813 516h0M609 453h0M793 395h0M893 440h0M775 391h0M749 442h0M1090 428h0M803 406h0M890 425h0M615 438h0M757 462h0M737 478h0M647 452h0M715 457h0M848 429h0M882 494h0M688 384h0M620 423h0M729 432h0M959 497h0M786 464h0M964 460h0M637 397h0M922 460h0M634 432h0M894 395h0M594 432h0M851 448h0M783 390h0M604 421h0M839 435h0M632 461h0M901 475h0M775 436h0M860 494h0M965 457h0M728 413h0M675 453h0M949 434h0M730 415h0M881 468h0M614 373h0M778 479h0M753 462h0M698 401h0M880 430h0M614 520h0M799 373h0M943 417h0M874 432h0M859 564h0M637 454h0M582 520h0M969 466h0M608 439h0M689 491h0M1250 437h0M641 499h0M681 549h0M697 468h0M721 480h0M948 437h0M817 432h0M643 393h0M737 440h0M931 433h0M730 434h0M770 527h0M816 398h0M910 467h0M797 415h0M844 400h0M754 372h0M734 475h0M819 418h0M725 455h0M624 428h0M794 456h0M716 342h0M906 428h0M796 334h0M822 489h0M636 484h0M816 399h0M899 400h0M743 410h0M714 431h0M682 375h0M777 303h0M708 370h0M578 441h0M721 423h0M949 442h0M856 397h0M731 410h0M628 458h0M934 428h0M875 394h0M887 463h0M953 427h0M728 493h0M1265 467h0M778 448h0M756 407h0M832 412h0M655 429h0M870 489h0M868 453h0M822 505h0M874 407h0M799 463h0M645 435h0M1018 491h0M815 439h0M787 366h0M1150 421h0M812 433h0M592 440h0M920 451h0M601 454h0M675 428h0M656 490h0M863 382h0M991 459h0M836 382h0M840 405h0M786 411h0M675 393h0M793 554h0M611 387h0M743 446h0M747 539h0M887 538h0M842 383h0M585 431h0M686 450h0M803 367h0M772 304h0M617 436h0M845 437h0M755 417h0M703 430h0M806 406h0M763 561h0M886 364h0M804 434h0M649 508h0M816 397h0M672 447h0M875 494h0M618 392h0M930 435h0M912 359h0M917 380h0M929 385h0M929 416h0M678 390h0M876 388h0M987 488h0M803 443h0M1177 476h0M598 455h0M769 442h0M861 476h0M836 417h0M671 418h0M665 464h0M841 455h0M787 424h0M628 419h0M724 405h0M834 401h0M703 378h0M631 433h0M746 433h0M754 601h0M692 499h0M769 565h0M697 403h0M953 433h0M746 420h0M600 434h0M748 432h0M755 418h0M742 428h0M755 511h0M795 406h0M769 434h0M1028 503h0M614 454h0M999 448h0M737 378h0M833 455h0M601 417h0M713 496h0M582 427h0M613 353h0M606 434h0M931 446h0M1234 467h0M664 469h0M826 430h0M885 534h0M849 426h0M761 409h0M766 446h0M819 378h0M921 472h0M696 452h0M974 460h0M821 323h0M1179 482h0M993 460h0M988 451h0M836 451h0M645 452h0M951 440h0M733 483h0M998 442h0M912 443h0M979 440h0M613 460h0M869 428h0M766 483h0M675 405h0M813 433h0M924 354h0M660 508h0M732 387h0M739 428h0M823 496h0M1195 443h0M686 444h0M617 503h0M625 458h0M1001 416h0M904 457h0M959 380h0M710 403h0M611 422h0M785 406h0M784 430h0M781 430h0M655 482h0M989 447h0M738 446h0M851 494h0M822 533h0M961 386h0M923 469h0M618 422h0M659 440h0M842 416h0M783 440h0M963 455h0M654 366h0M728 456h0M875 429h0M641 438h0M800 399h0M607 410h0M768 450h0M808 437h0M751 470h0M652 478h0M965 437h0M1008 466h0M626 454h0M684 523h0M749 409h0M862 512h0M752 549h0M846 444h0M640 370h0M982 477h0M724 517h0M947 467h0M902 619h0M738 395h0M907 463h0M864 449h0M754 421h0M601 469h0M670 411h0M620 364h0M809 419h0M764 443h0M879 462h0M968 444h0M681 414h0M623 463h0M879 442h0M641 440h0M634 419h0M943 465h0M740 457h0M775 473h0M821 403h0M939 379h0M729 426h0M995 432h0M778 412h0M797 461h0M773 394h0M733 427h0M824 469h0M663 476h0M604 493h0M913 397h0M851 495h0M693 536h0M625 409h0M690 372h0M689 480h0M753 519h0M767 499h0M628 462h0M748 397h0M788 423h0M743 447h0M715 437h0M880 381h0M780 312h0M923 405h0M1218 431h0M773 383h0M833 498h0M921 475h0M878 474h0M621 414h0M716 377h0M780 501h0M680 429h0M758 484h0M1029 404h0M874 478h0M731 293h0M743 494h0M935 531h0M665 537h0M860 408h0M861 427h0M659 474h0M716 486h0M776 467h0M704 433h0M981 502h0M815 425h0M614 373h0M735 393h0M620 404h0M756 471h0M876 429h0M744 455h0M844 506h0M685 427h0M632 398h0M696 474h0M906 421h0M759 436h0M857 564h0M795 480h0M642 453h0M776 470h0M987 424h0M735 550h0M628 469h0M793 490h0M923 532h0M862 451h0M881 476h0M800 599h0M740 591h0M852 501h0M970 543h0M636 458h0M1093 455h0M874 383h0M963 407h0M770 422h0M627 444h0M661 485h0M814 458h0M641 351h0M975 415h0M675 538h0M848 547h0M821 402h0M683 410h0M650 504h0M580 464h0M731 449h0M966 503h0M795 357h0M722 409h0M846 441h0M849 409h0M877 406h0M823 406h0M948 405h0M704 388h0M655 466h0M755 437h0M1291 414h0M846 396h0M833 434h0M620 481h0M739 385h0M830 423h0M699 479h0M672 501h0M934 278h0M756 355h0M711 449h0M800 412h0M731 437h0M996 424h0M672 492h0M872 389h0M715 456h0M672 531h0M793 493h0M881 497h0M715 544h0M865 483h0M1113 421h0M839 413h0M891 493h0M930 420h0M764 423h0M673 453h0M1065 458h0M645 394h0M946 400h0M715 463h0M643 390h0M891 434h0M1009 503h0M639 391h0M642 392h0M699 405h0M658 401h0M838 411h0M586 444h0M728 493h0M773 399h0M892 488h0M800 376h0M770 461h0M976 421h0M936 416h0M827 451h0M819 363h0M965 497h0M811 479h0M661 398h0M724 454h0M973 450h0M908 483h0M863 313h0M878 465h0M948 426h0M848 577h0M829 559h0M885 452h0M724 463h0M661 424h0M817 424h0M968 466h0M1009 458h0M716 515h0M939 465h0M619 475h0M893 463h0M1003 419h0M880 416h0M940 450h0M585 419h0M911 439h0M747 481h0M827 340h0M735 498h0M587 420h0M619 462h0M695 521h0M582 416h0M608 428h0M624 398h0M680 428h0M989 436h0M1152 380h0M771 387h0M654 418h0M817 460h0M990 466h0M577 455h0M841 341h0M798 411h0M840 480h0M691 406h0M769 465h0M795 407h0M665 370h0M974 444h0M623 440h0M713 383h0M983 391h0M751 446h0M739 375h0M839 457h0M814 421h0M992 398h0M839 452h0M875 468h0M646 427h0M830 371h0M749 456h0M943 439h0M815 418h0M694 431h0M670 385h0M859 446h0M660 483h0M821 425h0M973 435h0M980 450h0M627 461h0M832 476h0M842 402h0M740 531h0M811 407h0M799 420h0M971 464h0M642 469h0M873 435h0M825 357h0M704 459h0M660 484h0M760 383h0M887 514h0M853 430h0M724 429h0M1292 406h0M1065 417h0M999 491h0M654 438h0M802 512h0M743 448h0M654 396h0M891 461h0M1001 411h0M649 446h0M796 401h0M878 442h0M1094 389h0M902 455h0M892 452h0M619 434h0M866 434h0M1073 430h0M667 433h0M696 457h0M660 560h0M609 460h0M771 425h0M889 495h0M882 479h0M739 430h0M810 393h0M686 329h0M687 383h0M715 465h0M857 456h0M933 432h0M714 456h0M916 467h0M908 429h0M938 456h0M844 449h0M727 382h0M967 441h0M752 480h0M831 436h0M588 402h0M669 476h0M723 488h0M928 414h0M1146 470h0M604 478h0M642 440h0M910 438h0M851 420h0M659 446h0M689 460h0M602 426h0M1187 403h0M873 425h0M595 463h0M1070 465h0M693 634h0M718 405h0M831 484h0M933 409h0M670 388h0M846 491h0M578 413h0M908 446h0M893 468h0M567 381h0M843 478h0M767 407h0M1176 431h0M951 472h0M698 412h0M762 533h0M695 524h0M903 358h0M824 441h0M828 497h0M618 405h0M738 365h0M696 363h0M838 436h0M625 506h0M757 387h0M628 420h0M723 380h0M931 492h0M1249 426h0M815 459h0M1219 402h0M740 460h0M660 452h0M610 420h0M796 397h0M592 427h0M624 464h0M1030 503h0M876 441h0M703 436h0M814 564h0M810 499h0M621 394h0M936 425h0M1020 365h0M717 444h0M937 417h0M1145 504h0M814 458h0M954 419h0M763 277h0M885 410h0M779 446h0M678 422h0M770 404h0M660 476h0M917 410h0M1005 415h0M661 454h0M673 485h0M759 411h0M920 371h0M682 393h0M811 374h0M619 426h0M608 446h0M698 413h0M619 487h0M875 422h0M1002 388h0M710 406h0M946 422h0M811 439h0M626 475h0M814 490h0M939 514h0M671 386h0M760 447h0M684 365h0M840 466h0M692 528h0M751 403h0M773 471h0M852 405h0M1040 414h0M991 447h0M721 434h0M771 413h0M581 439h0M719 379h0M740 404h0M874 402h0M884 485h0M963 434h0M918 414h0M622 439h0M769 483h0M827 456h0M651 481h0M880 368h0M918 438h0M893 451h0M701 346h0M666 451h0M620 463h0M601 435h0M599 431h0M988 493h0M851 503h0M856 398h0M942 393h0M622 448h0M984 406h0M963 433h0M643 383h0M630 453h0M865 401h0M784 403h0M655 485h0M854 417h0M616 401h0M1017 416h0M659 381h0M646 483h0M817 510h0M824 421h0M822 490h0M826 504h0M748 418h0M783 392h0M930 415h0M676 366h0M711 360h0M747 460h0M637 484h0M717 388h0M821 462h0M823 492h0M1199 452h0M741 435h0M805 426h0M866 369h0M912 394h0M1016 464h0M663 428h0M583 463h0M1133 452h0M737 427h0M635 379h0M852 465h0M895 426h0M711 462h0M915 495h0M694 507h0M674 380h0M915 466h0M876 434h0M824 326h0M661 441h0M710 375h0M874 395h0M859 353h0M864 475h0M820 473h0M637 414h0M689 433h0M600 456h0M963 439h0M865 482h0M726 437h0M609 540h0M1120 406h0M600 375h0M781 462h0M958 501h0M730 421h0M638 375h0M642 416h0M594 445h0M745 452h0M827 435h0M693 527h0M756 401h0M810 406h0M817 489h0M747 396h0M882 406h0M679 437h0M952 426h0M825 455h0M625 448h0M748 417h0M676 390h0M738 408h0M632 403h0M684 555h0M612 362h0M804 413h0M866 437h0M647 440h0M1192 372h0M688 416h0M929 424h0M675 378h0M596 428h0M980 398h0M785 377h0M921 475h0M803 422h0M838 462h0M897 437h0M760 428h0M876 440h0M658 399h0M1008 430h0M1070 445h0M1013 443h0M726 499h0M933 487h0M828 438h0M699 384h0M694 450h0M603 389h0M985 455h0M655 416h0M1276 396h0M712 299h0M693 380h0M935 311h0M877 472h0M786 403h0M725 519h0M638 473h0M778 443h0M1107 431h0M870 452h0M901 430h0M782 415h0M604 457h0M586 424h0M588 452h0M965 460h0M916 433h0M751 565h0M651 423h0M924 430h0M787 433h0M795 449h0M1286 451h0M710 480h0M575 428h0M1180 473h0M868 437h0M632 429h0M769 457h0M641 410h0M837 423h0M938 406h0M879 431h0M715 451h0M576 430h0M745 498h0M841 409h0M844 412h0M1059 389h0M757 477h0M901 503h0M829 509h0M876 407h0M746 444h0M1039 452h0M605 312h0M768 383h0M809 441h0M942 458h0M860 428h0M733 450h0M682 495h0M802 506h0M1000 444h0M831 508h0M656 400h0M914 509h0M664 402h0M649 343h0M760 508h0M834 381h0M929 444h0M630 417h0M691 457h0M605 461h0M640 478h0M1083 463h0M821 442h0M633 473h0M923 532h0M585 414h0M931 395h0M831 428h0M851 464h0M756 337h0M656 395h0M916 462h0M713 495h0M871 440h0M597 398h0M673 432h0M817 407h0M968 400h0M736 470h0M851 411h0M788 455h0M856 419h0M782 438h0M849 447h0M665 378h0M1270 426h0M758 425h0M626 444h0M828 385h0M632 434h0M854 334h0M588 413h0M610 462h0M605 447h0M816 533h0M714 368h0M577 428h0M768 415h0M802 412h0M787 423h0M849 430h0M878 438h0M889 463h0M904 436h0M898 440h0M707 498h0M834 406h0M724 416h0M851 431h0M940 460h0M1147 423h0M621 444h0M927 480h0M965 469h0M745 381h0M655 415h0M1159 456h0M616 480h0M932 368h0M687 457h0M990 381h0M915 466h0M894 408h0M856 432h0M878 422h0M712 384h0M970 433h0M748 391h0M656 436h0M726 425h0M577 444h0M724 563h0M637 453h0M797 484h0M867 431h0M628 474h0M974 431h0M718 408h0M599 460h0M947 387h0M1004 446h0M673 426h0M700 415h0M768 415h0M725 481h0M638 342h0M870 392h0M639 459h0M781 407h0M729 457h0M606 418h0M768 444h0M599 479h0M830 431h0M692 429h0M610 372h0M582 442h0M1089 471h0M732 340h0M946 464h0M774 396h0M855 439h0M788 519h0M669 438h0M809 428h0M797 491h0M618 505h0M693 473h0M824 504h0M778 416h0M839 407h0M693 467h0M922 474h0M930 489h0M759 420h0M832 442h0M831 432h0M846 449h0M829 429h0M703 507h0M741 522h0M616 430h0M906 404h0M635 414h0M826 457h0M650 454h0M744 411h0M1044 425h0M647 379h0M875 425h0M622 473h0M626 417h0M912 389h0M894 353h0M946 335h0M619 490h0M645 439h0M887 438h0M876 459h0M857 461h0M762 465h0M843 512h0M640 525h0M1021 400h0M894 423h0M729 502h0M681 454h0M699 491h0M962 444h0M743 509h0M974 395h0M830 426h0M664 361h0M685 476h0M921 561h0M800 427h0M683 406h0M739 356h0M808 461h0M812 408h0M1227 399h0M601 435h0M1037 440h0M967 463h0M828 449h0M686 423h0M839 431h0M879 458h0M622 403h0M1034 472h0M792 572h0M675 418h0M917 451h0M716 353h0M919 446h0M718 420h0M576 444h0M797 417h0M764 457h0M599 457h0M893 436h0M719 415h0M816 412h0M850 430h0M732 420h0M606 410h0M907 449h0M883 418h0M698 448h0M765 427h0M810 468h0M732 382h0M1076 442h0M822 479h0M619 442h0M584 423h0M784 382h0M890 465h0M696 374h0M783 385h0M942 470h0M662 428h0M862 453h0M908 420h0M689 486h0M755 402h0M882 416h0M1048 481h0M755 416h0M772 465h0M628 434h0M977 321h0M722 419h0M755 361h0M891 495h0M787 459h0M1071 480h0M923 456h0M887 434h0M621 432h0M782 459h0M967 463h0M667 407h0M861 428h0M776 391h0M940 434h0M1263 431h0M747 459h0M641 438h0M701 431h0M700 498h0M639 413h0M905 484h0M896 415h0M779 515h0M866 488h0M741 449h0M710 451h0M734 396h0M966 486h0M641 375h0M847 494h0M826 547h0M678 397h0M1052 389h0M1002 416h0M940 475h0M962 393h0M675 321h0M986 419h0M754 454h0M639 430h0M632 420h0M714 347h0M689 414h0M707 426h0M955 423h0M667 436h0M692 495h0M811 457h0M1050 413h0M881 380h0M781 402h0M671 319h0M919 458h0M763 407h0M580 432h0M599 413h0M650 475h0M780 414h0M721 320h0M637 434h0M793 441h0M776 405h0M707 423h0M706 496h0M848 523h0M626 475h0M705 488h0M798 393h0M800 431h0M901 482h0M760 385h0M734 402h0M664 472h0M697 423h0M918 597h0M671 427h0M913 478h0M861 483h0M903 437h0M867 401h0M702 453h0M950 581h0M577 437h0M763 446h0M912 445h0M659 476h0M823 417h0M758 509h0M780 468h0M840 585h0M647 457h0M985 409h0M769 448h0M611 526h0M698 407h0M915 414h0M692 463h0M590 462h0M633 432h0M800 438h0M907 466h0M912 432h0M1082 412h0M863 379h0M716 327h0M886 491h0M644 416h0M677 373h0M674 449h0M834 466h0M757 497h0M698 377h0M1197 446h0M640 483h0M802 493h0M931 443h0M647 492h0M952 480h0M950 417h0M855 417h0M686 313h0M836 453h0M584 471h0M706 368h0M759 426h0M896 369h0M670 451h0M1036 441h0M749 430h0M649 389h0M941 431h0M622 469h0M582 430h0M692 368h0M809 410h0M604 429h0M857 460h0M746 534h0M663 449h0M798 427h0M737 417h0M915 446h0M935 421h0M990 427h0M935 444h0M958 473h0M940 417h0M843 445h0M955 437h0M853 334h0M827 432h0M635 483h0M877 436h0M821 390h0M614 422h0M1079 394h0M893 465h0M825 394h0M653 433h0M645 401h0M1015 385h0M841 390h0M948 418h0M880 429h0M764 409h0M622 408h0M1169 479h0M696 295h0M871 457h0M691 411h0M886 443h0M838 430h0M696 448h0M955 443h0M720 396h0M1184 498h0M1002 472h0M614 455h0M743 452h0M870 414h0M581 444h0M945 472h0M990 514h0M619 395h0M625 362h0M843 426h0M647 508h0M901 449h0M737 451h0M765 425h0M945 433h0M753 469h0M738 337h0M684 381h0M724 448h0M719 479h0M657 519h0M883 389h0M787 441h0M937 477h0M999 371h0M579 423h0M845 472h0M804 384h0M649 455h0M967 419h0M788 390h0M661 509h0M709 464h0M624 491h0M731 427h0M743 402h0M585 424h0M933 505h0M629 405h0M767 453h0M627 495h0M862 447h0M683 457h0M644 446h0M969 379h0M918 470h0M984 412h0M739 404h0M662 535h0M934 433h0M634 393h0M936 330h0M881 399h0M799 467h0M631 330h0M935 472h0M954 451h0M838 415h0M652 476h0M818 491h0M1078 400h0M646 425h0M579 432h0M709 472h0M742 495h0M714 392h0M769 485h0M701 427h0M665 433h0M605 406h0M1035 377h0M840 383h0M843 284h0M620 449h0M700 412h0M836 480h0M686 427h0M782 351h0M962 509h0M832 487h0M681 395h0M784 491h0M983 561h0M621 485h0M615 439h0M858 415h0M833 436h0M761 394h0M844 395h0M638 452h0M682 432h0M876 462h0M965 571h0M820 374h0M830 461h0M968 417h0M649 372h0M889 418h0M862 417h0M822 442h0M642 361h0M720 459h0M711 474h0M834 498h0M1032 472h0M753 386h0M767 473h0M1006 442h0M809 444h0M660 454h0M939 424h0M682 459h0M703 411h0M718 481h0M891 410h0M691 349h0M820 374h0M710 415h0M771 438h0M628 420h0M650 372h0M750 584h0M942 484h0M665 429h0M618 428h0M613 446h0M902 421h0M708 442h0M728 347h0M624 372h0M768 433h0M613 449h0M831 367h0M754 428h0M718 438h0M637 468h0M759 429h0M703 361h0M705 393h0M586 461h0M794 425h0M883 435h0M589 445h0M882 436h0M689 412h0M1101 413h0M861 441h0M581 445h0M810 457h0M613 480h0M769 355h0M579 474h0M881 461h0M867 436h0M755 531h0M640 433h0M764 404h0M809 368h0M588 399h0M784 451h0M629 501h0M851 450h0M662 457h0M1029 416h0M929 420h0M793 477h0M902 398h0M581 413h0M737 407h0M639 425h0M698 390h0M738 482h0M660 449h0M825 370h0M985 461h0M608 441h0M810 479h0M637 399h0M960 465h0M621 367h0M938 464h0M758 407h0M775 362h0M657 380h0M639 383h0M737 470h0M810 458h0M692 554h0M1105 442h0M868 430h0M692 504h0M710 389h0M766 454h0M989 461h0M779 340h0M684 436h0M840 317h0M652 559h0M881 398h0M1247 465h0M585 442h0M631 357h0M970 460h0M623 428h0M962 471h0M932 383h0M856 519h0M939 428h0M897 436h0M639 397h0M871 447h0M866 466h0M707 379h0M981 468h0M758 431h0M679 357h0M748 366h0M632 342h0M699 446h0M678 486h0M667 499h0M834 306h0M955 415h0M643 496h0M914 432h0M946 424h0M764 322h0M653 370h0M827 463h0M874 459h0M923 499h0M604 314h0M1060 473h0M881 475h0M730 453h0M680 481h0M681 446h0M660 414h0M730 431h0M740 584h0M651 412h0M825 375h0M775 391h0M992 432h0M603 408h0M795 446h0M739 468h0M954 433h0M721 481h0M699 437h0M904 410h0M625 469h0M687 468h0M995 465h0M683 383h0M975 429h0M821 418h0M665 518h0M744 441h0M854 423h0M636 495h0M763 385h0M767 426h0M814 500h0M737 444h0M682 308h0M862 420h0M849 405h0M632 416h0M795 453h0M722 379h0M688 476h0M747 459h0M580 443h0M753 393h0M695 393h0M798 405h0M853 425h0M1006 461h0M744 445h0M742 358h0M918 382h0M627 456h0M630 450h0M816 402h0M643 482h0M902 426h0M883 462h0M717 409h0M823 406h0M784 539h0M1151 431h0M605 477h0M861 462h0M828 497h0M845 397h0M690 432h0M684 512h0M1146 478h0M851 360h0M709 493h0M958 414h0M735 429h0M709 415h0M990 434h0M810 462h0M602 397h0M887 425h0M961 450h0M928 457h0M1097 368h0M632 429h0M658 375h0M888 451h0M821 375h0M1037 442h0M857 372h0M715 434h0M846 384h0M719 508h0M771 401h0M740 535h0M641 457h0M881 452h0M757 359h0M825 419h0M788 379h0M753 519h0M626 447h0M766 328h0M661 367h0M985 379h0M651 538h0M832 466h0M593 435h0M678 431h0M933 421h0M615 393h0M965 461h0M950 481h0M809 434h0M724 493h0M760 505h0M584 437h0M619 484h0M582 455h0M1034 460h0M577 440h0M933 478h0M740 460h0M1000 416h0M829 358h0M917 451h0M686 351h0M774 460h0M796 523h0M796 302h0M699 461h0M907 433h0M763 486h0M653 506h0M749 553h0M761 462h0M628 379h0M837 509h0M612 429h0M884 417h0M844 509h0M888 413h0M798 310h0M830 392h0M680 425h0M835 369h0M877 467h0M631 473h0M674 456h0M828 406h0M966 385h0M611 427h0M864 511h0M759 400h0M966 449h0M654 411h0M651 449h0M611 490h0M864 568h0M915 491h0M774 414h0M726 461h0M680 363h0M808 346h0M1141 395h0M872 401h0M814 440h0M634 415h0M874 451h0M1030 411h0M914 503h0M887 428h0M753 399h0M744 442h0M929 415h0M800 404h0M750 399h0M809 482h0M643 438h0M644 482h0M611 425h0M676 411h0M763 414h0M798 469h0M765 530h0M657 476h0M605 402h0M765 419h0M754 383h0M881 481h0M930 454h0M620 333h0M755 420h0M979 387h0M691 441h0M909 326h0M754 428h0M841 479h0M905 427h0M943 551h0M941 430h0M888 430h0M820 499h0M1058 449h0M661 475h0M629 481h0M848 393h0M671 390h0M671 384h0M1196 429h0M693 435h0M828 435h0M992 477h0M890 445h0M934 433h0M716 396h0M853 483h0M900 418h0M571 529h0M554 575h0M568 353h0M549 309h0M608 561h0M543 561h0M580 310h0M563 571h0M602 312h0M554 519h0M574 546h0M574 525h0M529 586h0M600 520h0M554 543h0M542 554h0M527 553h0M575 546h0M563 485h0M571 554h0M560 485h0M598 540h0M582 303h0M570 514h0M603 295h0M580 584h0M526 475h0M550 560h0M593 500h0M527 482h0M557 512h0M563 371h0M587 580h0M523 582h0M552 555h0M586 367h0M548 579h0M603 556h0M599 525h0M543 505h0M607 574h0M561 567h0M558 551h0M599 509h0M555 499h0M553 542h0M607 581h0M604 305h0M566 504h0M523 507h0M587 362h0M541 574h0M572 567h0M565 489h0M604 513h0M587 551h0M575 575h0M568 354h0M602 297h0M549 492h0M574 294h0M554 571h0M555 542h0M557 500h0M569 545h0M591 555h0M534 588h0M568 519h0M563 510h0M554 328h0M666 567h0M775 575h0M843 606h0M679 534h0M907 548h0M668 592h0M611 539h0M738 577h0M612 529h0M752 535h0M635 531h0M692 571h0M768 597h0M620 589h0M692 541h0M631 564h0M670 547h0M839 534h0M674 596h0M628 541h0M854 531h0M855 536h0M670 560h0M747 550h0M700 535h0M798 560h0M766 534h0M759 615h0M811 559h0M658 562h0M864 521h0M949 565h0M898 530h0M903 541h0M600 576h0M947 509h0M863 521h0M941 543h0M605 526h0M687 539h0M643 559h0M900 512h0M783 539h0M616 533h0M751 540h0M794 531h0M669 543h0M655 572h0M870 587h0M748 534h0M662 536h0M861 556h0M870 572h0M697 550h0M676 538h0M867 584h0M825 545h0M672 548h0M859 568h0M894 519h0M780 551h0M689 552h0M793 638h0M791 543h0M624 540h0M638 537h0M672 587h0M751 536h0M729 552h0M606 595h0M701 581h0M706 529h0M660 548h0M704 574h0M622 524h0M619 564h0M858 546h0M865 574h0M770 536h0M684 538h0M908 582h0M714 526h0M820 549h0M805 536h0M611 527h0M686 529h0M867 540h0M809 560h0M880 531h0M864 576h0M761 531h0M905 532h0M847 533h0M741 545h0M696 560h0M755 533h0M754 540h0M877 560h0M694 530h0M697 587h0M863 530h0M602 557h0M829 584h0M771 570h0M792 581h0M656 590h0M694 526h0M806 548h0M812 585h0M705 531h0M866 546h0M822 537h0M694 557h0M846 532h0M817 576h0M844 545h0M672 532h0M846 587h0M843 580h0M633 553h0M682 533h0M765 531h0M777 631h0M833 537h0M777 589h0M771 546h0M873 524h0M796 558h0M705 581h0M898 514h0M827 548h0M863 574h0M865 520h0M772 542h0M677 561h0M877 535h0M748 540h0M948 569h0M669 551h0M783 543h0M741 563h0M794 563h0M742 541h0M923 616h0M939 510h0M735 539h0M785 583h0M779 582h0M921 618h0M782 579h0M647 558h0M637 614h0M881 560h0M883 516h0M618 593h0M649 547h0M840 546h0M785 543h0M651 565h0M725 587h0M773 531h0M782 557h0M793 569h0M952 508h0M845 522h0M791 567h0M861 569h0M794 539h0M848 540h0M830 532h0M883 532h0M705 593h0M768 588h0M697 552h0M853 582h0M766 545h0M827 580h0M645 541h0M630 540h0M837 600h0M824 550h0M829 569h0M918 563h0M683 554h0M841 558h0M624 537h0M607 574h0M645 570h0M631 549h0M765 595h0M786 616h0M752 574h0M694 565h0M857 532h0M642 535h0M779 579h0M825 549h0M620 536h0M634 833h0M679 786h0M740 785h0M740 771h0M732 764h0M779 781h0M782 770h0M797 772h0M780 762h0M844 764h0M851 781h0M848 809h0M841 828h0M842 834h0M853 826h0M876 818h0M884 817h0M895 803h0M896 809h0M913 807h0M914 827h0M902 835h0M941 802h0M964 764h0M999 785h0M1013 762h0M1063 834h0M867 21h0M834 43h0M837 42h0M770 64h0M789 62h0M776 97h0M866 90h0M848 157h0M563 159h0M786 184h0M823 190h0M813 196h0M559 195h0M562 207h0M601 205h0M769 203h0M794 210h0M804 208h0M826 208h0M862 207h0M590 220h0M598 222h0M670 215h0M719 214h0M742 212h0M760 217h0M719 235h0M717 239h0M736 239h0M892 226h0M501 251h0M547 261h0M641 255h0M668 262h0M685 255h0M700 254h0M796 249h0M812 251h0M791 259h0M868 248h0M850 257h0M850 263h0M530 268h0M572 270h0M637 268h0M927 102h0M1020 151h0M1157 171h0M963 192h0M1068 218h0M1108 237h0M1117 246h0M956 240h0M903 245h0M911 246h0M956 258h0M960 261h0M923 256h0M934 264h0M941 267h0M1427 212h0M1448 287h0M1238 313h0M1231 342h0M1278 341h0M1290 356h0M1289 360h0M1263 363h0M1266 364h0M1364 314h0M1346 327h0M1356 379h0M1366 392h0M1419 400h0M1479 349h0M1528 326h0M1520 400h0M1447 418h0M1456 429h0M1466 434h0M1438 433h0M1511 428h0M1577 420h0M1579 426h0M1633 416h0M1637 426h0M1559 436h0M1501 453h0M1609 450h0M1644 484h0M1487 488h0M1434 488h0M1373 489h0M1374 519h0M1385 435h0M1393 444h0M1337 473h0M1303 498h0M1279 470h0M1316 400h0M1325 398h0M1335 397h0M1306 408h0M1315 414h0M1329 408h0M1300 420h0M1305 424h0M1318 436h0M1308 440h0M1324 442h0M1338 439h0M1350 447h0M1311 455h0M1319 460h0M1326 452h0M1298 460h0M1338 447h0M1289 447h0M1273 448h0M1277 424h0M1268 424h0M1063 604h0M1094 634h0M1053 646h0M1140 641h0M1218 626h0M1100 659h0M1117 658h0M1162 678h0M1266 691h0M1104 717h0M1246 730h0M1418 729h0M1164 747h0M1208 763h0M1284 784h0M1079 598h0M1143 598h0M1233 555h0M1225 527h0M1208 529h0M1220 507h0M1145 528h0M1126 532h0M1122 539h0M1117 521h0M1097 519h0M1093 540h0M1076 531h0M1076 547h0M1110 556h0M1094 572h0M1066 576h0M1050 560h0M1077 286h0M1172 295h0M1153 279h0M1062 308h0M1116 315h0M1124 318h0M1132 320h0M1143 319h0M1153 310h0M1156 317h0M1124 327h0M1134 329h0M1086 321h0M1063 328h0M1097 331h0M1089 341h0M1070 342h0M1154 336h0M1166 332h0M1175 327h0M1179 333h0M1188 322h0M1173 347h0M1188 343h0M1192 343h0M1120 347h0M1075 350h0M534 657h0M575 653h0M604 650h0M615 643h0M633 644h0M639 654h0M660 648h0M693 652h0M702 648h0M745 644h0M763 644h0M747 658h0M734 663h0M713 661h0M681 666h0M702 670h0M718 672h0M705 679h0M686 684h0M754 674h0M776 660h0M774 674h0M776 682h0M772 689h0M785 689h0M798 690h0M810 688h0M815 688h0M804 673h0M811 672h0M814 671h0M824 671h0M831 675h0M838 674h0M844 671h0M871 667h0M813 658h0M842 657h0M888 650h0M895 642h0M613 685h0M621 696h0M638 700h0M559 690h0M561 700h0M576 702h0M590 720h0M642 724h0M704 710h0M716 703h0M722 700h0M759 701h0M781 697h0M793 701h0M789 724h0M774 730h0M819 713h0M821 718h0M824 726h0M829 727h0M858 720h0M862 702h0M865 707h0M875 727h0M834 741h0M802 745h0M739 735h0M730 739h0M730 743h0M750 755h0M759 751h0M766 754h0M731 762h0M733 761h0M730 766h0M862 760h0M874 758h0M888 746h0M893 753h0M508 620h0M514 629h0M556 594h0M554 606h0M555 619h0M556 623h0M556 630h0M578 614h0M583 624h0M595 626h0M600 636h0M618 616h0M622 604h0M651 614h0M661 622h0M662 627h0M674 630h0M689 635h0M692 636h0M685 611h0M692 620h0M706 627h0M703 610h0M704 614h0M722 634h0M720 622h0M722 617h0M731 636h0M736 634h0M738 627h0M748 623h0M744 609h0M750 611h0M756 634h0M756 640h0M760 609h0M767 612h0M767 627h0M776 610h0M782 627h0M787 617h0M789 612h0M811 624h0M820 618h0M832 618h0M832 607h0M836 605h0M857 618h0M863 612h0M860 609h0M882 615h0M900 602h0M907 599h0M918 602h0M962 596h0M965 600h0M992 594h0M1017 600h0M951 616h0M970 616h0M990 611h0M996 610h0M988 619h0M1006 618h0M904 634h0M921 636h0M930 630h0M893 644h0M979 636h0M985 634h0M983 640h0M1010 636h0M938 654h0M947 660h0M959 655h0M1009 665h0M982 673h0M1004 675h0M912 715h0M912 720h0M932 720h0M964 727h0M531 286h0M550 285h0M558 286h0M573 271h0M571 281h0M600 282h0M566 297h0M569 304h0M579 308h0M590 302h0M591 310h0M595 319h0M522 308h0M535 308h0M527 317h0M557 306h0M550 313h0M561 313h0M560 321h0M568 321h0M575 321h0M586 322h0M579 328h0M571 333h0M560 338h0M548 346h0M562 345h0M561 353h0M540 357h0M547 358h0M539 367h0M538 371h0M548 380h0M556 371h0M563 364h0M567 376h0M559 384h0M568 384h0M564 395h0M550 403h0M553 410h0M569 412h0M579 363h0M582 360h0M580 381h0M551 447h0M559 453h0M568 452h0M550 463h0M554 469h0M547 479h0M559 483h0M584 488h0M541 494h0M550 493h0M569 491h0M563 500h0M574 500h0M549 507h0M558 507h0M569 510h0M538 510h0M537 522h0M549 519h0M558 523h0M569 527h0M580 523h0M592 528h0M533 536h0M543 537h0M555 537h0M566 536h0M524 546h0M553 545h0M562 551h0M582 545h0M585 551h0M523 565h0M523 569h0M551 565h0M558 568h0M574 570h0M580 570h0M537 574h0M531 581h0M543 586h0M558 581h0M569 582h0M589 592h0M593 594h0" stroke="#bebebe" stroke-width="8.4" stroke-linecap="round" fill="none"/><path d="M687.9 16.2h9.2l-4.6 -8.2zM748.2 16.2h9.2l-4.6 -8.2zM774.2 16.2h9.2l-4.6 -8.2zM821.5 16.2h9.2l-4.6 -8.2zM839.0 16.2h9.2l-4.6 -8.2zM863.6 16.2h9.2l-4.6 -8.2zM896.4 16.2h9.2l-4.6 -8.2zM920.9 16.2h9.2l-4.6 -8.2zM987.2 16.2h9.2l-4.6 -8.2zM651.6 845.3h9.2l-4.6 8.2zM706.3 845.3h9.2l-4.6 8.2zM710.7 845.3h9.2l-4.6 8.2zM713.7 845.3h9.2l-4.6 8.2zM747.7 845.3h9.2l-4.6 8.2zM797.9 845.3h9.2l-4.6 8.2zM800.0 845.3h9.2l-4.6 8.2zM808.3 845.3h9.2l-4.6 8.2zM821.6 845.3h9.2l-4.6 8.2zM830.5 845.3h9.2l-4.6 8.2zM843.2 845.3h9.2l-4.6 8.2zM846.1 845.3h9.2l-4.6 8.2zM866.8 845.3h9.2l-4.6 8.2zM909.6 845.3h9.2l-4.6 8.2zM968.1 845.3h9.2l-4.6 8.2zM984.7 845.3h9.2l-4.6 8.2zM992.5 845.3h9.2l-4.6 8.2zM1005.8 845.3h9.2l-4.6 8.2zM1102.5 845.3h9.2l-4.6 8.2z" stroke="#bebebe" stroke-width="1.5" fill="none" stroke-linejoin="miter"/></g>
<path d="M500.5 431H1646.5" stroke="#e21b2a" stroke-width="1.9" fill="none"/>
<rect x="500.5" y="3.5" width="1146.0" height="855.0" fill="none" stroke="#1a1a1a" stroke-width="1.25"/>
<path d="M649.0 858.0v6M876.0 858.0v6M1103.0 858.0v6M1330.0 858.0v6M1557.0 858.0v6M500.5 97.0h-6M500.5 264.0h-6M500.5 431.0h-6M500.5 598.0h-6M500.5 765.0h-6" stroke="#222" stroke-width="1.5" fill="none"/>
<text class="t" x="492.3" y="104.3" text-anchor="end">2</text>
<text class="t" x="492.3" y="271.3" text-anchor="end">1</text>
<text class="t" x="492.3" y="438.3" text-anchor="end">0</text>
<text class="t" x="492.3" y="605.3" text-anchor="end">-1</text>
<text class="t" x="492.3" y="772.3" text-anchor="end">-2</text>
<text class="t" x="631.8" y="888.2">10<tspan dy="-9.4" dx="0.8" font-size="14.6px">1</tspan></text>
<text class="t" x="858.8" y="888.2">10<tspan dy="-9.4" dx="0.8" font-size="14.6px">2</tspan></text>
<text class="t" x="1085.8" y="888.2">10<tspan dy="-9.4" dx="0.8" font-size="14.6px">3</tspan></text>
<text class="t" x="1312.8" y="888.2">10<tspan dy="-9.4" dx="0.8" font-size="14.6px">4</tspan></text>
<text class="t" x="1539.8" y="888.2">10<tspan dy="-9.4" dx="0.8" font-size="14.6px">5</tspan></text>
<text class="h" x="1072" y="917" text-anchor="middle" font-size="22.2px" fill="#000">cumulative expression level</text>
<text class="h" transform="translate(463,431) rotate(-90)" text-anchor="middle" font-size="21.9px" fill="#000">log2FoldChange</text>
<text class="h" transform="translate(383,268) rotate(-90)" text-anchor="middle" font-size="25.6px" fill="#000">Increased in IL-1b treated</text>
<text class="h" transform="translate(383,589) rotate(-90)" text-anchor="middle" font-size="25.6px" fill="#000">Decreased in IL-1b treated</text>
<path d="M410.7 387.5V14M410.7 472.5V848" stroke="#000" stroke-width="2.2" fill="none"/>
<path d="M410.7 2.5L420 18H401.4ZM410.7 860.5L420 845H401.4Z" fill="#000"/>
<text class="pl" x="317" y="15">a</text>
<circle cx="732.9" cy="342.3" r="4.2" fill="#e41a1c"/><circle cx="748" cy="233.9" r="4.2" fill="#e41a1c"/><circle cx="828.7" cy="284.8" r="4.2" fill="#e41a1c"/><circle cx="853.5" cy="283.5" r="4.2" fill="#e41a1c"/><circle cx="1039.4" cy="307.1" r="4.2" fill="#e41a1c"/><circle cx="1275.8" cy="321.9" r="4.2" fill="#e41a1c"/><circle cx="1350.6" cy="336.1" r="4.2" fill="#e41a1c"/><circle cx="1178.4" cy="521.3" r="4.2" fill="#e41a1c"/><circle cx="973.2" cy="555.2" r="4.2" fill="#e41a1c"/><circle cx="1006.8" cy="516.1" r="4.2" fill="#e41a1c"/><circle cx="873.9" cy="539" r="4.2" fill="#e41a1c"/><circle cx="783.5" cy="544.5" r="4.2" fill="#e41a1c"/><circle cx="921.3" cy="675.7" r="4.2" fill="#e41a1c"/><path d="M744.8 273.5L732.9 342.3" stroke="#000" stroke-width="1.8" fill="none"/><path d="M849.7 242.9L828.7 284.8" stroke="#000" stroke-width="1.8" fill="none"/><path d="M858.4 281L853.5 283.5" stroke="#000" stroke-width="1.8" fill="none"/><path d="M1044.2 273.5L1039.4 307.1" stroke="#000" stroke-width="1.8" fill="none"/><path d="M1287 312.9L1275.8 321.9" stroke="#000" stroke-width="1.8" fill="none"/><path d="M1359.7 345L1350.6 336.1" stroke="#000" stroke-width="1.8" fill="none"/><path d="M1013.9 521L1006.8 516.1" stroke="#000" stroke-width="1.8" fill="none"/><path d="M887.4 551.9L873.9 539" stroke="#000" stroke-width="1.8" fill="none"/><path d="M828.7 628L783.5 544.5" stroke="#000" stroke-width="1.8" fill="none"/><path d="M912 682L921.3 675.7" stroke="#000" stroke-width="1.8" fill="none"/><rect x="705.5" y="243.9" width="76.8" height="29.6" rx="4.2" fill="#fff" stroke="#000" stroke-width="1.35"/><text class="g" x="743.9" y="265.9" text-anchor="middle">Kcnj12</text><rect x="750.6" y="217.7" width="76.4" height="29.7" rx="4.2" fill="#fff" stroke="#000" stroke-width="1.35"/><text class="g" x="788.8" y="239.8" text-anchor="middle">Slc8a1</text><rect x="813.5" y="213.2" width="76.8" height="29.7" rx="4.2" fill="#fff" stroke="#000" stroke-width="1.35"/><text class="g" x="851.9" y="235.2" text-anchor="middle">Kcnj11</text><rect x="858.4" y="256.5" width="73.4" height="29.6" rx="4.2" fill="#fff" stroke="#000" stroke-width="1.35"/><text class="g" x="895.1" y="278.5" text-anchor="middle">Kcnq1</text><rect x="1010.6" y="243.9" width="67.8" height="29.6" rx="4.2" fill="#fff" stroke="#000" stroke-width="1.35"/><text class="g" x="1044.5" y="265.9" text-anchor="middle">Tpm2</text><rect x="1091.9" y="278.4" width="75.2" height="29.7" rx="4.2" fill="#fff" stroke="#000" stroke-width="1.35"/><text class="g" x="1129.5" y="300.4" text-anchor="middle">Lgals3</text><rect x="1268.4" y="283.2" width="78.7" height="29.7" rx="4.2" fill="#fff" stroke="#000" stroke-width="1.35"/><text class="g" x="1307.8" y="305.2" text-anchor="middle">Atp2a2</text><rect x="1359.7" y="340" width="71.6" height="30.0" rx="4.2" fill="#fff" stroke="#000" stroke-width="1.35"/><text class="g" x="1395.5" y="362.2" text-anchor="middle">Tnnc1</text><rect x="1158" y="493.2" width="43.6" height="29.7" rx="4.2" fill="#fff" stroke="#000" stroke-width="1.35"/><text class="g" x="1179.8" y="515.2" text-anchor="middle">Pln</text><rect x="976.5" y="538" width="68.3" height="29.4" rx="4.2" fill="#fff" stroke="#000" stroke-width="1.35"/><text class="g" x="1010.6" y="559.9" text-anchor="middle">Tpm3</text><rect x="1013.9" y="514.5" width="56.1" height="29.4" rx="4.2" fill="#fff" stroke="#000" stroke-width="1.35"/><text class="g" x="1042.0" y="536.4" text-anchor="middle">Ccl2</text><rect x="872.6" y="551.9" width="48.7" height="29.7" rx="4.2" fill="#fff" stroke="#000" stroke-width="1.35"/><text class="g" x="897.0" y="574.0" text-anchor="middle">Ace</text><rect x="784.5" y="628" width="95.8" height="29.4" rx="4.2" fill="#fff" stroke="#000" stroke-width="1.35"/><text class="g" x="832.4" y="649.9" text-anchor="middle">Cacna1c</text><rect x="876.4" y="676.6" width="35.6" height="30.4" rx="4.2" fill="#fff" stroke="#000" stroke-width="1.35"/><text class="g" x="894.2" y="699.0" text-anchor="middle">Il6</text>
</g>
<g id="panel-b">
<text class="pl" x="-2" y="984.5">b</text>
<rect x="5.4" y="1014.8" width="19.8" height="10" fill="#377eb8"/>
<rect x="27.4" y="1014.8" width="19.8" height="10" fill="#f5871f"/>
<rect x="124.0" y="1014.8" width="19.8" height="10" fill="#abc2df"/>
<rect x="145.2" y="1014.8" width="19.8" height="10" fill="#fdcf7a"/>
<text class="s" x="50.1" y="1024.5">FDR ≤ 0.05</text>
<text class="s" x="168.0" y="1024.5">FDR &gt; 0.05</text>
<path d="M473.4 1054.6V1492.0M26.0 1492.0H921.0M26.0 1492.0v5.5M115.5 1492.0v5.5M205.0 1492.0v5.5M294.5 1492.0v5.5M384.0 1492.0v5.5M473.5 1492.0v5.5M563.0 1492.0v5.5M652.5 1492.0v5.5M742.0 1492.0v5.5M831.5 1492.0v5.5M921.0 1492.0v5.5" stroke="#000" stroke-width="1.35" fill="none"/>
<rect x="472.7" y="1057.6" width="394.2" height="19.9" fill="#377eb8"/>
<text class="d" x="467.1" y="1071.6" text-anchor="end">PPAR signaling pathway</text>
<rect x="472.7" y="1079.2" width="386.7" height="19.9" fill="#377eb8"/>
<text class="d" x="467.1" y="1093.2" text-anchor="end">Carbon metabolism</text>
<rect x="472.7" y="1100.9" width="372.2" height="19.9" fill="#377eb8"/>
<text class="d" x="467.1" y="1114.9" text-anchor="end">Citrate cycle (TCA cycle)</text>
<rect x="472.7" y="1122.5" width="351.8" height="19.9" fill="#377eb8"/>
<text class="d" x="467.1" y="1136.5" text-anchor="end">Pyruvate metabolism</text>
<rect x="472.7" y="1144.2" width="342.9" height="19.9" fill="#377eb8"/>
<text class="d" x="467.1" y="1158.2" text-anchor="end">Biosynthesis of amino acids</text>
<rect x="472.7" y="1165.8" width="334.6" height="19.9" fill="#377eb8"/>
<text class="d" x="467.1" y="1179.8" text-anchor="end">Steroid hormone biosynthesis</text>
<rect x="472.7" y="1187.4" width="332.9" height="19.9" fill="#377eb8"/>
<text class="d" x="467.1" y="1201.4" text-anchor="end">Fatty acid metabolism</text>
<rect x="472.7" y="1209.1" width="323.0" height="19.9" fill="#377eb8"/>
<text class="d" x="467.1" y="1223.1" text-anchor="end">Glyoxylate and dicarboxylate metabolism</text>
<rect x="472.7" y="1230.7" width="321.4" height="19.9" fill="#377eb8"/>
<text class="d" x="467.1" y="1244.7" text-anchor="end">Huntington disease</text>
<rect x="472.7" y="1252.4" width="320.3" height="19.9" fill="#377eb8"/>
<text class="d" x="467.1" y="1266.4" text-anchor="end">2-Oxocarboxylic acid metabolism</text>
<rect x="101.3" y="1274.0" width="371.4" height="19.9" fill="#f5871f"/>
<text class="d" x="481.7" y="1288.9">Cytosolic DNA-sensing pathway</text>
<rect x="96.8" y="1295.6" width="375.9" height="19.9" fill="#f5871f"/>
<text class="d" x="481.7" y="1310.5">IL-17 signaling pathway</text>
<rect x="93.0" y="1317.3" width="379.7" height="19.9" fill="#f5871f"/>
<text class="d" x="481.7" y="1332.2">Cytokine-cytokine receptor interaction</text>
<rect x="90.3" y="1338.9" width="382.4" height="19.9" fill="#f5871f"/>
<text class="d" x="481.7" y="1353.8">NF-kappa B signaling pathway</text>
<rect x="82.0" y="1360.6" width="390.7" height="19.9" fill="#f5871f"/>
<text class="d" x="481.7" y="1375.5">Malaria</text>
<rect x="81.5" y="1382.2" width="391.2" height="19.9" fill="#f5871f"/>
<text class="d" x="481.7" y="1397.1">Epstein-Barr virus infection</text>
<rect x="80.4" y="1403.8" width="392.3" height="19.9" fill="#f5871f"/>
<text class="d" x="481.7" y="1418.7">Herpes simplex infection</text>
<rect x="66.4" y="1425.5" width="406.3" height="19.9" fill="#f5871f"/>
<text class="d" x="481.7" y="1440.4">NOD-like receptor signaling pathway</text>
<rect x="61.0" y="1447.1" width="411.7" height="19.9" fill="#f5871f"/>
<text class="d" x="481.7" y="1462.0">Measles</text>
<rect x="57.0" y="1468.8" width="415.7" height="19.9" fill="#f5871f"/>
<text class="d" x="481.7" y="1483.7">Influenza A</text>
<text class="d" x="26.0" y="1510.3" text-anchor="middle">-2.5</text>
<text class="d" x="115.5" y="1510.3" text-anchor="middle">-2.0</text>
<text class="d" x="205.0" y="1510.3" text-anchor="middle">-1.5</text>
<text class="d" x="294.5" y="1510.3" text-anchor="middle">-1.0</text>
<text class="d" x="384.0" y="1510.3" text-anchor="middle">-0.5</text>
<text class="d" x="473.5" y="1510.3" text-anchor="middle">0.0</text>
<text class="d" x="563.0" y="1510.3" text-anchor="middle">0.5</text>
<text class="d" x="652.5" y="1510.3" text-anchor="middle">1.0</text>
<text class="d" x="742.0" y="1510.3" text-anchor="middle">1.5</text>
<text class="d" x="831.5" y="1510.3" text-anchor="middle">2.0</text>
<text class="d" x="921.0" y="1510.3" text-anchor="middle">2.5</text>
<text class="d" x="472.5" y="1522.0" text-anchor="middle">Normalized Enrichment Score</text>
</g>
<g id="panel-c">
<text class="pl" x="1061" y="996">c</text>
<rect x="1101.7" y="1009.4" width="19.8" height="10" fill="#377eb8"/>
<rect x="1123.7" y="1009.4" width="19.8" height="10" fill="#f5871f"/>
<rect x="1220.3" y="1009.4" width="19.8" height="10" fill="#abc2df"/>
<rect x="1241.5" y="1009.4" width="19.8" height="10" fill="#fdcf7a"/>
<text class="s" x="1146.4" y="1019.1">FDR ≤ 0.05</text>
<text class="s" x="1264.3" y="1019.1">FDR &gt; 0.05</text>
<path d="M1569.7 1049.2V1486.6M1122.3 1486.6H2017.3M1122.3 1486.6v5.5M1211.8 1486.6v5.5M1301.3 1486.6v5.5M1390.8 1486.6v5.5M1480.3 1486.6v5.5M1569.8 1486.6v5.5M1659.3 1486.6v5.5M1748.8 1486.6v5.5M1838.3 1486.6v5.5M1927.8 1486.6v5.5M2017.3 1486.6v5.5" stroke="#000" stroke-width="1.35" fill="none"/>
<rect x="1569.0" y="1052.2" width="395.3" height="19.9" fill="#377eb8"/>
<text class="d" x="1564.0" y="1066.2" text-anchor="end">Gluconeogenesis</text>
<rect x="1569.0" y="1073.8" width="392.5" height="19.9" fill="#377eb8"/>
<text class="d" x="1560.1" y="1087.8" text-anchor="end">The citric acid (TCA) cycle and respiratory electron transport</text>
<rect x="1569.0" y="1095.5" width="390.8" height="19.9" fill="#377eb8"/>
<text class="d" x="1562.1" y="1109.5" text-anchor="end">Pyruvate metabolism and Citric Acid (TCA) cycle</text>
<rect x="1569.0" y="1117.1" width="386.3" height="19.9" fill="#377eb8"/>
<text class="d" x="1563.4" y="1131.1" text-anchor="end">COPI-mediated anterograde transport</text>
<rect x="1569.0" y="1138.8" width="377.8" height="19.9" fill="#377eb8"/>
<text class="d" x="1562.1" y="1152.8" text-anchor="end">Citric acid cycle (TCA cycle)</text>
<rect x="1569.0" y="1160.4" width="377.2" height="19.9" fill="#377eb8"/>
<text class="d" x="1562.1" y="1174.4" text-anchor="end">ER to Golgi Anterograde Transport</text>
<rect x="1569.0" y="1182.0" width="371.3" height="19.9" fill="#377eb8"/>
<text class="d" x="1564.0" y="1196.0" text-anchor="end">Mitochondrial translation elongation</text>
<rect x="1569.0" y="1203.7" width="367.3" height="19.9" fill="#377eb8"/>
<text class="d" x="1563.4" y="1217.7" text-anchor="end">Mitochondrial translation</text>
<rect x="1569.0" y="1225.3" width="365.4" height="19.9" fill="#377eb8"/>
<text class="d" x="1563.4" y="1239.3" text-anchor="end">Mitochondrial translation termination</text>
<rect x="1569.0" y="1247.0" width="361.7" height="19.9" fill="#377eb8"/>
<text class="d" x="1560.1" y="1261.0" text-anchor="end">Recycling pathway of L1</text>
<rect x="1243.5" y="1268.6" width="325.5" height="19.9" fill="#fdcf7a"/>
<text class="d" x="1578.0" y="1283.5">Regulation of IFNA signaling</text>
<rect x="1239.5" y="1290.2" width="329.5" height="19.9" fill="#fdcf7a"/>
<text class="d" x="1578.0" y="1305.1">Endosomal/Vacuolar pathway</text>
<rect x="1229.3" y="1311.9" width="339.7" height="19.9" fill="#f5871f"/>
<text class="d" x="1578.0" y="1326.8">Interleukin-6 family signaling</text>
<rect x="1222.0" y="1333.5" width="347.0" height="19.9" fill="#f5871f"/>
<text class="d" x="1578.0" y="1348.4">Attenuation phase</text>
<rect x="1220.4" y="1355.2" width="348.6" height="19.9" fill="#f5871f"/>
<text class="d" x="1578.0" y="1370.1">Other interleukin signaling</text>
<rect x="1202.4" y="1376.8" width="366.6" height="19.9" fill="#f5871f"/>
<text class="d" x="1578.0" y="1391.7">Interferon alpha/beta signaling</text>
<rect x="1194.4" y="1398.4" width="374.6" height="19.9" fill="#f5871f"/>
<text class="d" x="1578.0" y="1413.3">Cytokine Signaling in Immune system</text>
<rect x="1159.7" y="1420.1" width="409.3" height="19.9" fill="#f5871f"/>
<text class="d" x="1578.0" y="1435.0">Antiviral mechanism by IFN-stimulated genes</text>
<rect x="1156.2" y="1441.7" width="412.8" height="19.9" fill="#f5871f"/>
<text class="d" x="1578.0" y="1456.6">ISG15 antiviral mechanism</text>
<rect x="1144.6" y="1463.4" width="424.4" height="19.9" fill="#f5871f"/>
<text class="d" x="1578.0" y="1478.3">Interferon Signaling</text>
<text class="d" x="1122.3" y="1504.9" text-anchor="middle">-2.5</text>
<text class="d" x="1211.8" y="1504.9" text-anchor="middle">-2.0</text>
<text class="d" x="1301.3" y="1504.9" text-anchor="middle">-1.5</text>
<text class="d" x="1390.8" y="1504.9" text-anchor="middle">-1.0</text>
<text class="d" x="1480.3" y="1504.9" text-anchor="middle">-0.5</text>
<text class="d" x="1569.8" y="1504.9" text-anchor="middle">0.0</text>
<text class="d" x="1659.3" y="1504.9" text-anchor="middle">0.5</text>
<text class="d" x="1748.8" y="1504.9" text-anchor="middle">1.0</text>
<text class="d" x="1838.3" y="1504.9" text-anchor="middle">1.5</text>
<text class="d" x="1927.8" y="1504.9" text-anchor="middle">2.0</text>
<text class="d" x="2017.3" y="1504.9" text-anchor="middle">2.5</text>
<text class="d" x="1568.8" y="1516.6" text-anchor="middle">Normalized Enrichment Score</text>
</g>
<g id="panel-d">
<text class="pl" x="541" y="1634">d</text>
<rect x="607.6" y="1657.1" width="19.8" height="10" fill="#377eb8"/>
<rect x="629.6" y="1657.1" width="19.8" height="10" fill="#f5871f"/>
<rect x="726.2" y="1657.1" width="19.8" height="10" fill="#abc2df"/>
<rect x="747.4" y="1657.1" width="19.8" height="10" fill="#fdcf7a"/>
<text class="s" x="652.3" y="1666.8">FDR ≤ 0.05</text>
<text class="s" x="770.2" y="1666.8">FDR &gt; 0.05</text>
<path d="M1075.6 1696.9V2134.3M628.2 2134.3H1523.2M628.2 2134.3v5.5M717.7 2134.3v5.5M807.2 2134.3v5.5M896.7 2134.3v5.5M986.2 2134.3v5.5M1075.7 2134.3v5.5M1165.2 2134.3v5.5M1254.7 2134.3v5.5M1344.2 2134.3v5.5M1433.7 2134.3v5.5M1523.2 2134.3v5.5" stroke="#000" stroke-width="1.35" fill="none"/>
<rect x="1074.9" y="1699.9" width="396.9" height="19.9" fill="#377eb8"/>
<text class="d" x="1069.3" y="1713.9" text-anchor="end">PPAR signaling pathway</text>
<rect x="1074.9" y="1721.5" width="389.1" height="19.9" fill="#377eb8"/>
<text class="d" x="1069.3" y="1735.5" text-anchor="end">TCA Cycle</text>
<rect x="1074.9" y="1743.2" width="378.6" height="19.9" fill="#377eb8"/>
<text class="d" x="1071.1" y="1757.2" text-anchor="end">Glycolysis and Gluconeogenesis</text>
<rect x="1074.9" y="1764.8" width="336.9" height="19.9" fill="#377eb8"/>
<text class="d" x="1069.3" y="1778.8" text-anchor="end">Omega-9 FA synthesis</text>
<rect x="1074.9" y="1786.5" width="328.9" height="19.9" fill="#377eb8"/>
<text class="d" x="1069.3" y="1800.5" text-anchor="end">Glycogen Metabolism</text>
<rect x="1074.9" y="1808.1" width="327.0" height="19.9" fill="#377eb8"/>
<text class="d" x="1067.3" y="1822.1" text-anchor="end">Electron Transport Chain</text>
<rect x="1074.9" y="1829.7" width="325.6" height="19.9" fill="#377eb8"/>
<text class="d" x="1068.1" y="1843.7" text-anchor="end">Nuclear receptors in lipid metabolism and toxicity</text>
<rect x="1074.9" y="1851.4" width="301.2" height="19.9" fill="#abc2df"/>
<text class="d" x="1069.3" y="1865.4" text-anchor="end">Fatty Acid Biosynthesis</text>
<rect x="1074.9" y="1873.0" width="298.2" height="19.9" fill="#abc2df"/>
<text class="d" x="1069.3" y="1887.0" text-anchor="end">Amino Acid metabolism</text>
<rect x="1074.9" y="1894.7" width="294.7" height="19.9" fill="#abc2df"/>
<text class="d" x="1067.5" y="1908.7" text-anchor="end">Leptin and adiponectin</text>
<rect x="786.0" y="1916.3" width="288.9" height="19.9" fill="#fdcf7a"/>
<text class="d" x="1083.9" y="1931.2">p38 MAPK Signaling Pathway</text>
<rect x="777.4" y="1937.9" width="297.5" height="19.9" fill="#fdcf7a"/>
<text class="d" x="1083.9" y="1952.8">Complement and Coagulation Cascades</text>
<rect x="776.6" y="1959.6" width="298.3" height="19.9" fill="#fdcf7a"/>
<text class="d" x="1083.9" y="1974.5">Chemokine signaling pathway</text>
<rect x="775.3" y="1981.2" width="299.6" height="19.9" fill="#fdcf7a"/>
<text class="d" x="1083.9" y="1996.1">Inflammatory Response Pathway</text>
<rect x="769.4" y="2002.9" width="305.5" height="19.9" fill="#fdcf7a"/>
<text class="d" x="1083.9" y="2017.8">Complement Activation, Classical Pathway</text>
<rect x="759.9" y="2024.5" width="315.0" height="19.9" fill="#fdcf7a"/>
<text class="d" x="1083.9" y="2039.4">Apoptosis</text>
<rect x="756.5" y="2046.1" width="318.4" height="19.9" fill="#fdcf7a"/>
<text class="d" x="1083.9" y="2061.0">Hypertrophy Model</text>
<rect x="739.8" y="2067.8" width="335.1" height="19.9" fill="#f5871f"/>
<text class="d" x="1083.9" y="2082.7">Cytokines and Inflammatory Response</text>
<rect x="708.9" y="2089.4" width="366.0" height="19.9" fill="#f5871f"/>
<text class="d" x="1083.9" y="2104.3">Lung fibrosis</text>
<rect x="658.3" y="2111.1" width="416.6" height="19.9" fill="#f5871f"/>
<text class="d" x="1083.9" y="2126.0">Type II interferon signaling (IFNG)</text>
<text class="d" x="628.2" y="2152.6" text-anchor="middle">-2.5</text>
<text class="d" x="717.7" y="2152.6" text-anchor="middle">-2.0</text>
<text class="d" x="807.2" y="2152.6" text-anchor="middle">-1.5</text>
<text class="d" x="896.7" y="2152.6" text-anchor="middle">-1.0</text>
<text class="d" x="986.2" y="2152.6" text-anchor="middle">-0.5</text>
<text class="d" x="1075.7" y="2152.6" text-anchor="middle">0.0</text>
<text class="d" x="1165.2" y="2152.6" text-anchor="middle">0.5</text>
<text class="d" x="1254.7" y="2152.6" text-anchor="middle">1.0</text>
<text class="d" x="1344.2" y="2152.6" text-anchor="middle">1.5</text>
<text class="d" x="1433.7" y="2152.6" text-anchor="middle">2.0</text>
<text class="d" x="1523.2" y="2152.6" text-anchor="middle">2.5</text>
<text class="d" x="1074.7" y="2164.3" text-anchor="middle">Normalized Enrichment Score</text>
</g>
</svg></body></html>
